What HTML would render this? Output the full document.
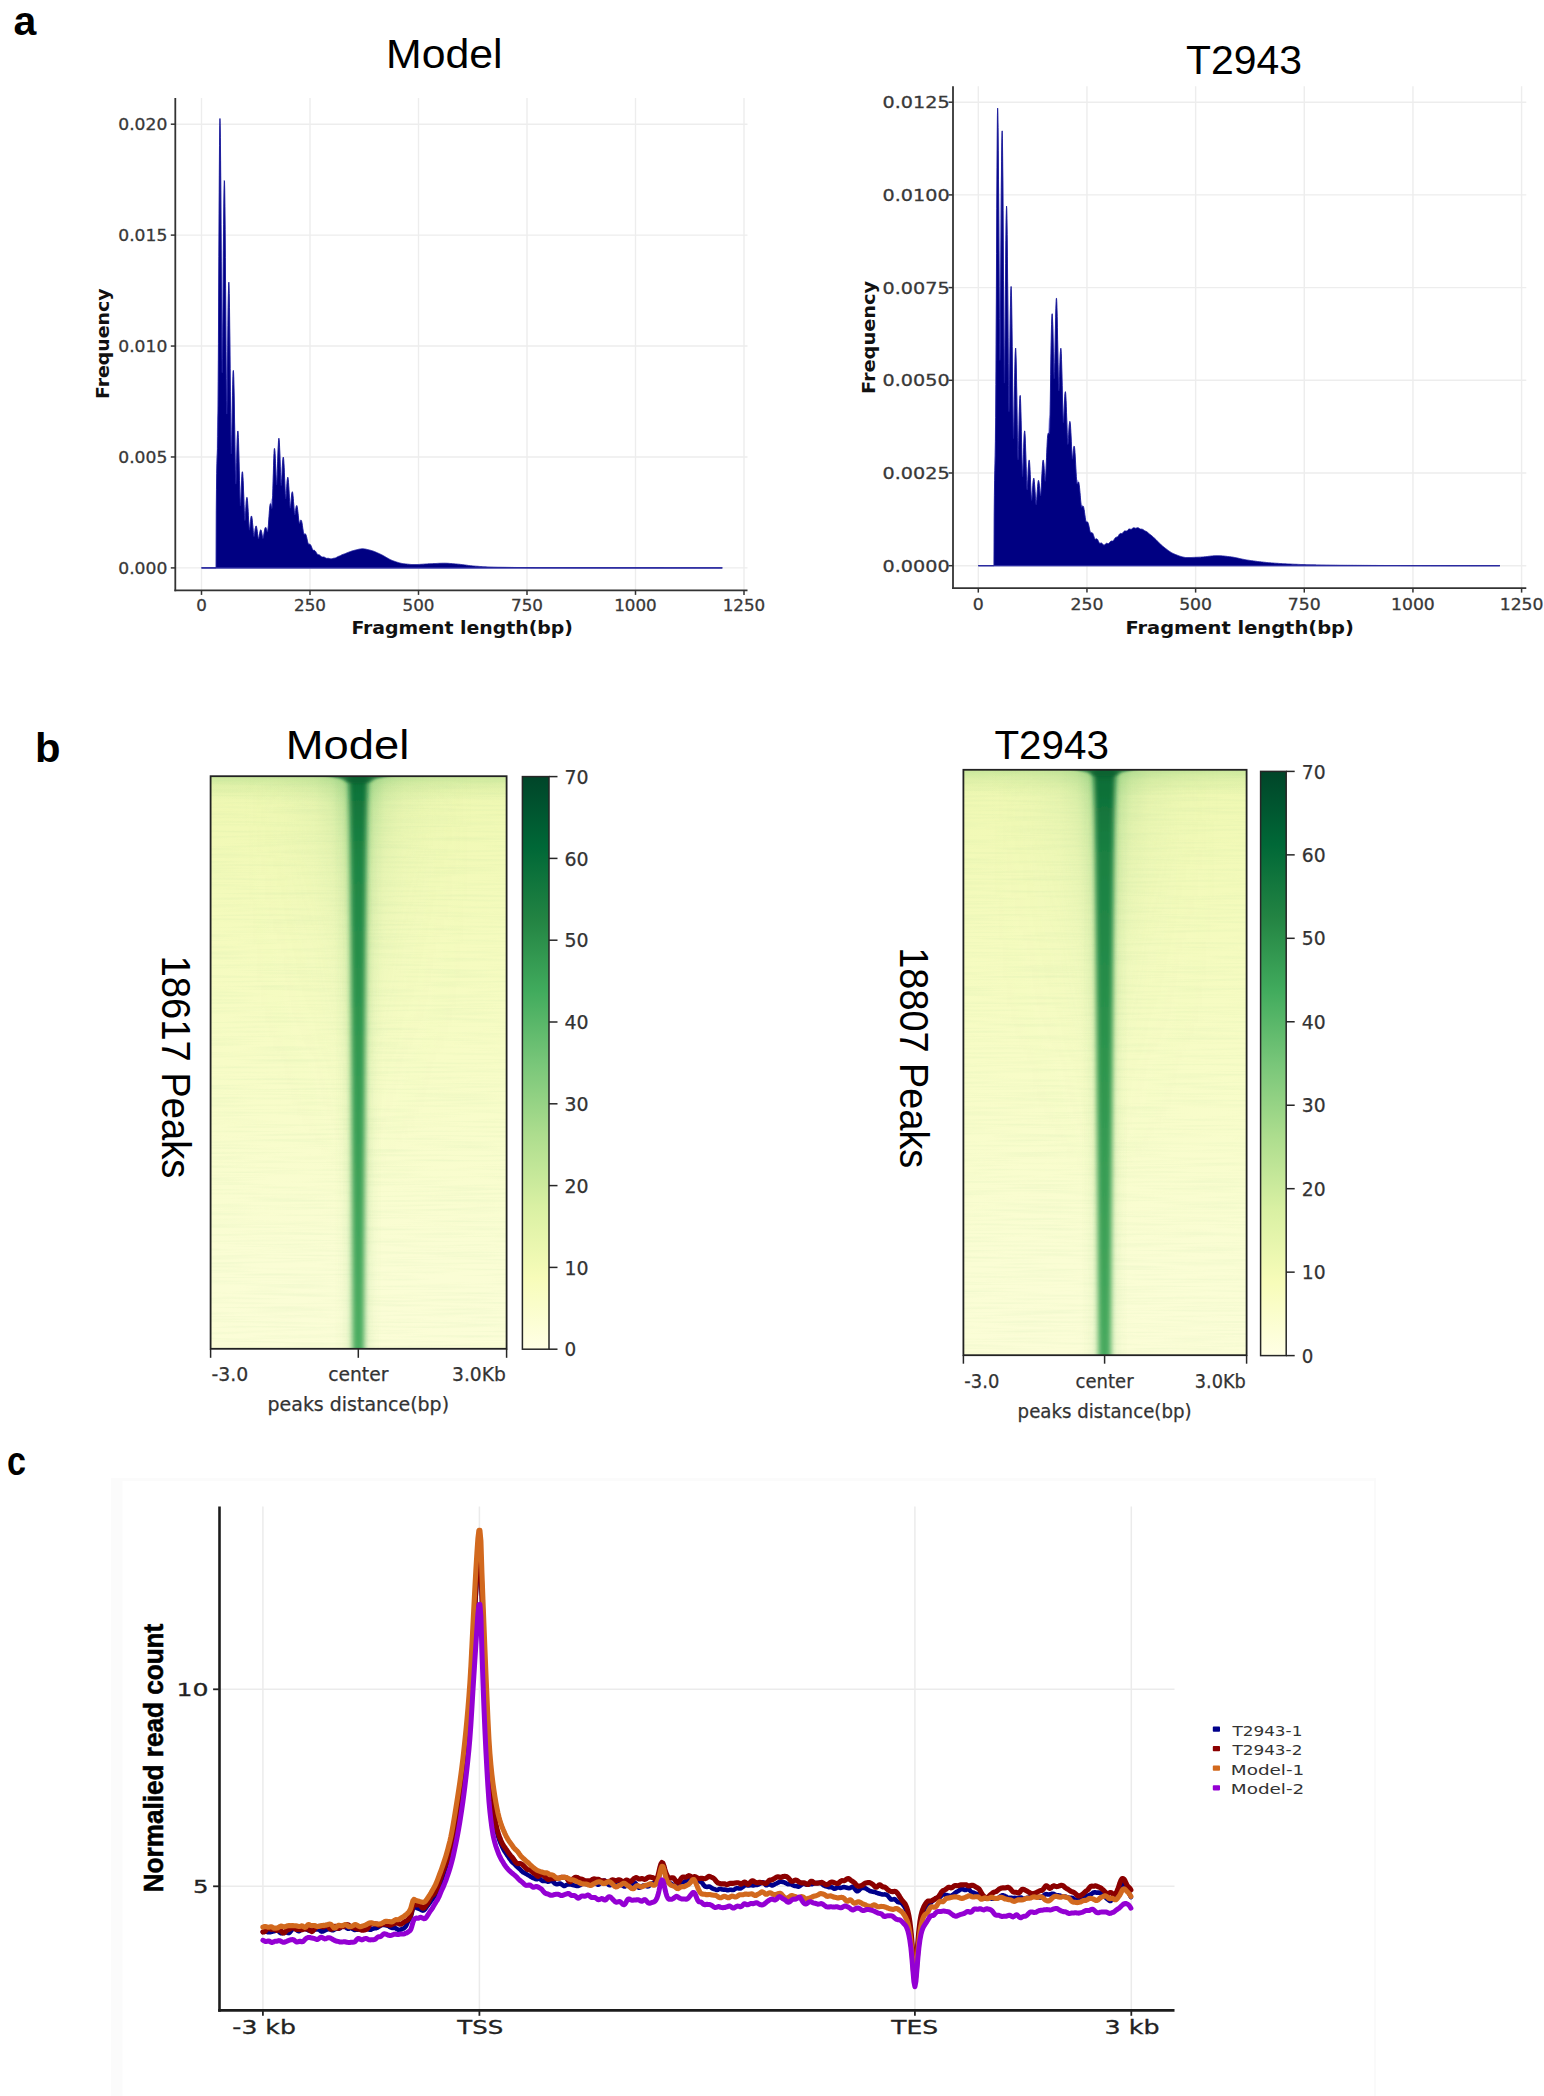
<!DOCTYPE html>
<html lang="en"><head><meta charset="utf-8"><title>ATAC-seq quality figure</title>
<style>html,body{margin:0;padding:0;background:#fff}body{width:1544px;height:2096px;overflow:hidden}svg text{font-kerning:normal}</style></head>
<body>
<svg width="1544" height="2096" viewBox="0 0 1544 2096" style="display:block">
<defs>
<linearGradient id="hlbg" x1="0" y1="0" x2="0" y2="1"><stop offset="0" stop-color="#eaf5ae"/><stop offset="0.04" stop-color="#eff8b3"/><stop offset="0.09" stop-color="#f1f9b6"/><stop offset="0.3" stop-color="#f5fbbf"/><stop offset="0.49" stop-color="#f7fcc6"/><stop offset="0.84" stop-color="#fafdd4"/><stop offset="1" stop-color="#fbfdd7"/></linearGradient>
<linearGradient id="hlh1" x1="0" y1="0" x2="1" y2="0"><stop offset="0.0000" stop-color="#6cbf70" stop-opacity="0"/><stop offset="0.1105" stop-color="#6cbf70" stop-opacity="0.0"/><stop offset="0.2456" stop-color="#6cbf70" stop-opacity="0.04"/><stop offset="0.3470" stop-color="#6cbf70" stop-opacity="0.11"/><stop offset="0.4044" stop-color="#6cbf70" stop-opacity="0.24"/><stop offset="0.4382" stop-color="#6cbf70" stop-opacity="0.42"/><stop offset="0.4652" stop-color="#6cbf70" stop-opacity="0.6"/><stop offset="0.4990" stop-color="#6cbf70" stop-opacity="0.7"/><stop offset="0.4990" stop-color="#6cbf70" stop-opacity="0.7"/><stop offset="0.5328" stop-color="#6cbf70" stop-opacity="0.6"/><stop offset="0.5598" stop-color="#6cbf70" stop-opacity="0.42"/><stop offset="0.5936" stop-color="#6cbf70" stop-opacity="0.24"/><stop offset="0.6510" stop-color="#6cbf70" stop-opacity="0.11"/><stop offset="0.7524" stop-color="#6cbf70" stop-opacity="0.04"/><stop offset="0.8875" stop-color="#6cbf70" stop-opacity="0.0"/><stop offset="1.0000" stop-color="#6cbf70" stop-opacity="0"/></linearGradient>
<linearGradient id="hlh2" x1="0" y1="0" x2="1" y2="0"><stop offset="0.0000" stop-color="#86cb7c" stop-opacity="0"/><stop offset="0.4179" stop-color="#86cb7c" stop-opacity="0.0"/><stop offset="0.4416" stop-color="#86cb7c" stop-opacity="0.06"/><stop offset="0.4584" stop-color="#86cb7c" stop-opacity="0.16"/><stop offset="0.4720" stop-color="#86cb7c" stop-opacity="0.32"/><stop offset="0.4990" stop-color="#86cb7c" stop-opacity="0.4"/><stop offset="0.4990" stop-color="#86cb7c" stop-opacity="0.4"/><stop offset="0.5260" stop-color="#86cb7c" stop-opacity="0.32"/><stop offset="0.5395" stop-color="#86cb7c" stop-opacity="0.16"/><stop offset="0.5564" stop-color="#86cb7c" stop-opacity="0.06"/><stop offset="0.5801" stop-color="#86cb7c" stop-opacity="0.0"/><stop offset="1.0000" stop-color="#86cb7c" stop-opacity="0"/></linearGradient>
<linearGradient id="hlvf" x1="0" y1="0" x2="0" y2="1"><stop offset="0" stop-color="#fff"/><stop offset="0.02" stop-color="#c8c8c8"/><stop offset="0.07" stop-color="#8a8a8a"/><stop offset="0.16" stop-color="#505050"/><stop offset="0.3" stop-color="#282828"/><stop offset="0.5" stop-color="#0c0c0c"/><stop offset="0.7" stop-color="#000"/><stop offset="1" stop-color="#000"/></linearGradient>
<linearGradient id="hlts" x1="0" y1="0" x2="0" y2="1"><stop offset="0" stop-color="#9fd684" stop-opacity="0.42"/><stop offset="0.35" stop-color="#9fd684" stop-opacity="0.17"/><stop offset="1" stop-color="#9fd684" stop-opacity="0"/></linearGradient>
<mask id="hlm1" maskUnits="userSpaceOnUse" x="210.6" y="776.2" width="296.0" height="572.5999999999999"><rect x="210.6" y="776.2" width="296.0" height="572.5999999999999" fill="url(#hlvf)"/></mask>
<linearGradient id="hlvf2" x1="0" y1="0" x2="0" y2="1"><stop offset="0" stop-color="#fff"/><stop offset="0.5" stop-color="#c8c8c8"/><stop offset="1" stop-color="#909090"/></linearGradient>
<mask id="hlm2" maskUnits="userSpaceOnUse" x="210.6" y="776.2" width="296.0" height="572.5999999999999"><rect x="210.6" y="776.2" width="296.0" height="572.5999999999999" fill="url(#hlvf2)"/></mask>
<linearGradient id="hlcore" x1="0" y1="0" x2="0" y2="1"><stop offset="0" stop-color="#065a2d"/><stop offset="0.03" stop-color="#0f7239"/><stop offset="0.15" stop-color="#1d8443"/><stop offset="0.49" stop-color="#329951"/><stop offset="0.92" stop-color="#48aa5f"/><stop offset="1" stop-color="#4cad62"/></linearGradient>
<filter id="hlbl" x="-100%" y="-5%" width="300%" height="110%"><feGaussianBlur stdDeviation="2.5 1.5"/></filter>
<clipPath id="hlcl"><rect x="210.6" y="776.2" width="296.0" height="572.5999999999999"/></clipPath>
<filter id="hltx" x="0" y="0" width="100%" height="100%"><feTurbulence type="fractalNoise" baseFrequency="0.012 0.42" numOctaves="2" seed="7"/><feColorMatrix type="matrix" values="0 0 0 0 0.45  0 0 0 0 0.72  0 0 0 0 0.35  0 0 0 1.4 -0.6"/></filter>
<filter id="hlbc" x="-20%" y="-200%" width="140%" height="500%"><feGaussianBlur stdDeviation="2.2 1.1"/></filter>
<linearGradient id="hlcb" x1="0" y1="1" x2="0" y2="0"><stop offset="0.000" stop-color="#ffffe5"/><stop offset="0.125" stop-color="#f7fcb9"/><stop offset="0.250" stop-color="#d9f0a3"/><stop offset="0.375" stop-color="#addd8e"/><stop offset="0.500" stop-color="#78c679"/><stop offset="0.625" stop-color="#41ab5d"/><stop offset="0.750" stop-color="#238443"/><stop offset="0.875" stop-color="#006837"/><stop offset="1.000" stop-color="#004529"/></linearGradient>
<linearGradient id="hrbg" x1="0" y1="0" x2="0" y2="1"><stop offset="0" stop-color="#eaf5ae"/><stop offset="0.04" stop-color="#eff8b3"/><stop offset="0.09" stop-color="#f1f9b6"/><stop offset="0.3" stop-color="#f5fbbf"/><stop offset="0.49" stop-color="#f7fcc6"/><stop offset="0.84" stop-color="#fafdd4"/><stop offset="1" stop-color="#fbfdd7"/></linearGradient>
<linearGradient id="hrh1" x1="0" y1="0" x2="1" y2="0"><stop offset="0.0000" stop-color="#6cbf70" stop-opacity="0"/><stop offset="0.0925" stop-color="#6cbf70" stop-opacity="0.0"/><stop offset="0.2338" stop-color="#6cbf70" stop-opacity="0.04"/><stop offset="0.3397" stop-color="#6cbf70" stop-opacity="0.11"/><stop offset="0.3997" stop-color="#6cbf70" stop-opacity="0.24"/><stop offset="0.4350" stop-color="#6cbf70" stop-opacity="0.42"/><stop offset="0.4633" stop-color="#6cbf70" stop-opacity="0.6"/><stop offset="0.4986" stop-color="#6cbf70" stop-opacity="0.7"/><stop offset="0.4986" stop-color="#6cbf70" stop-opacity="0.7"/><stop offset="0.5339" stop-color="#6cbf70" stop-opacity="0.6"/><stop offset="0.5621" stop-color="#6cbf70" stop-opacity="0.42"/><stop offset="0.5975" stop-color="#6cbf70" stop-opacity="0.24"/><stop offset="0.6575" stop-color="#6cbf70" stop-opacity="0.11"/><stop offset="0.7634" stop-color="#6cbf70" stop-opacity="0.04"/><stop offset="0.9047" stop-color="#6cbf70" stop-opacity="0.0"/><stop offset="1.0000" stop-color="#6cbf70" stop-opacity="0"/></linearGradient>
<linearGradient id="hrh2" x1="0" y1="0" x2="1" y2="0"><stop offset="0.0000" stop-color="#86cb7c" stop-opacity="0"/><stop offset="0.4138" stop-color="#86cb7c" stop-opacity="0.0"/><stop offset="0.4386" stop-color="#86cb7c" stop-opacity="0.06"/><stop offset="0.4562" stop-color="#86cb7c" stop-opacity="0.16"/><stop offset="0.4703" stop-color="#86cb7c" stop-opacity="0.32"/><stop offset="0.4986" stop-color="#86cb7c" stop-opacity="0.4"/><stop offset="0.4986" stop-color="#86cb7c" stop-opacity="0.4"/><stop offset="0.5268" stop-color="#86cb7c" stop-opacity="0.32"/><stop offset="0.5410" stop-color="#86cb7c" stop-opacity="0.16"/><stop offset="0.5586" stop-color="#86cb7c" stop-opacity="0.06"/><stop offset="0.5833" stop-color="#86cb7c" stop-opacity="0.0"/><stop offset="1.0000" stop-color="#86cb7c" stop-opacity="0"/></linearGradient>
<linearGradient id="hrvf" x1="0" y1="0" x2="0" y2="1"><stop offset="0" stop-color="#fff"/><stop offset="0.02" stop-color="#c8c8c8"/><stop offset="0.07" stop-color="#8a8a8a"/><stop offset="0.16" stop-color="#505050"/><stop offset="0.3" stop-color="#282828"/><stop offset="0.5" stop-color="#0c0c0c"/><stop offset="0.7" stop-color="#000"/><stop offset="1" stop-color="#000"/></linearGradient>
<linearGradient id="hrts" x1="0" y1="0" x2="0" y2="1"><stop offset="0" stop-color="#9fd684" stop-opacity="0.42"/><stop offset="0.35" stop-color="#9fd684" stop-opacity="0.17"/><stop offset="1" stop-color="#9fd684" stop-opacity="0"/></linearGradient>
<mask id="hrm1" maskUnits="userSpaceOnUse" x="963.4" y="769.8" width="283.19999999999993" height="585.4000000000001"><rect x="963.4" y="769.8" width="283.19999999999993" height="585.4000000000001" fill="url(#hrvf)"/></mask>
<linearGradient id="hrvf2" x1="0" y1="0" x2="0" y2="1"><stop offset="0" stop-color="#fff"/><stop offset="0.5" stop-color="#c8c8c8"/><stop offset="1" stop-color="#909090"/></linearGradient>
<mask id="hrm2" maskUnits="userSpaceOnUse" x="963.4" y="769.8" width="283.19999999999993" height="585.4000000000001"><rect x="963.4" y="769.8" width="283.19999999999993" height="585.4000000000001" fill="url(#hrvf2)"/></mask>
<linearGradient id="hrcore" x1="0" y1="0" x2="0" y2="1"><stop offset="0" stop-color="#065a2d"/><stop offset="0.03" stop-color="#0d6e37"/><stop offset="0.15" stop-color="#1a8042"/><stop offset="0.5" stop-color="#2e954e"/><stop offset="0.92" stop-color="#44a75c"/><stop offset="1" stop-color="#48aa5f"/></linearGradient>
<filter id="hrbl" x="-100%" y="-5%" width="300%" height="110%"><feGaussianBlur stdDeviation="2.5 1.5"/></filter>
<clipPath id="hrcl"><rect x="963.4" y="769.8" width="283.19999999999993" height="585.4000000000001"/></clipPath>
<filter id="hrtx" x="0" y="0" width="100%" height="100%"><feTurbulence type="fractalNoise" baseFrequency="0.012 0.42" numOctaves="2" seed="11"/><feColorMatrix type="matrix" values="0 0 0 0 0.45  0 0 0 0 0.72  0 0 0 0 0.35  0 0 0 1.4 -0.6"/></filter>
<filter id="hrbc" x="-20%" y="-200%" width="140%" height="500%"><feGaussianBlur stdDeviation="2.2 1.1"/></filter>
<linearGradient id="hrcb" x1="0" y1="1" x2="0" y2="0"><stop offset="0.000" stop-color="#ffffe5"/><stop offset="0.125" stop-color="#f7fcb9"/><stop offset="0.250" stop-color="#d9f0a3"/><stop offset="0.375" stop-color="#addd8e"/><stop offset="0.500" stop-color="#78c679"/><stop offset="0.625" stop-color="#41ab5d"/><stop offset="0.750" stop-color="#238443"/><stop offset="0.875" stop-color="#006837"/><stop offset="1.000" stop-color="#004529"/></linearGradient>
</defs>
<rect width="1544" height="2096" fill="#fff"/>
<line x1="201.50" y1="98.00" x2="201.50" y2="590.40" stroke="#ededed" stroke-width="1.4"/>
<line x1="310.00" y1="98.00" x2="310.00" y2="590.40" stroke="#ededed" stroke-width="1.4"/>
<line x1="418.50" y1="98.00" x2="418.50" y2="590.40" stroke="#ededed" stroke-width="1.4"/>
<line x1="527.00" y1="98.00" x2="527.00" y2="590.40" stroke="#ededed" stroke-width="1.4"/>
<line x1="635.50" y1="98.00" x2="635.50" y2="590.40" stroke="#ededed" stroke-width="1.4"/>
<line x1="744.00" y1="98.00" x2="744.00" y2="590.40" stroke="#ededed" stroke-width="1.4"/>
<line x1="175.30" y1="567.90" x2="747.50" y2="567.90" stroke="#ededed" stroke-width="1.4"/>
<line x1="175.30" y1="456.97" x2="747.50" y2="456.97" stroke="#ededed" stroke-width="1.4"/>
<line x1="175.30" y1="346.05" x2="747.50" y2="346.05" stroke="#ededed" stroke-width="1.4"/>
<line x1="175.30" y1="235.12" x2="747.50" y2="235.12" stroke="#ededed" stroke-width="1.4"/>
<line x1="175.30" y1="124.20" x2="747.50" y2="124.20" stroke="#ededed" stroke-width="1.4"/>
<polygon points="214.52,567.90 214.52,567.90 214.74,567.90 214.95,567.90 215.17,567.90 215.39,567.90 215.60,567.90 215.82,567.90 216.04,567.90 216.26,505.22 216.47,476.99 216.69,452.19 216.91,431.90 217.12,417.47 217.34,410.99 217.56,417.73 217.78,405.37 217.99,355.50 218.21,312.75 218.43,273.69 218.64,238.09 218.86,206.34 219.08,179.01 219.29,156.70 219.51,139.98 219.73,129.36 219.94,125.25 220.16,126.87 220.38,132.13 220.60,140.92 220.81,153.26 221.03,169.19 221.25,188.84 221.46,212.54 221.68,241.03 221.90,276.28 222.12,325.84 222.33,321.78 222.55,279.84 222.77,251.53 222.98,230.18 223.20,213.79 223.42,201.44 223.63,192.59 223.85,186.93 224.07,184.20 224.28,184.24 224.50,186.90 224.72,192.33 224.94,200.58 225.15,211.56 225.37,225.22 225.59,241.54 225.80,260.59 226.02,282.60 226.24,308.17 226.45,338.96 226.67,382.13 226.89,370.68 227.11,341.12 227.32,321.53 227.54,307.32 227.76,296.87 227.97,289.62 228.19,285.12 228.41,283.03 228.62,283.13 228.84,285.22 229.06,289.15 229.28,294.94 229.49,302.53 229.71,311.82 229.93,322.75 230.14,335.29 230.36,349.47 230.58,365.45 230.79,383.67 231.01,405.34 231.23,436.40 231.45,422.28 231.66,404.00 231.88,391.90 232.10,383.28 232.31,377.20 232.53,373.17 232.75,370.88 232.97,370.15 233.18,370.82 233.40,372.77 233.62,375.91 233.83,380.19 234.05,385.57 234.27,391.98 234.48,399.41 234.70,407.82 234.92,417.27 235.13,427.85 235.35,439.89 235.57,454.29 235.79,476.05 236.00,462.34 236.22,451.24 236.44,443.79 236.65,438.49 236.87,434.76 237.09,432.33 237.31,431.02 237.52,430.70 237.74,431.29 237.96,432.72 238.17,434.92 238.39,437.87 238.61,441.52 238.82,445.85 239.04,450.82 239.26,456.44 239.47,462.73 239.69,469.77 239.91,477.79 240.13,487.44 240.34,503.45 240.56,490.88 240.78,484.09 240.99,479.51 241.21,476.25 241.43,473.99 241.65,472.53 241.86,471.79 242.08,471.67 242.30,472.13 242.51,473.11 242.73,474.59 242.95,476.53 243.16,478.92 243.38,481.75 243.60,484.99 243.81,488.66 244.03,492.78 244.25,497.42 244.47,502.73 244.68,509.23 244.90,519.14 245.12,510.07 245.33,505.67 245.55,502.65 245.77,500.48 245.99,498.96 246.20,498.00 246.42,497.50 246.64,497.44 246.85,497.77 247.07,498.47 247.29,499.51 247.50,500.89 247.72,502.57 247.94,504.55 248.16,506.81 248.37,509.35 248.59,512.18 248.81,515.34 249.02,518.94 249.24,523.36 249.46,528.16 249.67,523.29 249.89,520.71 250.11,518.95 250.32,517.73 250.54,516.89 250.76,516.39 250.98,516.16 251.19,516.18 251.41,516.43 251.63,516.87 251.84,517.52 252.06,518.36 252.28,519.40 252.50,520.62 252.71,522.02 252.93,523.60 253.15,525.37 253.36,527.36 253.58,529.67 253.80,532.57 254.01,534.77 254.23,531.79 254.45,530.05 254.66,528.80 254.88,527.89 255.10,527.22 255.32,526.76 255.53,526.48 255.75,526.36 255.97,526.38 256.18,526.55 256.40,526.85 256.62,527.30 256.83,527.89 257.05,528.62 257.27,529.48 257.49,530.48 257.70,531.62 257.92,532.93 258.14,534.51 258.35,536.58 258.57,537.53 258.79,535.44 259.00,534.10 259.22,533.09 259.44,532.30 259.66,531.66 259.87,531.17 260.09,530.79 260.31,530.53 260.52,530.37 260.74,530.31 260.96,530.36 261.18,530.51 261.39,530.77 261.61,531.14 261.83,531.62 262.04,532.23 262.26,532.97 262.48,533.89 262.69,535.04 262.91,536.70 263.13,536.82 263.35,534.83 263.56,533.41 263.78,532.26 264.00,531.29 264.21,530.47 264.43,529.77 264.65,529.20 264.86,528.73 265.08,528.38 265.30,528.13 265.51,527.93 265.73,527.74 265.95,527.57 266.17,527.43 266.38,527.34 266.60,527.33 266.82,527.52 267.03,527.94 267.25,528.73 267.47,530.30 267.69,529.41 267.90,526.50 268.12,524.06 268.34,521.74 268.55,519.46 268.77,517.22 268.99,515.00 269.20,512.84 269.42,510.74 269.64,508.74 269.86,506.87 270.07,505.16 270.29,503.66 270.51,502.35 270.72,501.05 270.94,499.84 271.16,498.89 271.37,498.35 271.59,498.50 271.81,499.76 272.02,503.57 272.24,498.82 272.46,490.41 272.68,483.24 272.89,476.72 273.11,470.77 273.33,465.31 273.54,460.57 273.76,456.62 273.98,453.52 274.19,451.35 274.41,450.18 274.63,449.71 274.85,449.81 275.06,450.49 275.28,451.77 275.50,453.69 275.71,456.29 275.93,459.69 276.15,464.07 276.37,469.92 276.58,479.43 276.80,473.13 277.02,465.06 277.23,459.03 277.45,454.14 277.67,450.12 277.88,446.84 278.10,444.23 278.32,442.27 278.53,440.93 278.75,440.21 278.97,440.10 279.19,440.69 279.40,441.96 279.62,443.92 279.84,446.54 280.05,449.83 280.27,453.80 280.49,458.52 280.70,464.13 280.92,471.10 281.14,481.96 281.36,475.01 281.57,469.29 281.79,465.40 282.01,462.57 282.22,460.53 282.44,459.14 282.66,458.31 282.88,457.97 283.09,458.07 283.31,458.59 283.53,459.48 283.74,460.81 283.96,462.58 284.18,464.77 284.39,467.39 284.61,470.43 284.83,473.92 285.05,477.92 285.26,482.56 285.48,488.26 285.70,497.88 285.91,490.31 286.13,486.16 286.35,483.29 286.56,481.20 286.78,479.69 287.00,478.66 287.22,478.06 287.43,477.85 287.65,477.99 287.87,478.46 288.08,479.26 288.30,480.37 288.52,481.78 288.73,483.49 288.95,485.49 289.17,487.78 289.38,490.38 289.60,493.35 289.82,496.79 290.04,501.05 290.25,507.63 290.47,501.45 290.69,498.40 290.90,496.26 291.12,494.69 291.34,493.57 291.56,492.83 291.77,492.41 291.99,492.30 292.21,492.48 292.42,492.92 292.64,493.61 292.86,494.53 293.07,495.66 293.29,497.01 293.51,498.57 293.73,500.33 293.94,502.31 294.16,504.55 294.38,507.12 294.59,510.30 294.81,513.79 295.03,510.29 295.24,508.45 295.46,507.23 295.68,506.40 295.89,505.88 296.11,505.62 296.33,505.60 296.55,505.79 296.76,506.17 296.98,506.74 297.20,507.46 297.41,508.35 297.63,509.38 297.85,510.55 298.06,511.85 298.28,513.28 298.50,514.85 298.72,516.57 298.93,518.50 299.15,520.82 299.37,522.66 299.58,520.98 299.80,520.18 300.02,519.75 300.24,519.56 300.45,519.55 300.67,519.70 300.89,520.00 301.10,520.43 301.32,520.97 301.54,521.62 301.75,522.35 301.97,523.18 302.19,524.09 302.40,525.07 302.62,526.12 302.84,527.24 303.06,528.43 303.27,529.71 303.49,531.11 303.71,532.75 303.92,533.74 304.14,533.11 304.36,532.90 304.57,532.89 304.79,533.02 305.01,533.26 305.23,533.60 305.44,534.01 305.66,534.49 305.88,535.02 306.09,535.61 306.31,536.25 306.53,536.92 306.75,537.62 306.96,538.35 307.18,539.11 307.40,539.89 307.61,540.69 307.83,541.51 308.05,542.39 308.26,543.40 308.48,543.84 308.70,543.59 308.92,543.55 309.13,543.61 309.35,543.74 309.57,543.91 309.78,544.13 310.00,544.39 310.22,544.67 310.43,544.99 310.65,545.33 310.87,545.69 311.08,546.07 311.30,546.46 311.52,546.88 311.74,547.31 311.95,547.75 312.17,548.21 312.39,548.69 312.60,549.21 312.82,549.81 313.04,550.00 313.25,549.92 313.47,549.94 313.69,550.00 313.91,550.10 314.12,550.23 314.34,550.38 314.56,550.56 314.77,550.76 314.99,550.97 315.21,551.20 315.43,567.90 315.64,567.90 315.64,567.90" fill="#8f8fe6" opacity="0.8"/>
<polygon points="201.50,567.90 201.50,567.90 201.72,567.90 201.93,567.90 202.15,567.90 202.37,567.90 202.59,567.90 202.80,567.90 203.02,567.90 203.24,567.90 203.45,567.90 203.67,567.90 203.89,567.90 204.10,567.90 204.32,567.90 204.54,567.90 204.75,567.90 204.97,567.90 205.19,567.90 205.41,567.90 205.62,567.90 205.84,567.90 206.06,567.90 206.27,567.90 206.49,567.90 206.71,567.90 206.93,567.90 207.14,567.90 207.36,567.90 207.58,567.90 207.79,567.90 208.01,567.90 208.23,567.90 208.44,567.90 208.66,567.90 208.88,567.90 209.09,567.90 209.31,567.90 209.53,567.90 209.75,567.90 209.96,567.90 210.18,567.90 210.40,567.90 210.61,567.90 210.83,567.90 211.05,567.90 211.26,567.90 211.48,567.90 211.70,567.90 211.92,567.90 212.13,567.90 212.35,567.90 212.57,567.90 212.78,567.90 213.00,567.90 213.22,567.90 213.44,567.90 213.65,567.90 213.87,567.90 214.09,567.90 214.30,567.90 214.52,567.90 214.74,567.90 214.95,567.90 215.17,567.90 215.39,567.90 215.60,567.90 215.82,567.90 216.04,567.90 216.26,510.54 216.47,489.19 216.69,473.68 216.91,463.63 217.12,457.74 217.34,453.83 217.56,448.78 217.78,436.38 217.99,413.04 218.21,381.61 218.43,343.57 218.64,301.03 218.86,256.73 219.08,213.85 219.29,175.72 219.51,145.50 219.73,125.82 219.94,118.51 220.16,123.31 220.38,137.75 220.60,160.68 220.81,190.41 221.03,224.76 221.25,261.18 221.46,296.94 221.68,329.25 221.90,355.29 222.12,372.02 222.33,372.67 222.55,358.50 222.77,336.21 222.98,308.97 223.20,279.58 223.42,250.62 223.63,224.45 223.85,203.09 224.07,188.12 224.28,180.62 224.50,181.12 224.72,189.86 224.94,206.35 225.15,229.45 225.37,257.55 225.59,288.70 225.80,320.77 226.02,351.53 226.24,378.76 226.45,400.33 226.67,413.92 226.89,414.06 227.11,403.39 227.32,386.86 227.54,366.99 227.76,345.67 227.97,325.29 228.19,307.56 228.41,293.87 228.62,285.21 228.84,282.18 229.06,284.98 229.28,293.52 229.49,307.23 229.71,325.16 229.93,346.08 230.14,368.61 230.36,391.24 230.58,412.49 230.79,430.92 231.01,445.18 231.23,453.73 231.45,452.91 231.66,445.47 231.88,434.45 232.10,421.49 232.31,408.03 232.53,395.33 232.75,384.47 232.97,376.34 233.18,371.54 233.40,370.43 233.62,373.10 233.83,379.39 234.05,388.92 234.27,401.02 234.48,414.92 234.70,429.70 234.92,444.41 235.13,458.12 235.35,469.90 235.57,478.89 235.79,484.08 236.00,483.05 236.22,478.08 236.44,470.91 236.65,462.57 236.87,453.97 237.09,445.93 237.31,439.14 237.52,434.14 237.74,431.34 237.96,430.96 238.17,433.02 238.39,437.43 238.61,443.89 238.82,451.97 239.04,461.16 239.26,470.87 239.47,480.47 239.69,489.35 239.91,496.94 240.13,502.65 240.34,505.80 240.56,504.85 240.78,501.54 240.99,496.87 241.21,491.49 241.43,485.99 241.65,480.89 241.86,476.62 242.08,473.54 242.30,471.89 242.51,471.80 242.73,473.30 242.95,476.29 243.16,480.59 243.38,485.93 243.60,491.96 243.81,498.30 244.03,504.54 244.25,510.29 244.47,515.16 244.68,518.78 244.90,520.60 245.12,519.65 245.33,517.25 245.55,514.00 245.77,510.32 245.99,506.61 246.20,503.20 246.42,500.39 246.64,498.41 246.85,497.41 247.07,497.47 247.29,498.60 247.50,500.73 247.72,503.71 247.94,507.36 248.16,511.44 248.37,515.68 248.59,519.82 248.81,523.60 249.02,526.76 249.24,529.07 249.46,530.15 249.67,529.53 249.89,528.04 250.11,526.03 250.32,523.77 250.54,521.50 250.76,519.44 250.98,517.76 251.19,516.59 251.41,516.03 251.63,516.12 251.84,516.86 252.06,518.22 252.28,520.13 252.50,522.45 252.71,525.03 252.93,527.70 253.15,530.30 253.36,532.66 253.58,534.61 253.80,535.99 254.01,536.51 254.23,535.95 254.45,534.83 254.66,533.37 254.88,531.75 255.10,530.12 255.32,528.62 255.53,527.37 255.75,526.47 255.97,525.98 256.18,525.93 256.40,526.33 256.62,527.16 256.83,528.38 257.05,529.88 257.27,531.57 257.49,533.34 257.70,535.05 257.92,536.59 258.14,537.88 258.35,538.77 258.57,539.01 258.79,538.49 259.00,537.56 259.22,536.38 259.44,535.06 259.66,533.71 259.87,532.44 260.09,531.34 260.31,530.50 260.52,529.95 260.74,529.74 260.96,529.89 261.18,530.37 261.39,531.16 261.61,532.19 261.83,533.39 262.04,534.66 262.26,535.90 262.48,537.02 262.69,537.89 262.91,538.40 263.13,538.31 263.35,537.58 263.56,536.49 263.78,535.16 264.00,533.71 264.21,532.23 264.43,530.83 264.65,529.59 264.86,528.59 265.08,527.89 265.30,527.52 265.51,527.44 265.73,527.59 265.95,527.94 266.17,528.47 266.38,529.10 266.60,529.78 266.82,530.60 267.03,531.35 267.25,531.90 267.47,532.09 267.69,531.53 267.90,530.20 268.12,528.28 268.34,525.86 268.55,523.04 268.77,519.95 268.99,516.74 269.20,513.57 269.42,510.61 269.64,508.02 269.86,505.94 270.07,504.49 270.29,503.76 270.51,503.68 270.72,504.03 270.94,504.74 271.16,505.74 271.37,506.88 271.59,507.91 271.81,508.51 272.02,508.19 272.24,505.81 272.46,501.43 272.68,495.63 272.89,488.76 273.11,481.19 273.33,473.13 273.54,465.49 273.76,458.78 273.98,453.46 274.19,449.92 274.41,448.40 274.63,448.69 274.85,450.56 275.06,453.85 275.28,458.29 275.50,463.51 275.71,469.08 275.93,474.53 276.15,479.35 276.37,483.02 276.58,484.90 276.80,483.54 277.02,479.73 277.23,474.45 277.45,468.25 277.67,461.64 277.88,455.12 278.10,449.18 278.32,444.22 278.53,440.59 278.75,438.54 278.97,438.21 279.19,439.68 279.40,442.86 279.62,447.49 279.84,453.23 280.05,459.66 280.27,466.32 280.49,472.72 280.70,478.37 280.92,482.79 281.14,485.41 281.36,484.95 281.57,482.48 281.79,478.85 282.01,474.56 282.22,470.06 282.44,465.78 282.66,462.08 282.88,459.27 283.09,457.56 283.31,457.09 283.53,457.90 283.74,460.04 283.96,463.39 284.18,467.73 284.39,472.80 284.61,478.26 284.83,483.75 285.05,488.92 285.26,493.41 285.48,496.86 285.70,498.81 285.91,498.31 286.13,496.35 286.35,493.52 286.56,490.20 286.78,486.75 287.00,483.49 287.22,480.70 287.43,478.61 287.65,477.41 287.87,477.19 288.08,478.00 288.30,479.80 288.52,482.47 288.73,485.85 288.95,489.70 289.17,493.79 289.38,497.83 289.60,501.57 289.82,504.73 290.04,507.06 290.25,508.20 290.47,507.52 290.69,505.85 290.90,503.59 291.12,501.02 291.34,498.42 291.56,496.01 291.77,494.01 291.99,492.57 292.21,491.82 292.42,491.82 292.64,492.57 292.86,494.02 293.07,496.07 293.29,498.61 293.51,501.46 293.73,504.45 293.94,507.38 294.16,510.08 294.38,512.35 294.59,514.03 294.81,514.84 295.03,514.43 295.24,513.39 295.46,511.99 295.68,510.42 295.89,508.86 296.11,507.47 296.33,506.39 296.55,505.72 296.76,505.51 296.98,505.82 297.20,506.62 297.41,507.89 297.63,509.54 297.85,511.49 298.06,513.62 298.28,515.81 298.50,517.95 298.72,519.90 298.93,521.56 299.15,522.82 299.37,523.50 299.58,523.45 299.80,523.05 300.02,522.44 300.24,521.76 300.45,521.10 300.67,520.57 300.89,520.24 301.10,520.18 301.32,520.40 301.54,520.91 301.75,521.72 301.97,522.79 302.19,524.07 302.40,525.51 302.62,527.05 302.84,528.61 303.06,530.11 303.27,531.50 303.49,532.71 303.71,533.67 303.92,534.27 304.14,534.46 304.36,534.44 304.57,534.32 304.79,534.16 305.01,534.02 305.23,533.96 305.44,534.02 305.66,534.23 305.88,534.59 306.09,535.12 306.31,535.81 306.53,536.63 306.75,537.55 306.96,538.55 307.18,539.58 307.40,540.59 307.61,541.56 307.83,542.43 308.05,543.18 308.26,543.77 308.48,544.13 308.70,544.28 308.92,544.33 309.13,544.31 309.35,544.26 309.57,544.23 309.78,544.24 310.00,544.30 310.22,544.44 310.43,544.67 310.65,544.98 310.87,545.38 311.08,545.84 311.30,546.37 311.52,546.93 311.74,547.51 311.95,548.08 312.17,548.63 312.39,549.13 312.60,549.56 312.82,549.91 313.04,550.13 313.25,550.24 313.47,550.29 313.69,550.31 313.91,550.31 314.12,550.32 314.34,550.36 314.56,550.44 314.77,550.56 314.99,550.73 315.21,550.95 315.43,551.21 315.64,551.52 315.86,551.87 316.08,552.23 316.29,552.61 316.51,552.99 316.73,553.35 316.94,553.69 317.16,553.99 317.38,554.23 317.60,554.40 317.81,554.51 318.03,554.58 318.25,554.63 318.46,554.67 318.68,554.71 318.90,554.76 319.11,554.82 319.33,554.91 319.55,555.03 319.76,555.17 319.98,555.34 320.20,555.52 320.42,555.73 320.63,555.94 320.85,556.15 321.07,556.36 321.28,556.55 321.50,556.72 321.72,556.86 321.94,556.97 322.15,557.03 322.37,557.05 322.59,557.05 322.80,557.04 323.02,557.03 323.24,557.02 323.45,557.02 323.67,557.04 323.89,557.07 324.11,557.12 324.32,557.19 324.54,557.28 324.76,557.39 324.97,557.51 325.19,557.64 325.41,557.78 325.62,557.91 325.84,558.04 326.06,558.15 326.27,558.25 326.49,558.32 326.71,558.36 326.93,558.37 327.14,558.37 327.36,558.36 327.58,558.34 327.79,558.33 328.01,558.32 328.23,558.32 328.44,558.33 328.66,558.36 328.88,558.39 329.10,558.44 329.31,558.49 329.53,558.55 329.75,558.61 329.96,558.68 330.18,558.74 330.40,558.79 330.62,558.84 330.83,558.87 331.05,558.88 331.27,558.86 331.48,558.83 331.70,558.78 331.92,558.73 332.13,558.67 332.35,558.61 332.57,558.54 332.78,558.48 333.00,558.42 333.22,558.37 333.44,558.32 333.65,558.28 333.87,558.24 334.09,558.21 334.30,558.17 334.52,558.14 334.74,558.10 334.96,558.06 335.17,558.01 335.39,557.95 335.61,557.88 335.82,557.78 336.04,557.67 336.26,557.55 336.47,557.42 336.69,557.30 336.91,557.17 337.12,557.04 337.34,556.92 337.56,556.81 337.78,556.70 337.99,556.60 338.21,556.50 338.43,556.42 338.64,556.34 338.86,556.26 339.08,556.18 339.29,556.10 339.51,556.03 339.73,555.94 339.95,555.85 340.16,555.75 340.38,555.64 340.60,555.52 340.81,555.39 341.03,555.27 341.25,555.15 341.47,555.03 341.68,554.91 341.90,554.80 342.12,554.70 342.33,554.61 342.55,554.53 342.77,554.45 342.98,554.39 343.20,554.32 343.42,554.26 343.63,554.20 343.85,554.13 344.07,554.06 344.29,553.99 344.50,553.91 344.72,553.83 344.94,553.74 345.15,553.64 345.37,553.54 345.59,553.44 345.81,553.34 346.02,553.24 346.24,553.15 346.46,553.06 346.67,552.97 346.89,552.88 347.11,552.80 347.32,552.71 347.54,552.63 347.76,552.55 347.98,552.47 348.19,552.39 348.41,552.30 348.63,552.22 348.84,552.13 349.06,552.04 349.28,551.96 349.49,551.88 349.71,551.80 349.93,551.72 350.14,551.64 350.36,551.57 350.58,551.49 350.80,551.41 351.01,551.34 351.23,551.27 351.45,551.19 351.66,551.12 351.88,551.05 352.10,550.98 352.31,550.91 352.53,550.85 352.75,550.78 352.97,550.72 353.18,550.66 353.40,550.60 353.62,550.54 353.83,550.48 354.05,550.43 354.27,550.37 354.49,550.32 354.70,550.27 354.92,550.21 355.14,550.16 355.35,550.10 355.57,550.05 355.79,549.99 356.00,549.93 356.22,549.88 356.44,549.82 356.65,549.77 356.87,549.71 357.09,549.66 357.31,549.60 357.52,549.55 357.74,549.50 357.96,549.45 358.17,549.40 358.39,549.35 358.61,549.30 358.82,549.25 359.04,549.21 359.26,549.17 359.48,549.13 359.69,549.09 359.91,549.05 360.13,549.02 360.34,548.99 360.56,548.96 360.78,548.93 361.00,548.90 361.21,548.88 361.43,548.86 361.65,548.85 361.86,548.84 362.08,548.83 362.30,548.82 362.51,548.82 362.73,548.82 362.95,548.83 363.16,548.84 363.38,548.85 363.60,548.86 363.82,548.88 364.03,548.90 364.25,548.93 364.47,548.95 364.68,548.98 364.90,549.01 365.12,549.05 365.34,549.08 365.55,549.12 365.77,549.16 365.99,549.20 366.20,549.24 366.42,549.29 366.64,549.34 366.85,549.38 367.07,549.43 367.29,549.49 367.50,549.54 367.72,549.59 367.94,549.64 368.16,549.70 368.37,549.75 368.59,549.81 368.81,549.87 369.02,549.92 369.24,549.98 369.46,550.04 369.68,550.09 369.89,550.15 370.11,550.21 370.33,550.26 370.54,550.32 370.76,550.37 370.98,550.43 371.19,550.49 371.41,550.55 371.63,550.61 371.85,550.68 372.06,550.74 372.28,550.81 372.50,550.88 372.71,550.95 372.93,551.03 373.15,551.10 373.36,551.18 373.58,551.26 373.80,551.34 374.01,551.42 374.23,551.50 374.45,551.59 374.67,551.67 374.88,551.76 375.10,551.85 375.32,551.94 375.53,552.03 375.75,552.12 375.97,552.21 376.19,552.31 376.40,552.40 376.62,552.49 376.84,552.59 377.05,552.69 377.27,552.78 377.49,552.88 377.70,552.98 377.92,553.08 378.14,553.17 378.36,553.27 378.57,553.37 378.79,553.47 379.01,553.57 379.22,553.67 379.44,553.77 379.66,553.87 379.87,553.97 380.09,554.07 380.31,554.17 380.52,554.27 380.74,554.37 380.96,554.47 381.18,554.57 381.39,554.67 381.61,554.78 381.83,554.89 382.04,555.00 382.26,555.11 382.48,555.23 382.69,555.34 382.91,555.46 383.13,555.58 383.35,555.70 383.56,555.82 383.78,555.94 384.00,556.07 384.21,556.19 384.43,556.32 384.65,556.44 384.87,556.57 385.08,556.70 385.30,556.83 385.52,556.95 385.73,557.08 385.95,557.21 386.17,557.34 386.38,557.47 386.60,557.60 386.82,557.72 387.03,557.85 387.25,557.98 387.47,558.10 387.69,558.23 387.90,558.35 388.12,558.48 388.34,558.60 388.55,558.72 388.77,558.84 388.99,558.96 389.21,559.08 389.42,559.19 389.64,559.30 389.86,559.42 390.07,559.53 390.29,559.63 390.51,559.74 390.72,559.84 390.94,559.94 391.16,560.04 391.38,560.14 391.59,560.23 391.81,560.32 392.03,560.41 392.24,560.50 392.46,560.58 392.68,560.66 392.89,560.74 393.11,560.82 393.33,560.90 393.54,560.98 393.76,561.06 393.98,561.14 394.20,561.22 394.41,561.29 394.63,561.37 394.85,561.45 395.06,561.53 395.28,561.60 395.50,561.68 395.72,561.75 395.93,561.83 396.15,561.90 396.37,561.97 396.58,562.05 396.80,562.12 397.02,562.19 397.23,562.26 397.45,562.33 397.67,562.39 397.88,562.46 398.10,562.53 398.32,562.59 398.54,562.66 398.75,562.72 398.97,562.78 399.19,562.84 399.40,562.90 399.62,562.95 399.84,563.01 400.06,563.06 400.27,563.12 400.49,563.17 400.71,563.22 400.92,563.27 401.14,563.31 401.36,563.36 401.57,563.40 401.79,563.44 402.01,563.48 402.23,563.52 402.44,563.56 402.66,563.59 402.88,563.63 403.09,563.66 403.31,563.68 403.53,563.71 403.74,563.74 403.96,563.77 404.18,563.79 404.39,563.82 404.61,563.85 404.83,563.88 405.05,563.90 405.26,563.93 405.48,563.95 405.70,563.98 405.91,564.01 406.13,564.03 406.35,564.05 406.56,564.08 406.78,564.10 407.00,564.13 407.22,564.15 407.43,564.17 407.65,564.20 407.87,564.22 408.08,564.24 408.30,564.26 408.52,564.28 408.74,564.30 408.95,564.32 409.17,564.34 409.39,564.36 409.60,564.38 409.82,564.39 410.04,564.41 410.25,564.42 410.47,564.44 410.69,564.45 410.90,564.47 411.12,564.48 411.34,564.49 411.56,564.50 411.77,564.51 411.99,564.52 412.21,564.53 412.42,564.54 412.64,564.55 412.86,564.55 413.07,564.56 413.29,564.56 413.51,564.57 413.73,564.57 413.94,564.57 414.16,564.57 414.38,564.57 414.59,564.57 414.81,564.57 415.03,564.57 415.25,564.56 415.46,564.56 415.68,564.56 415.90,564.55 416.11,564.55 416.33,564.54 416.55,564.54 416.76,564.53 416.98,564.53 417.20,564.52 417.41,564.51 417.63,564.50 417.85,564.49 418.07,564.49 418.28,564.48 418.50,564.47 418.72,564.46 418.93,564.45 419.15,564.44 419.37,564.42 419.59,564.41 419.80,564.40 420.02,564.39 420.24,564.38 420.45,564.37 420.67,564.35 420.89,564.34 421.10,564.33 421.32,564.31 421.54,564.30 421.75,564.29 421.97,564.27 422.19,564.26 422.41,564.25 422.62,564.23 422.84,564.22 423.06,564.20 423.27,564.19 423.49,564.17 423.71,564.16 423.93,564.14 424.14,564.13 424.36,564.11 424.58,564.10 424.79,564.08 425.01,564.07 425.23,564.05 425.44,564.04 425.66,564.02 425.88,564.01 426.10,563.99 426.31,563.98 426.53,563.97 426.75,563.95 426.96,563.94 427.18,563.92 427.40,563.91 427.61,563.89 427.83,563.88 428.05,563.87 428.26,563.85 428.48,563.84 428.70,563.83 428.92,563.81 429.13,563.80 429.35,563.79 429.57,563.78 429.78,563.77 430.00,563.76 430.22,563.74 430.44,563.73 430.65,563.72 430.87,563.71 431.09,563.70 431.30,563.69 431.52,563.68 431.74,563.68 431.95,563.67 432.17,563.66 432.39,563.65 432.61,563.64 432.82,563.63 433.04,563.62 433.26,563.61 433.47,563.60 433.69,563.59 433.91,563.58 434.12,563.57 434.34,563.56 434.56,563.55 434.77,563.54 434.99,563.53 435.21,563.52 435.43,563.51 435.64,563.50 435.86,563.49 436.08,563.48 436.29,563.47 436.51,563.46 436.73,563.45 436.94,563.44 437.16,563.43 437.38,563.42 437.60,563.42 437.81,563.41 438.03,563.40 438.25,563.39 438.46,563.38 438.68,563.37 438.90,563.36 439.12,563.35 439.33,563.35 439.55,563.34 439.77,563.33 439.98,563.32 440.20,563.32 440.42,563.31 440.63,563.30 440.85,563.30 441.07,563.29 441.28,563.29 441.50,563.28 441.72,563.28 441.94,563.27 442.15,563.27 442.37,563.26 442.59,563.26 442.80,563.25 443.02,563.25 443.24,563.25 443.45,563.25 443.67,563.24 443.89,563.24 444.11,563.24 444.32,563.24 444.54,563.24 444.76,563.24 444.97,563.24 445.19,563.24 445.41,563.25 445.62,563.25 445.84,563.26 446.06,563.26 446.28,563.27 446.49,563.27 446.71,563.28 446.93,563.29 447.14,563.30 447.36,563.31 447.58,563.32 447.79,563.33 448.01,563.34 448.23,563.35 448.45,563.36 448.66,563.38 448.88,563.39 449.10,563.40 449.31,563.42 449.53,563.43 449.75,563.45 449.97,563.46 450.18,563.48 450.40,563.50 450.62,563.51 450.83,563.53 451.05,563.55 451.27,563.56 451.48,563.58 451.70,563.60 451.92,563.62 452.13,563.64 452.35,563.66 452.57,563.68 452.79,563.70 453.00,563.72 453.22,563.74 453.44,563.76 453.65,563.78 453.87,563.79 454.09,563.82 454.31,563.84 454.52,563.86 454.74,563.88 454.96,563.90 455.17,563.92 455.39,563.94 455.61,563.96 455.82,563.98 456.04,563.99 456.26,564.01 456.48,564.03 456.69,564.05 456.91,564.07 457.13,564.09 457.34,564.11 457.56,564.13 457.78,564.15 457.99,564.17 458.21,564.19 458.43,564.21 458.64,564.23 458.86,564.25 459.08,564.27 459.30,564.29 459.51,564.31 459.73,564.34 459.95,564.36 460.16,564.39 460.38,564.41 460.60,564.43 460.81,564.46 461.03,564.48 461.25,564.51 461.47,564.54 461.68,564.56 461.90,564.59 462.12,564.62 462.33,564.64 462.55,564.67 462.77,564.70 462.99,564.72 463.20,564.75 463.42,564.78 463.64,564.81 463.85,564.84 464.07,564.87 464.29,564.89 464.50,564.92 464.72,564.95 464.94,564.98 465.15,565.01 465.37,565.04 465.59,565.07 465.81,565.10 466.02,565.13 466.24,565.15 466.46,565.18 466.67,565.21 466.89,565.24 467.11,565.27 467.32,565.30 467.54,565.33 467.76,565.36 467.98,565.38 468.19,565.41 468.41,565.44 468.63,565.47 468.84,565.50 469.06,565.52 469.28,565.55 469.50,565.58 469.71,565.60 469.93,565.63 470.15,565.66 470.36,565.68 470.58,565.71 470.80,565.73 471.01,565.76 471.23,565.78 471.45,565.80 471.67,565.83 471.88,565.85 472.10,565.87 472.32,565.90 472.53,565.92 472.75,565.94 472.97,565.96 473.18,565.98 473.40,566.00 473.62,566.02 473.83,566.04 474.05,566.06 474.27,566.08 474.49,566.09 474.70,566.11 474.92,566.13 475.14,566.14 475.35,566.16 475.57,566.17 475.79,566.19 476.00,566.20 476.22,566.22 476.44,566.23 476.66,566.25 476.87,566.26 477.09,566.28 477.31,566.29 477.52,566.31 477.74,566.32 477.96,566.34 478.18,566.35 478.39,566.37 478.61,566.38 478.83,566.40 479.04,566.41 479.26,566.43 479.48,566.44 479.69,566.46 479.91,566.47 480.13,566.49 480.34,566.50 480.56,566.52 480.78,566.53 481.00,566.54 481.21,566.56 481.43,566.57 481.65,566.59 481.86,566.60 482.08,566.61 482.30,566.63 482.51,566.64 482.73,566.65 482.95,566.67 483.17,566.68 483.38,566.69 483.60,566.71 483.82,566.72 484.03,566.73 484.25,566.74 484.47,566.76 484.69,566.77 484.90,566.78 485.12,566.79 485.34,566.81 485.55,566.82 485.77,566.83 485.99,566.84 486.20,566.85 486.42,566.87 486.64,566.88 486.86,566.89 487.07,566.90 487.29,566.91 487.51,566.92 487.72,566.93 487.94,566.94 488.16,566.95 488.37,566.96 488.59,566.97 488.81,566.98 489.02,566.99 489.24,567.00 489.46,567.01 489.68,567.02 489.89,567.03 490.11,567.04 490.33,567.05 490.54,567.06 490.76,567.07 490.98,567.08 491.19,567.08 491.41,567.09 491.63,567.10 491.85,567.11 492.06,567.12 492.28,567.12 492.50,567.13 492.71,567.14 492.93,567.15 493.15,567.15 493.37,567.16 493.58,567.17 493.80,567.17 494.02,567.18 494.23,567.18 494.45,567.19 494.67,567.19 494.88,567.20 495.10,567.20 495.32,567.21 495.54,567.21 495.75,567.22 495.97,567.22 496.19,567.23 496.40,567.23 496.62,567.23 496.84,567.24 497.05,567.24 497.27,567.24 497.49,567.25 497.70,567.25 497.92,567.26 498.14,567.26 498.36,567.26 498.57,567.27 498.79,567.27 499.01,567.27 499.22,567.28 499.44,567.28 499.66,567.28 499.88,567.29 500.09,567.29 500.31,567.29 500.53,567.29 500.74,567.30 500.96,567.30 501.18,567.30 501.39,567.31 501.61,567.31 501.83,567.31 502.05,567.32 502.26,567.32 502.48,567.32 502.70,567.33 502.91,567.33 503.13,567.33 503.35,567.34 503.56,567.34 503.78,567.34 504.00,567.34 504.21,567.35 504.43,567.35 504.65,567.35 504.87,567.36 505.08,567.36 505.30,567.36 505.52,567.36 505.73,567.37 505.95,567.37 506.17,567.37 506.38,567.38 506.60,567.38 506.82,567.38 507.04,567.38 507.25,567.39 507.47,567.39 507.69,567.39 507.90,567.40 508.12,567.40 508.34,567.40 508.56,567.40 508.77,567.41 508.99,567.41 509.21,567.41 509.42,567.41 509.64,567.42 509.86,567.42 510.07,567.42 510.29,567.42 510.51,567.43 510.73,567.43 510.94,567.43 511.16,567.43 511.38,567.44 511.59,567.44 511.81,567.44 512.03,567.44 512.24,567.45 512.46,567.45 512.68,567.45 512.89,567.45 513.11,567.46 513.33,567.46 513.55,567.46 513.76,567.46 513.98,567.46 514.20,567.47 514.41,567.47 514.63,567.47 514.85,567.47 515.07,567.48 515.28,567.48 515.50,567.48 515.72,567.48 515.93,567.48 516.15,567.49 516.37,567.49 516.58,567.49 516.80,567.49 517.02,567.50 517.24,567.50 517.45,567.50 517.67,567.50 517.89,567.50 518.10,567.51 518.32,567.51 518.54,567.51 518.75,567.51 518.97,567.51 519.19,567.52 519.40,567.52 519.62,567.52 519.84,567.52 520.06,567.52 520.27,567.52 520.49,567.53 520.71,567.53 520.92,567.53 521.14,567.53 521.36,567.53 521.58,567.54 521.79,567.54 522.01,567.54 522.23,567.54 522.44,567.54 522.66,567.55 522.88,567.55 523.09,567.55 523.31,567.55 523.53,567.55 523.75,567.55 523.96,567.56 524.18,567.56 524.40,567.56 524.61,567.56 524.83,567.56 525.05,567.56 525.26,567.57 525.48,567.57 525.70,567.57 525.91,567.57 526.13,567.57 526.35,567.57 526.57,567.57 526.78,567.58 527.00,567.58 527.22,567.58 527.43,567.58 527.65,567.58 527.87,567.58 528.09,567.59 528.30,567.59 528.52,567.59 528.74,567.59 528.95,567.59 529.17,567.59 529.39,567.59 529.60,567.60 529.82,567.60 530.04,567.60 530.25,567.60 530.47,567.60 530.69,567.60 530.91,567.60 531.12,567.60 531.34,567.61 531.56,567.61 531.77,567.61 531.99,567.61 532.21,567.61 532.42,567.61 532.64,567.61 532.86,567.61 533.08,567.62 533.29,567.62 533.51,567.62 533.73,567.62 533.94,567.62 534.16,567.62 534.38,567.62 534.60,567.62 534.81,567.63 535.03,567.63 535.25,567.63 535.46,567.63 535.68,567.63 535.90,567.63 536.11,567.63 536.33,567.63 536.55,567.63 536.76,567.63 536.98,567.64 537.20,567.64 537.42,567.64 537.63,567.64 537.85,567.64 538.07,567.64 538.28,567.64 538.50,567.64 538.72,567.64 538.93,567.64 539.15,567.65 539.37,567.65 539.59,567.65 539.80,567.65 540.02,567.65 540.24,567.65 540.45,567.65 540.67,567.65 540.89,567.65 541.11,567.65 541.32,567.65 541.54,567.66 541.76,567.66 541.97,567.66 542.19,567.66 542.41,567.66 542.62,567.66 542.84,567.66 543.06,567.66 543.27,567.66 543.49,567.66 543.71,567.66 543.93,567.66 544.14,567.66 544.36,567.67 544.58,567.67 544.79,567.67 545.01,567.67 545.23,567.67 545.44,567.67 545.66,567.67 545.88,567.67 546.10,567.67 546.31,567.67 546.53,567.67 546.75,567.67 546.96,567.67 547.18,567.67 547.40,567.67 547.62,567.68 547.83,567.68 548.05,567.68 548.27,567.68 548.48,567.68 548.70,567.68 548.92,567.68 549.13,567.68 549.35,567.68 549.57,567.68 549.79,567.68 550.00,567.68 550.22,567.68 550.44,567.68 550.65,567.68 550.87,567.68 551.09,567.68 551.30,567.68 551.52,567.69 551.74,567.69 551.95,567.69 552.17,567.69 552.39,567.69 552.61,567.69 552.82,567.69 553.04,567.69 553.26,567.69 553.47,567.69 553.69,567.69 553.91,567.69 554.12,567.69 554.34,567.69 554.56,567.69 554.78,567.69 554.99,567.69 555.21,567.69 555.43,567.70 555.64,567.70 555.86,567.70 556.08,567.70 556.30,567.70 556.51,567.70 556.73,567.70 556.95,567.70 557.16,567.70 557.38,567.70 557.60,567.70 557.81,567.70 558.03,567.70 558.25,567.70 558.46,567.70 558.68,567.70 558.90,567.70 559.12,567.70 559.33,567.70 559.55,567.71 559.77,567.71 559.98,567.71 560.20,567.71 560.42,567.71 560.63,567.71 560.85,567.71 561.07,567.71 561.29,567.71 561.50,567.71 561.72,567.71 561.94,567.71 562.15,567.71 562.37,567.71 562.59,567.71 562.81,567.71 563.02,567.71 563.24,567.71 563.46,567.71 563.67,567.71 563.89,567.72 564.11,567.72 564.32,567.72 564.54,567.72 564.76,567.72 564.98,567.72 565.19,567.72 565.41,567.72 565.63,567.72 565.84,567.72 566.06,567.72 566.28,567.72 566.49,567.72 566.71,567.72 566.93,567.72 567.14,567.72 567.36,567.72 567.58,567.72 567.80,567.72 568.01,567.72 568.23,567.73 568.45,567.73 568.66,567.73 568.88,567.73 569.10,567.73 569.32,567.73 569.53,567.73 569.75,567.73 569.97,567.73 570.18,567.73 570.40,567.73 570.62,567.73 570.83,567.73 571.05,567.73 571.27,567.73 571.49,567.73 571.70,567.73 571.92,567.73 572.14,567.73 572.35,567.73 572.57,567.74 572.79,567.74 573.00,567.74 573.22,567.74 573.44,567.74 573.65,567.74 573.87,567.74 574.09,567.74 574.31,567.74 574.52,567.74 574.74,567.74 574.96,567.74 575.17,567.74 575.39,567.74 575.61,567.74 575.83,567.74 576.04,567.74 576.26,567.74 576.48,567.74 576.69,567.74 576.91,567.74 577.13,567.74 577.34,567.75 577.56,567.75 577.78,567.75 578.00,567.75 578.21,567.75 578.43,567.75 578.65,567.75 578.86,567.75 579.08,567.75 579.30,567.75 579.51,567.75 579.73,567.75 579.95,567.75 580.16,567.75 580.38,567.75 580.60,567.75 580.82,567.75 581.03,567.75 581.25,567.75 581.47,567.75 581.68,567.75 581.90,567.76 582.12,567.76 582.34,567.76 582.55,567.76 582.77,567.76 582.99,567.76 583.20,567.76 583.42,567.76 583.64,567.76 583.85,567.76 584.07,567.76 584.29,567.76 584.50,567.76 584.72,567.76 584.94,567.76 585.16,567.76 585.37,567.76 585.59,567.76 585.81,567.76 586.02,567.76 586.24,567.76 586.46,567.76 586.67,567.76 586.89,567.77 587.11,567.77 587.33,567.77 587.54,567.77 587.76,567.77 587.98,567.77 588.19,567.77 588.41,567.77 588.63,567.77 588.85,567.77 589.06,567.77 589.28,567.77 589.50,567.77 589.71,567.77 589.93,567.77 590.15,567.77 590.36,567.77 590.58,567.77 590.80,567.77 591.01,567.77 591.23,567.77 591.45,567.77 591.67,567.77 591.88,567.77 592.10,567.78 592.32,567.78 592.53,567.78 592.75,567.78 592.97,567.78 593.18,567.78 593.40,567.78 593.62,567.78 593.84,567.78 594.05,567.78 594.27,567.78 594.49,567.78 594.70,567.78 594.92,567.78 595.14,567.78 595.36,567.78 595.57,567.78 595.79,567.78 596.01,567.78 596.22,567.78 596.44,567.78 596.66,567.78 596.87,567.78 597.09,567.78 597.31,567.79 597.52,567.79 597.74,567.79 597.96,567.79 598.18,567.79 598.39,567.79 598.61,567.79 598.83,567.79 599.04,567.79 599.26,567.79 599.48,567.79 599.69,567.79 599.91,567.79 600.13,567.79 600.35,567.79 600.56,567.79 600.78,567.79 601.00,567.79 601.21,567.79 601.43,567.79 601.65,567.79 601.87,567.79 602.08,567.79 602.30,567.79 602.52,567.79 602.73,567.79 602.95,567.80 603.17,567.80 603.38,567.80 603.60,567.80 603.82,567.80 604.04,567.80 604.25,567.80 604.47,567.80 604.69,567.80 604.90,567.80 605.12,567.80 605.34,567.80 605.55,567.80 605.77,567.80 605.99,567.80 606.20,567.80 606.42,567.80 606.64,567.80 606.86,567.80 607.07,567.80 607.29,567.80 607.51,567.80 607.72,567.80 607.94,567.80 608.16,567.80 608.38,567.80 608.59,567.80 608.81,567.81 609.03,567.81 609.24,567.81 609.46,567.81 609.68,567.81 609.89,567.81 610.11,567.81 610.33,567.81 610.55,567.81 610.76,567.81 610.98,567.81 611.20,567.81 611.41,567.81 611.63,567.81 611.85,567.81 612.06,567.81 612.28,567.81 612.50,567.81 612.71,567.81 612.93,567.81 613.15,567.81 613.37,567.81 613.58,567.81 613.80,567.81 614.02,567.81 614.23,567.81 614.45,567.81 614.67,567.81 614.88,567.82 615.10,567.82 615.32,567.82 615.54,567.82 615.75,567.82 615.97,567.82 616.19,567.82 616.40,567.82 616.62,567.82 616.84,567.82 617.06,567.82 617.27,567.82 617.49,567.82 617.71,567.82 617.92,567.82 618.14,567.82 618.36,567.82 618.57,567.82 618.79,567.82 619.01,567.82 619.23,567.82 619.44,567.82 619.66,567.82 619.88,567.82 620.09,567.82 620.31,567.82 620.53,567.82 620.74,567.82 620.96,567.82 621.18,567.82 621.39,567.83 621.61,567.83 621.83,567.83 622.05,567.83 622.26,567.83 622.48,567.83 622.70,567.83 622.91,567.83 623.13,567.83 623.35,567.83 623.57,567.83 623.78,567.83 624.00,567.83 624.22,567.83 624.43,567.83 624.65,567.83 624.87,567.83 625.08,567.83 625.30,567.83 625.52,567.83 625.74,567.83 625.95,567.83 626.17,567.83 626.39,567.83 626.60,567.83 626.82,567.83 627.04,567.83 627.25,567.83 627.47,567.83 627.69,567.83 627.90,567.83 628.12,567.83 628.34,567.84 628.56,567.84 628.77,567.84 628.99,567.84 629.21,567.84 629.42,567.84 629.64,567.84 629.86,567.84 630.08,567.84 630.29,567.84 630.51,567.84 630.73,567.84 630.94,567.84 631.16,567.84 631.38,567.84 631.59,567.84 631.81,567.84 632.03,567.84 632.25,567.84 632.46,567.84 632.68,567.84 632.90,567.84 633.11,567.84 633.33,567.84 633.55,567.84 633.76,567.84 633.98,567.84 634.20,567.84 634.41,567.84 634.63,567.84 634.85,567.84 635.07,567.84 635.28,567.84 635.50,567.84 635.72,567.84 635.93,567.85 636.15,567.85 636.37,567.85 636.59,567.85 636.80,567.85 637.02,567.85 637.24,567.85 637.45,567.85 637.67,567.85 637.89,567.85 638.10,567.85 638.32,567.85 638.54,567.85 638.75,567.85 638.97,567.85 639.19,567.85 639.41,567.85 639.62,567.85 639.84,567.85 640.06,567.85 640.27,567.85 640.49,567.85 640.71,567.85 640.92,567.85 641.14,567.85 641.36,567.85 641.58,567.85 641.79,567.85 642.01,567.85 642.23,567.85 642.44,567.85 642.66,567.85 642.88,567.85 643.10,567.85 643.31,567.85 643.53,567.85 643.75,567.85 643.96,567.85 644.18,567.86 644.40,567.86 644.61,567.86 644.83,567.86 645.05,567.86 645.26,567.86 645.48,567.86 645.70,567.86 645.92,567.86 646.13,567.86 646.35,567.86 646.57,567.86 646.78,567.86 647.00,567.86 647.22,567.86 647.43,567.86 647.65,567.86 647.87,567.86 648.09,567.86 648.30,567.86 648.52,567.86 648.74,567.86 648.95,567.86 649.17,567.86 649.39,567.86 649.61,567.86 649.82,567.86 650.04,567.86 650.26,567.86 650.47,567.86 650.69,567.86 650.91,567.86 651.12,567.86 651.34,567.86 651.56,567.86 651.77,567.86 651.99,567.86 652.21,567.86 652.43,567.86 652.64,567.86 652.86,567.86 653.08,567.86 653.29,567.87 653.51,567.87 653.73,567.87 653.94,567.87 654.16,567.87 654.38,567.87 654.60,567.87 654.81,567.87 655.03,567.87 655.25,567.87 655.46,567.87 655.68,567.87 655.90,567.87 656.12,567.87 656.33,567.87 656.55,567.87 656.77,567.87 656.98,567.87 657.20,567.87 657.42,567.87 657.63,567.87 657.85,567.87 658.07,567.87 658.29,567.87 658.50,567.87 658.72,567.87 658.94,567.87 659.15,567.87 659.37,567.87 659.59,567.87 659.80,567.87 660.02,567.87 660.24,567.87 660.45,567.87 660.67,567.87 660.89,567.87 661.11,567.87 661.32,567.87 661.54,567.87 661.76,567.87 661.97,567.87 662.19,567.87 662.41,567.87 662.62,567.87 662.84,567.87 663.06,567.87 663.28,567.87 663.49,567.87 663.71,567.87 663.93,567.88 664.14,567.88 664.36,567.88 664.58,567.88 664.80,567.88 665.01,567.88 665.23,567.88 665.45,567.88 665.66,567.88 665.88,567.88 666.10,567.88 666.31,567.88 666.53,567.88 666.75,567.88 666.96,567.88 667.18,567.88 667.40,567.88 667.62,567.88 667.83,567.88 668.05,567.88 668.27,567.88 668.48,567.88 668.70,567.88 668.92,567.88 669.13,567.88 669.35,567.88 669.57,567.88 669.79,567.88 670.00,567.88 670.22,567.88 670.44,567.88 670.65,567.88 670.87,567.88 671.09,567.88 671.31,567.88 671.52,567.88 671.74,567.88 671.96,567.88 672.17,567.88 672.39,567.88 672.61,567.88 672.82,567.88 673.04,567.88 673.26,567.88 673.48,567.88 673.69,567.88 673.91,567.88 674.13,567.88 674.34,567.88 674.56,567.88 674.78,567.88 674.99,567.88 675.21,567.88 675.43,567.88 675.64,567.88 675.86,567.88 676.08,567.88 676.30,567.88 676.51,567.88 676.73,567.88 676.95,567.88 677.16,567.89 677.38,567.89 677.60,567.89 677.82,567.89 678.03,567.89 678.25,567.89 678.47,567.89 678.68,567.89 678.90,567.89 679.12,567.89 679.33,567.89 679.55,567.89 679.77,567.89 679.99,567.89 680.20,567.89 680.42,567.89 680.64,567.89 680.85,567.89 681.07,567.89 681.29,567.89 681.50,567.89 681.72,567.89 681.94,567.89 682.15,567.89 682.37,567.89 682.59,567.89 682.81,567.89 683.02,567.89 683.24,567.89 683.46,567.89 683.67,567.89 683.89,567.89 684.11,567.89 684.33,567.89 684.54,567.89 684.76,567.89 684.98,567.89 685.19,567.89 685.41,567.89 685.63,567.89 685.84,567.89 686.06,567.89 686.28,567.89 686.50,567.89 686.71,567.89 686.93,567.89 687.15,567.89 687.36,567.89 687.58,567.89 687.80,567.89 688.01,567.89 688.23,567.89 688.45,567.89 688.66,567.89 688.88,567.89 689.10,567.89 689.32,567.89 689.53,567.89 689.75,567.89 689.97,567.89 690.18,567.89 690.40,567.89 690.62,567.89 690.84,567.89 691.05,567.89 691.27,567.89 691.49,567.89 691.70,567.89 691.92,567.89 692.14,567.89 692.35,567.89 692.57,567.89 692.79,567.89 693.00,567.89 693.22,567.89 693.44,567.89 693.66,567.89 693.87,567.89 694.09,567.89 694.31,567.89 694.52,567.89 694.74,567.89 694.96,567.89 695.17,567.89 695.39,567.89 695.61,567.89 695.83,567.89 696.04,567.89 696.26,567.90 696.48,567.90 696.69,567.90 696.91,567.90 697.13,567.90 697.35,567.90 697.56,567.90 697.78,567.90 698.00,567.90 698.21,567.90 698.43,567.90 698.65,567.90 698.86,567.90 699.08,567.90 699.30,567.90 699.51,567.90 699.73,567.90 699.95,567.90 700.17,567.90 700.38,567.90 700.60,567.90 700.82,567.90 701.03,567.90 701.25,567.90 701.47,567.90 701.68,567.90 701.90,567.90 702.12,567.90 702.34,567.90 702.55,567.90 702.77,567.90 702.99,567.90 703.20,567.90 703.42,567.90 703.64,567.90 703.86,567.90 704.07,567.90 704.29,567.90 704.51,567.90 704.72,567.90 704.94,567.90 705.16,567.90 705.37,567.90 705.59,567.90 705.81,567.90 706.02,567.90 706.24,567.90 706.46,567.90 706.68,567.90 706.89,567.90 707.11,567.90 707.33,567.90 707.54,567.90 707.76,567.90 707.98,567.90 708.19,567.90 708.41,567.90 708.63,567.90 708.85,567.90 709.06,567.90 709.28,567.90 709.50,567.90 709.71,567.90 709.93,567.90 710.15,567.90 710.37,567.90 710.58,567.90 710.80,567.90 711.02,567.90 711.23,567.90 711.45,567.90 711.67,567.90 711.88,567.90 712.10,567.90 712.32,567.90 712.53,567.90 712.75,567.90 712.97,567.90 713.19,567.90 713.40,567.90 713.62,567.90 713.84,567.90 714.05,567.90 714.27,567.90 714.49,567.90 714.71,567.90 714.92,567.90 715.14,567.90 715.36,567.90 715.57,567.90 715.79,567.90 716.01,567.90 716.22,567.90 716.44,567.90 716.66,567.90 716.88,567.90 717.09,567.90 717.31,567.90 717.53,567.90 717.74,567.90 717.96,567.90 718.18,567.90 718.39,567.90 718.61,567.90 718.83,567.90 719.04,567.90 719.26,567.90 719.48,567.90 719.70,567.90 719.91,567.90 720.13,567.90 720.35,567.90 720.56,567.90 720.78,567.90 721.00,567.90 721.22,567.90 721.43,567.90 721.65,567.90 721.87,567.90 722.08,567.90 722.30,567.90 722.30,567.90" fill="#000082" stroke="#1a1a9a" stroke-width="0.9" stroke-linejoin="round"/>
<line x1="201.50" y1="567.90" x2="722.30" y2="567.90" stroke="#2a2aa0" stroke-width="1.3"/>
<line x1="175.30" y1="98.00" x2="175.30" y2="591.30" stroke="#333" stroke-width="1.8"/>
<line x1="174.40" y1="590.40" x2="747.50" y2="590.40" stroke="#333" stroke-width="1.8"/>
<line x1="201.50" y1="590.40" x2="201.50" y2="594.90" stroke="#333" stroke-width="1.5"/>
<text x="201.5" y="611.0" font-family="'DejaVu Sans','Liberation Sans',sans-serif" font-size="15.9" font-weight="normal" text-anchor="middle" fill="#383838" textLength="10.6" lengthAdjust="spacingAndGlyphs" stroke="#383838" stroke-width="0.3">0</text>
<line x1="310.00" y1="590.40" x2="310.00" y2="594.90" stroke="#333" stroke-width="1.5"/>
<text x="310.0" y="611.0" font-family="'DejaVu Sans','Liberation Sans',sans-serif" font-size="15.9" font-weight="normal" text-anchor="middle" fill="#383838" textLength="31.9" lengthAdjust="spacingAndGlyphs" stroke="#383838" stroke-width="0.3">250</text>
<line x1="418.50" y1="590.40" x2="418.50" y2="594.90" stroke="#333" stroke-width="1.5"/>
<text x="418.5" y="611.0" font-family="'DejaVu Sans','Liberation Sans',sans-serif" font-size="15.9" font-weight="normal" text-anchor="middle" fill="#383838" textLength="31.9" lengthAdjust="spacingAndGlyphs" stroke="#383838" stroke-width="0.3">500</text>
<line x1="527.00" y1="590.40" x2="527.00" y2="594.90" stroke="#333" stroke-width="1.5"/>
<text x="527.0" y="611.0" font-family="'DejaVu Sans','Liberation Sans',sans-serif" font-size="15.9" font-weight="normal" text-anchor="middle" fill="#383838" textLength="31.9" lengthAdjust="spacingAndGlyphs" stroke="#383838" stroke-width="0.3">750</text>
<line x1="635.50" y1="590.40" x2="635.50" y2="594.90" stroke="#333" stroke-width="1.5"/>
<text x="635.5" y="611.0" font-family="'DejaVu Sans','Liberation Sans',sans-serif" font-size="15.9" font-weight="normal" text-anchor="middle" fill="#383838" textLength="42.5" lengthAdjust="spacingAndGlyphs" stroke="#383838" stroke-width="0.3">1000</text>
<line x1="744.00" y1="590.40" x2="744.00" y2="594.90" stroke="#333" stroke-width="1.5"/>
<text x="744.0" y="611.0" font-family="'DejaVu Sans','Liberation Sans',sans-serif" font-size="15.9" font-weight="normal" text-anchor="middle" fill="#383838" textLength="42.5" lengthAdjust="spacingAndGlyphs" stroke="#383838" stroke-width="0.3">1250</text>
<line x1="170.80" y1="567.90" x2="175.30" y2="567.90" stroke="#333" stroke-width="1.5"/>
<text x="167.3" y="573.7" font-family="'DejaVu Sans','Liberation Sans',sans-serif" font-size="15.9" font-weight="normal" text-anchor="end" fill="#383838" textLength="49.0" lengthAdjust="spacingAndGlyphs" stroke="#383838" stroke-width="0.3">0.000</text>
<line x1="170.80" y1="456.97" x2="175.30" y2="456.97" stroke="#333" stroke-width="1.5"/>
<text x="167.3" y="462.8" font-family="'DejaVu Sans','Liberation Sans',sans-serif" font-size="15.9" font-weight="normal" text-anchor="end" fill="#383838" textLength="49.0" lengthAdjust="spacingAndGlyphs" stroke="#383838" stroke-width="0.3">0.005</text>
<line x1="170.80" y1="346.05" x2="175.30" y2="346.05" stroke="#333" stroke-width="1.5"/>
<text x="167.3" y="351.9" font-family="'DejaVu Sans','Liberation Sans',sans-serif" font-size="15.9" font-weight="normal" text-anchor="end" fill="#383838" textLength="49.0" lengthAdjust="spacingAndGlyphs" stroke="#383838" stroke-width="0.3">0.010</text>
<line x1="170.80" y1="235.12" x2="175.30" y2="235.12" stroke="#333" stroke-width="1.5"/>
<text x="167.3" y="240.9" font-family="'DejaVu Sans','Liberation Sans',sans-serif" font-size="15.9" font-weight="normal" text-anchor="end" fill="#383838" textLength="49.0" lengthAdjust="spacingAndGlyphs" stroke="#383838" stroke-width="0.3">0.015</text>
<line x1="170.80" y1="124.20" x2="175.30" y2="124.20" stroke="#333" stroke-width="1.5"/>
<text x="167.3" y="130.0" font-family="'DejaVu Sans','Liberation Sans',sans-serif" font-size="15.9" font-weight="normal" text-anchor="end" fill="#383838" textLength="49.0" lengthAdjust="spacingAndGlyphs" stroke="#383838" stroke-width="0.3">0.020</text>
<text x="0" y="0" transform="translate(109.0,343.8) rotate(-90)" font-family="'DejaVu Sans','Liberation Sans',sans-serif" font-size="17.2" font-weight="bold" text-anchor="middle" fill="#111" textLength="110.5" lengthAdjust="spacingAndGlyphs">Frequency</text>
<text x="351.4" y="634.2" font-family="'DejaVu Sans','Liberation Sans',sans-serif" font-size="17.8" font-weight="bold" text-anchor="start" fill="#111" textLength="221.5" lengthAdjust="spacingAndGlyphs">Fragment length(bp)</text>
<line x1="978.30" y1="86.20" x2="978.30" y2="588.10" stroke="#ededed" stroke-width="1.4"/>
<line x1="1086.96" y1="86.20" x2="1086.96" y2="588.10" stroke="#ededed" stroke-width="1.4"/>
<line x1="1195.62" y1="86.20" x2="1195.62" y2="588.10" stroke="#ededed" stroke-width="1.4"/>
<line x1="1304.28" y1="86.20" x2="1304.28" y2="588.10" stroke="#ededed" stroke-width="1.4"/>
<line x1="1412.94" y1="86.20" x2="1412.94" y2="588.10" stroke="#ededed" stroke-width="1.4"/>
<line x1="1521.60" y1="86.20" x2="1521.60" y2="588.10" stroke="#ededed" stroke-width="1.4"/>
<line x1="953.00" y1="565.70" x2="1526.30" y2="565.70" stroke="#ededed" stroke-width="1.4"/>
<line x1="953.00" y1="473.00" x2="1526.30" y2="473.00" stroke="#ededed" stroke-width="1.4"/>
<line x1="953.00" y1="380.30" x2="1526.30" y2="380.30" stroke="#ededed" stroke-width="1.4"/>
<line x1="953.00" y1="287.60" x2="1526.30" y2="287.60" stroke="#ededed" stroke-width="1.4"/>
<line x1="953.00" y1="194.90" x2="1526.30" y2="194.90" stroke="#ededed" stroke-width="1.4"/>
<line x1="953.00" y1="102.20" x2="1526.30" y2="102.20" stroke="#ededed" stroke-width="1.4"/>
<polygon points="991.34,565.70 991.34,565.70 991.56,565.70 991.77,565.70 991.99,565.70 992.21,565.70 992.43,565.70 992.64,565.70 992.86,565.70 993.08,565.70 993.30,565.70 993.51,565.70 993.73,565.70 993.95,565.70 994.16,508.14 994.38,479.64 994.60,455.14 994.82,436.15 995.03,424.86 995.25,426.36 995.47,413.64 995.69,362.37 995.90,317.42 996.12,275.70 996.34,237.24 996.55,202.67 996.77,172.78 996.99,148.35 997.21,130.16 997.42,118.86 997.64,115.00 997.86,116.65 998.08,121.60 998.29,129.89 998.51,141.56 998.73,156.73 998.95,175.64 999.16,198.70 999.38,226.84 999.60,262.28 999.81,313.59 1000.03,303.99 1000.25,258.51 1000.47,226.57 1000.68,201.59 1000.90,181.60 1001.12,165.73 1001.34,153.52 1001.55,144.72 1001.77,139.14 1001.99,136.70 1002.21,137.31 1002.42,141.11 1002.64,148.22 1002.86,158.60 1003.07,172.24 1003.29,189.18 1003.51,209.54 1003.73,233.69 1003.94,262.44 1004.16,298.05 1004.38,351.07 1004.60,324.80 1004.81,289.21 1005.03,264.56 1005.25,246.09 1005.46,232.14 1005.68,221.90 1005.90,214.88 1006.12,210.78 1006.33,209.34 1006.55,210.37 1006.77,213.73 1006.99,219.40 1007.20,227.41 1007.42,237.69 1007.64,250.19 1007.86,264.93 1008.07,281.99 1008.29,301.66 1008.51,324.63 1008.72,352.89 1008.94,398.70 1009.16,363.67 1009.38,339.84 1009.59,323.17 1009.81,310.79 1010.03,301.61 1010.25,295.08 1010.46,290.86 1010.68,288.74 1010.90,288.55 1011.12,290.15 1011.33,293.43 1011.55,298.35 1011.77,304.87 1011.98,312.94 1012.20,322.55 1012.42,333.71 1012.64,346.52 1012.85,361.22 1013.07,378.40 1013.29,399.84 1013.51,432.11 1013.72,400.60 1013.94,384.52 1014.16,373.07 1014.38,364.52 1014.59,358.20 1014.81,353.74 1015.03,350.94 1015.24,349.65 1015.46,349.77 1015.68,351.20 1015.90,353.89 1016.11,357.77 1016.33,362.82 1016.55,368.99 1016.77,376.28 1016.98,384.70 1017.20,394.34 1017.42,405.40 1017.63,418.37 1017.85,434.87 1018.07,449.07 1018.29,430.43 1018.50,419.57 1018.72,411.76 1018.94,405.95 1019.16,401.71 1019.37,398.78 1019.59,397.04 1019.81,396.38 1020.03,396.72 1020.24,398.00 1020.46,400.19 1020.68,403.23 1020.89,407.10 1021.11,411.78 1021.33,417.26 1021.55,423.58 1021.76,430.79 1021.98,439.02 1022.20,448.73 1022.42,461.39 1022.63,466.15 1022.85,454.31 1023.07,446.94 1023.29,441.61 1023.50,437.68 1023.72,434.85 1023.94,432.97 1024.15,431.95 1024.37,431.69 1024.59,432.16 1024.81,433.31 1025.02,435.11 1025.24,437.53 1025.46,440.54 1025.68,444.13 1025.89,448.29 1026.11,453.03 1026.33,458.39 1026.55,464.50 1026.76,471.70 1026.98,481.33 1027.20,481.26 1027.41,474.07 1027.63,469.47 1027.85,466.18 1028.07,463.81 1028.28,462.16 1028.50,461.14 1028.72,460.67 1028.94,460.69 1029.15,461.18 1029.37,462.08 1029.59,463.39 1029.80,465.11 1030.02,467.23 1030.24,469.75 1030.46,472.65 1030.67,475.94 1030.89,479.68 1031.11,483.95 1031.33,489.05 1031.54,496.25 1031.76,493.62 1031.98,488.99 1032.20,485.87 1032.41,483.58 1032.63,481.87 1032.85,480.63 1033.06,479.79 1033.28,479.31 1033.50,479.15 1033.72,479.29 1033.93,479.70 1034.15,480.39 1034.37,481.38 1034.59,482.67 1034.80,484.24 1035.02,486.10 1035.24,488.26 1035.46,490.75 1035.67,493.68 1035.89,497.29 1036.11,503.10 1036.32,498.59 1036.54,494.82 1036.76,491.96 1036.98,489.61 1037.19,487.64 1037.41,485.97 1037.63,484.58 1037.85,483.45 1038.06,482.56 1038.28,481.93 1038.50,481.54 1038.71,481.41 1038.93,481.53 1039.15,481.92 1039.37,482.58 1039.58,483.47 1039.80,484.56 1040.02,485.91 1040.24,487.68 1040.45,490.22 1040.67,495.81 1040.89,487.97 1041.11,483.32 1041.32,479.43 1041.54,476.00 1041.76,472.94 1041.97,470.20 1042.19,467.79 1042.41,465.71 1042.63,463.97 1042.84,462.59 1043.06,461.59 1043.28,460.98 1043.50,460.79 1043.71,461.06 1043.93,461.79 1044.15,463.00 1044.37,464.72 1044.58,467.02 1044.80,470.09 1045.02,474.43 1045.23,479.06 1045.45,472.08 1045.67,467.45 1045.89,463.54 1046.10,460.02 1046.32,456.66 1046.54,453.31 1046.76,449.96 1046.97,446.66 1047.19,443.45 1047.41,440.38 1047.63,437.52 1047.84,434.96 1048.06,432.11 1048.28,428.56 1048.49,424.67 1048.71,420.85 1048.93,417.56 1049.15,415.38 1049.36,415.16 1049.58,418.81 1049.80,417.67 1050.02,397.29 1050.23,380.57 1050.45,366.05 1050.67,353.47 1050.88,342.94 1051.10,334.67 1051.32,328.77 1051.54,324.18 1051.75,320.63 1051.97,318.13 1052.19,316.67 1052.41,316.29 1052.62,317.01 1052.84,318.87 1053.06,321.91 1053.28,326.22 1053.49,331.96 1053.71,339.40 1053.93,349.23 1054.14,363.86 1054.36,362.97 1054.58,346.55 1054.80,334.94 1055.01,325.73 1055.23,318.26 1055.45,312.24 1055.67,307.54 1055.88,304.13 1056.10,302.14 1056.32,301.54 1056.54,302.28 1056.75,304.29 1056.97,307.53 1057.19,311.95 1057.40,317.49 1057.62,324.14 1057.84,331.89 1058.06,340.80 1058.27,351.09 1058.49,363.33 1058.71,380.19 1058.93,376.59 1059.14,366.76 1059.36,360.50 1059.58,356.12 1059.80,353.05 1060.01,351.00 1060.23,349.79 1060.45,349.36 1060.66,349.80 1060.88,351.06 1061.10,353.09 1061.32,355.86 1061.53,359.33 1061.75,363.49 1061.97,368.31 1062.19,373.79 1062.40,379.96 1062.62,386.90 1062.84,394.80 1063.05,404.21 1063.27,418.04 1063.49,410.91 1063.71,404.26 1063.92,399.88 1064.14,396.81 1064.36,394.68 1064.58,393.33 1064.79,392.63 1065.01,392.55 1065.23,393.05 1065.45,394.10 1065.66,395.67 1065.88,397.74 1066.10,400.30 1066.31,403.31 1066.53,406.78 1066.75,410.71 1066.97,415.13 1067.18,420.10 1067.40,425.80 1067.62,432.71 1067.84,444.83 1068.05,435.00 1068.27,430.40 1068.49,427.29 1068.71,425.09 1068.92,423.60 1069.14,422.68 1069.36,422.28 1069.57,422.32 1069.79,422.75 1070.01,423.55 1070.23,424.71 1070.44,426.21 1070.66,428.06 1070.88,430.23 1071.10,432.73 1071.31,435.58 1071.53,438.80 1071.75,442.45 1071.96,446.67 1072.18,451.90 1072.40,457.86 1072.62,452.20 1072.83,449.33 1073.05,447.48 1073.27,446.31 1073.49,445.69 1073.70,445.54 1073.92,445.83 1074.14,446.59 1074.36,447.78 1074.57,449.36 1074.79,451.28 1075.01,453.51 1075.22,456.00 1075.44,458.72 1075.66,461.64 1075.88,464.73 1076.09,467.97 1076.31,471.39 1076.53,475.06 1076.75,479.33 1076.96,482.32 1077.18,480.29 1077.40,479.56 1077.62,479.39 1077.83,479.60 1078.05,480.10 1078.27,480.83 1078.48,481.76 1078.70,482.86 1078.92,484.10 1079.14,485.47 1079.35,486.96 1079.57,488.54 1079.79,490.22 1080.01,491.97 1080.22,493.79 1080.44,495.68 1080.66,497.65 1080.88,499.76 1081.09,502.06 1081.31,504.81 1081.53,505.90 1081.74,504.98 1081.96,504.67 1082.18,504.64 1082.40,504.81 1082.61,505.12 1082.83,505.56 1083.05,506.10 1083.27,506.75 1083.48,507.48 1083.70,508.29 1083.92,509.19 1084.13,510.15 1084.35,511.18 1084.57,512.27 1084.79,513.43 1085.00,514.66 1085.22,515.96 1085.44,517.36 1085.66,518.90 1085.87,520.79 1086.09,521.09 1086.31,520.73 1086.53,520.69 1086.74,520.82 1086.96,521.06 1087.18,521.40 1087.39,521.81 1087.61,522.29 1087.83,522.83 1088.05,523.42 1088.26,524.05 1088.48,524.72 1088.70,525.42 1088.92,526.15 1089.13,526.92 1089.35,527.71 1089.57,528.52 1089.79,529.37 1090.00,530.26 1090.22,531.22 1090.44,532.44 1090.65,532.30 1090.87,532.12 1091.09,532.10 1091.31,532.17 1091.52,532.30 1091.74,532.49 1091.96,532.72 1092.18,532.98 1092.39,565.70 1092.61,565.70 1092.61,565.70" fill="#8f8fe6" opacity="0.8"/>
<polygon points="978.30,565.70 978.30,565.70 978.52,565.70 978.73,565.70 978.95,565.70 979.17,565.70 979.39,565.70 979.60,565.70 979.82,565.70 980.04,565.70 980.26,565.70 980.47,565.70 980.69,565.70 980.91,565.70 981.13,565.70 981.34,565.70 981.56,565.70 981.78,565.70 981.99,565.70 982.21,565.70 982.43,565.70 982.65,565.70 982.86,565.70 983.08,565.70 983.30,565.70 983.52,565.70 983.73,565.70 983.95,565.70 984.17,565.70 984.38,565.70 984.60,565.70 984.82,565.70 985.04,565.70 985.25,565.70 985.47,565.70 985.69,565.70 985.91,565.70 986.12,565.70 986.34,565.70 986.56,565.70 986.78,565.70 986.99,565.70 987.21,565.70 987.43,565.70 987.64,565.70 987.86,565.70 988.08,565.70 988.30,565.70 988.51,565.70 988.73,565.70 988.95,565.70 989.17,565.70 989.38,565.70 989.60,565.70 989.82,565.70 990.04,565.70 990.25,565.70 990.47,565.70 990.69,565.70 990.90,565.70 991.12,565.70 991.34,565.70 991.56,565.70 991.77,565.70 991.99,565.70 992.21,565.70 992.43,565.70 992.64,565.70 992.86,565.70 993.08,565.70 993.30,565.70 993.51,565.70 993.73,565.70 993.95,565.70 994.16,515.73 994.38,495.44 994.60,480.74 994.82,470.71 995.03,463.40 995.25,455.79 995.47,441.86 995.69,417.32 995.90,384.54 996.12,344.82 996.34,300.21 996.55,253.54 996.77,208.19 996.99,167.80 997.21,135.85 997.42,115.27 997.64,108.13 997.86,113.04 998.08,127.40 998.29,150.20 998.51,179.79 998.73,214.03 998.95,250.42 999.16,286.18 999.38,318.45 999.60,344.28 999.81,360.37 1000.03,359.27 1000.25,342.57 1000.47,317.04 1000.68,285.91 1000.90,252.12 1001.12,218.47 1001.34,187.58 1001.55,161.76 1001.77,142.90 1001.99,132.35 1002.21,130.87 1002.42,138.75 1002.64,155.59 1002.86,180.17 1003.07,210.72 1003.29,245.05 1003.51,280.67 1003.73,314.96 1003.94,345.27 1004.16,368.98 1004.38,383.09 1004.60,379.98 1004.81,364.72 1005.03,342.67 1005.25,316.75 1005.46,289.58 1005.68,263.50 1005.90,240.61 1006.12,222.64 1006.33,210.88 1006.55,206.11 1006.77,208.62 1006.99,218.30 1007.20,234.54 1007.42,256.18 1007.64,281.71 1007.86,309.36 1008.07,337.20 1008.29,363.28 1008.51,385.71 1008.72,402.60 1008.94,411.68 1009.16,407.86 1009.38,396.14 1009.59,379.82 1009.81,361.02 1010.03,341.62 1010.25,323.33 1010.46,307.63 1010.68,295.72 1010.90,288.49 1011.12,286.44 1011.33,289.70 1011.55,298.05 1011.77,310.96 1011.98,327.52 1012.20,346.61 1012.42,366.94 1012.64,387.13 1012.85,405.80 1013.07,421.57 1013.29,433.12 1013.51,438.51 1013.72,434.55 1013.94,425.50 1014.16,413.36 1014.38,399.63 1014.59,385.64 1014.81,372.63 1015.03,361.64 1015.24,353.53 1015.46,348.91 1015.68,348.11 1015.90,351.19 1016.11,357.95 1016.33,367.93 1016.55,380.45 1016.77,394.66 1016.98,409.61 1017.20,424.30 1017.42,437.72 1017.63,448.88 1017.85,456.80 1018.07,459.75 1018.29,456.25 1018.50,449.35 1018.72,440.40 1018.94,430.45 1019.16,420.47 1019.37,411.32 1019.59,403.74 1019.81,398.34 1020.03,395.52 1020.24,395.49 1020.46,398.26 1020.68,403.66 1020.89,411.31 1021.11,420.71 1021.33,431.23 1021.55,442.18 1021.76,452.82 1021.98,462.33 1022.20,470.08 1022.42,475.32 1022.63,476.60 1022.85,473.56 1023.07,468.28 1023.29,461.67 1023.50,454.48 1023.72,447.40 1023.94,441.05 1024.15,435.93 1024.37,432.45 1024.59,430.87 1024.81,431.30 1025.02,433.73 1025.24,437.99 1025.46,443.80 1025.68,450.77 1025.89,458.43 1026.11,466.28 1026.33,473.79 1026.55,480.47 1026.76,485.82 1026.98,489.33 1027.20,489.83 1027.41,487.62 1027.63,483.98 1027.85,479.51 1028.07,474.73 1028.28,470.09 1028.50,466.01 1028.72,462.80 1028.94,460.73 1029.15,459.94 1029.37,460.51 1029.59,462.39 1029.80,465.50 1030.02,469.63 1030.24,474.50 1030.46,479.80 1030.67,485.17 1030.89,490.25 1031.11,494.71 1031.33,498.19 1031.54,500.33 1031.76,500.24 1031.98,498.45 1032.20,495.73 1032.41,492.46 1032.63,489.00 1032.85,485.65 1033.06,482.69 1033.28,480.35 1033.50,478.80 1033.72,478.14 1033.93,478.42 1034.15,479.61 1034.37,481.68 1034.59,484.46 1034.80,487.77 1035.02,491.38 1035.24,495.04 1035.46,498.47 1035.67,501.41 1035.89,503.61 1036.11,504.73 1036.32,504.03 1036.54,502.11 1036.76,499.43 1036.98,496.28 1037.19,492.92 1037.41,489.60 1037.63,486.54 1037.85,483.94 1038.06,481.97 1038.28,480.74 1038.50,480.31 1038.71,480.69 1038.93,481.83 1039.15,483.61 1039.37,485.89 1039.58,488.40 1039.80,490.86 1040.02,493.06 1040.24,494.77 1040.45,495.74 1040.67,495.60 1040.89,493.64 1041.11,490.58 1041.32,486.77 1041.54,482.48 1041.76,477.98 1041.97,473.54 1042.19,469.41 1042.41,465.83 1042.63,463.00 1042.84,461.07 1043.06,460.11 1043.28,460.15 1043.50,461.14 1043.71,463.06 1043.93,465.72 1044.15,468.89 1044.37,472.30 1044.58,475.63 1044.80,478.55 1045.02,480.66 1045.23,481.34 1045.45,479.84 1045.67,476.98 1045.89,473.10 1046.10,468.48 1046.32,463.29 1046.54,457.75 1046.76,452.18 1046.97,446.92 1047.19,442.26 1047.41,438.50 1047.63,435.85 1047.84,434.46 1048.06,433.74 1048.28,433.19 1048.49,432.98 1048.71,433.14 1048.93,433.54 1049.15,433.88 1049.36,433.63 1049.58,431.97 1049.80,427.13 1050.02,417.80 1050.23,404.85 1050.45,390.08 1050.67,374.46 1050.88,359.12 1051.10,345.22 1051.32,333.82 1051.54,324.67 1051.75,318.07 1051.97,314.36 1052.19,313.73 1052.41,316.13 1052.62,321.30 1052.84,328.76 1053.06,337.88 1053.28,347.89 1053.49,357.92 1053.71,367.04 1053.93,374.30 1054.14,378.63 1054.36,377.73 1054.58,371.58 1054.80,362.52 1055.01,351.61 1055.23,339.82 1055.45,328.08 1055.67,317.27 1055.88,308.21 1056.10,301.76 1056.32,298.37 1056.54,298.27 1056.75,301.46 1056.97,307.70 1057.19,316.55 1057.40,327.39 1057.62,339.49 1057.84,352.03 1058.06,364.16 1058.27,375.06 1058.49,383.91 1058.71,389.84 1058.93,390.82 1059.14,387.83 1059.36,382.66 1059.58,376.20 1059.80,369.21 1060.01,362.38 1060.23,356.33 1060.45,351.63 1060.66,348.84 1060.88,348.22 1061.10,349.89 1061.32,353.79 1061.53,359.69 1061.75,367.27 1061.97,376.05 1062.19,385.50 1062.40,395.04 1062.62,404.09 1062.84,412.04 1063.05,418.35 1063.27,422.33 1063.49,422.42 1063.71,419.91 1063.92,415.90 1064.14,411.02 1064.36,405.87 1064.58,400.94 1064.79,396.72 1065.01,393.58 1065.23,391.84 1065.45,391.69 1065.66,393.17 1065.88,396.23 1066.10,400.69 1066.31,406.29 1066.53,412.67 1066.75,419.44 1066.97,426.19 1067.18,432.48 1067.40,437.90 1067.62,442.05 1067.84,444.39 1068.05,443.83 1068.27,441.63 1068.49,438.45 1068.71,434.76 1068.92,430.96 1069.14,427.45 1069.36,424.53 1069.57,422.45 1069.79,421.39 1070.01,421.46 1070.23,422.69 1070.44,425.01 1070.66,428.31 1070.88,432.38 1071.10,436.98 1071.31,441.82 1071.53,446.62 1071.75,451.05 1071.96,454.85 1072.18,457.70 1072.40,459.16 1072.62,458.65 1072.83,457.12 1073.05,455.00 1073.27,452.63 1073.49,450.31 1073.70,448.30 1073.92,446.86 1074.14,446.20 1074.36,446.44 1074.57,447.61 1074.79,449.68 1075.01,452.55 1075.22,456.07 1075.44,460.07 1075.66,464.33 1075.88,468.64 1076.09,472.77 1076.31,476.53 1076.53,479.72 1076.75,482.21 1076.96,483.73 1077.18,484.12 1077.40,483.95 1077.62,483.48 1077.83,482.88 1078.05,482.34 1078.27,481.99 1078.48,481.96 1078.70,482.29 1078.92,483.05 1079.14,484.25 1079.35,485.87 1079.57,487.87 1079.79,490.16 1080.01,492.66 1080.22,495.26 1080.44,497.85 1080.66,500.31 1080.88,502.57 1081.09,504.52 1081.31,506.05 1081.53,506.94 1081.74,507.20 1081.96,507.14 1082.18,506.89 1082.40,506.55 1082.61,506.24 1082.83,506.04 1083.05,506.01 1083.27,506.22 1083.48,506.68 1083.70,507.42 1083.92,508.42 1084.13,509.66 1084.35,511.10 1084.57,512.66 1084.79,514.30 1085.00,515.94 1085.22,517.52 1085.44,518.97 1085.66,520.23 1085.87,521.23 1086.09,521.80 1086.31,522.04 1086.53,522.09 1086.74,522.04 1086.96,521.97 1087.18,521.91 1087.39,521.94 1087.61,522.08 1087.83,522.36 1088.05,522.81 1088.26,523.41 1088.48,524.17 1088.70,525.06 1088.92,526.04 1089.13,527.10 1089.35,528.17 1089.57,529.23 1089.79,530.22 1090.00,531.11 1090.22,531.86 1090.44,532.43 1090.65,532.72 1090.87,532.83 1091.09,532.84 1091.31,532.78 1091.52,532.72 1091.74,532.67 1091.96,532.67 1092.18,532.73 1092.39,532.88 1092.61,533.13 1092.83,533.48 1093.04,533.93 1093.26,534.46 1093.48,535.06 1093.70,535.70 1093.91,536.36 1094.13,537.02 1094.35,537.64 1094.57,538.20 1094.78,538.66 1095.00,539.01 1095.22,539.16 1095.44,539.19 1095.65,539.14 1095.87,539.06 1096.09,538.95 1096.30,538.86 1096.52,538.81 1096.74,538.82 1096.96,538.90 1097.17,539.05 1097.39,539.28 1097.61,539.59 1097.83,539.97 1098.04,540.39 1098.26,540.85 1098.48,541.33 1098.70,541.80 1098.91,542.24 1099.13,542.64 1099.35,542.97 1099.56,543.20 1099.78,543.30 1100.00,543.32 1100.22,543.28 1100.43,543.22 1100.65,543.15 1100.87,543.09 1101.09,543.05 1101.30,543.04 1101.52,543.08 1101.74,543.16 1101.96,543.29 1102.17,543.47 1102.39,543.68 1102.61,543.91 1102.82,544.17 1103.04,544.42 1103.26,544.66 1103.48,544.86 1103.69,545.03 1103.91,545.13 1104.13,545.14 1104.35,545.04 1104.56,544.89 1104.78,544.69 1105.00,544.47 1105.21,544.24 1105.43,544.02 1105.65,543.81 1105.87,543.63 1106.08,543.49 1106.30,543.38 1106.52,543.32 1106.74,543.31 1106.95,543.32 1107.17,543.37 1107.39,543.43 1107.61,543.51 1107.82,543.57 1108.04,543.62 1108.26,543.64 1108.47,543.61 1108.69,543.50 1108.91,543.32 1109.13,543.09 1109.34,542.83 1109.56,542.55 1109.78,542.27 1110.00,542.00 1110.21,541.75 1110.43,541.54 1110.65,541.36 1110.87,541.23 1111.08,541.14 1111.30,541.08 1111.52,541.06 1111.73,541.06 1111.95,541.07 1112.17,541.09 1112.39,541.10 1112.60,541.09 1112.82,541.04 1113.04,540.95 1113.26,540.76 1113.47,540.50 1113.69,540.20 1113.91,539.86 1114.12,539.50 1114.34,539.14 1114.56,538.79 1114.78,538.46 1114.99,538.16 1115.21,537.89 1115.43,537.67 1115.65,537.50 1115.86,537.37 1116.08,537.27 1116.30,537.21 1116.52,537.16 1116.73,537.13 1116.95,537.09 1117.17,537.03 1117.38,536.95 1117.60,536.81 1117.82,536.59 1118.04,536.30 1118.25,535.98 1118.47,535.63 1118.69,535.27 1118.91,534.92 1119.12,534.59 1119.34,534.29 1119.56,534.02 1119.78,533.81 1119.99,533.64 1120.21,533.53 1120.43,533.46 1120.64,533.44 1120.86,533.45 1121.08,533.48 1121.30,533.52 1121.51,533.55 1121.73,533.56 1121.95,533.54 1122.17,533.46 1122.38,533.30 1122.60,533.07 1122.82,532.82 1123.04,532.54 1123.25,532.25 1123.47,531.97 1123.69,531.71 1123.90,531.48 1124.12,531.28 1124.34,531.12 1124.56,531.01 1124.77,530.94 1124.99,530.90 1125.21,530.91 1125.43,530.93 1125.64,530.98 1125.86,531.02 1126.08,531.06 1126.29,531.08 1126.51,531.06 1126.73,531.00 1126.95,530.85 1127.16,530.66 1127.38,530.44 1127.60,530.21 1127.82,529.97 1128.03,529.74 1128.25,529.53 1128.47,529.35 1128.69,529.20 1128.90,529.09 1129.12,529.02 1129.34,528.99 1129.55,529.00 1129.77,529.03 1129.99,529.09 1130.21,529.15 1130.42,529.22 1130.64,529.28 1130.86,529.32 1131.08,529.32 1131.29,529.28 1131.51,529.16 1131.73,529.01 1131.95,528.84 1132.16,528.65 1132.38,528.47 1132.60,528.29 1132.81,528.13 1133.03,528.00 1133.25,527.90 1133.47,527.83 1133.68,527.79 1133.90,527.79 1134.12,527.81 1134.34,527.86 1134.55,527.92 1134.77,528.00 1134.99,528.08 1135.21,528.15 1135.42,528.21 1135.64,528.24 1135.86,528.24 1136.07,528.18 1136.29,528.11 1136.51,528.02 1136.73,527.93 1136.94,527.85 1137.16,527.78 1137.38,527.73 1137.60,527.70 1137.81,527.70 1138.03,527.73 1138.25,527.79 1138.46,527.88 1138.68,528.00 1138.90,528.13 1139.12,528.28 1139.33,528.43 1139.55,528.58 1139.77,528.73 1139.99,528.86 1140.20,528.97 1140.42,529.04 1140.64,529.08 1140.86,529.10 1141.07,529.11 1141.29,529.11 1141.51,529.12 1141.72,529.14 1141.94,529.17 1142.16,529.21 1142.38,529.28 1142.59,529.36 1142.81,529.47 1143.03,529.59 1143.25,529.73 1143.46,529.87 1143.68,530.03 1143.90,530.19 1144.12,530.36 1144.33,530.52 1144.55,530.67 1144.77,530.81 1144.98,530.92 1145.20,531.01 1145.42,531.09 1145.64,531.17 1145.85,531.24 1146.07,531.33 1146.29,531.42 1146.51,531.53 1146.72,531.66 1146.94,531.80 1147.16,531.95 1147.37,532.13 1147.59,532.32 1147.81,532.51 1148.03,532.72 1148.24,532.94 1148.46,533.15 1148.68,533.37 1148.90,533.57 1149.11,533.77 1149.33,533.96 1149.55,534.12 1149.77,534.28 1149.98,534.42 1150.20,534.57 1150.42,534.71 1150.63,534.85 1150.85,535.00 1151.07,535.16 1151.29,535.33 1151.50,535.50 1151.72,535.68 1151.94,535.87 1152.16,536.06 1152.37,536.26 1152.59,536.46 1152.81,536.67 1153.03,536.89 1153.24,537.10 1153.46,537.31 1153.68,537.52 1153.89,537.72 1154.11,537.91 1154.33,538.10 1154.55,538.29 1154.76,538.48 1154.98,538.67 1155.20,538.87 1155.42,539.07 1155.63,539.27 1155.85,539.48 1156.07,539.70 1156.29,539.92 1156.50,540.15 1156.72,540.38 1156.94,540.61 1157.15,540.84 1157.37,541.07 1157.59,541.30 1157.81,541.53 1158.02,541.75 1158.24,541.98 1158.46,542.20 1158.68,542.41 1158.89,542.62 1159.11,542.84 1159.33,543.05 1159.54,543.26 1159.76,543.47 1159.98,543.68 1160.20,543.89 1160.41,544.10 1160.63,544.31 1160.85,544.52 1161.07,544.72 1161.28,544.92 1161.50,545.12 1161.72,545.31 1161.94,545.51 1162.15,545.70 1162.37,545.88 1162.59,546.06 1162.80,546.24 1163.02,546.42 1163.24,546.59 1163.46,546.77 1163.67,546.94 1163.89,547.11 1164.11,547.29 1164.33,547.46 1164.54,547.64 1164.76,547.81 1164.98,547.98 1165.20,548.16 1165.41,548.33 1165.63,548.50 1165.85,548.67 1166.06,548.84 1166.28,549.01 1166.50,549.18 1166.72,549.35 1166.93,549.52 1167.15,549.69 1167.37,549.85 1167.59,550.01 1167.80,550.18 1168.02,550.34 1168.24,550.50 1168.45,550.66 1168.67,550.81 1168.89,550.97 1169.11,551.12 1169.32,551.27 1169.54,551.42 1169.76,551.56 1169.98,551.71 1170.19,551.85 1170.41,551.99 1170.63,552.13 1170.85,552.26 1171.06,552.39 1171.28,552.52 1171.50,552.65 1171.71,552.77 1171.93,552.90 1172.15,553.01 1172.37,553.13 1172.58,553.24 1172.80,553.35 1173.02,553.45 1173.24,553.55 1173.45,553.65 1173.67,553.74 1173.89,553.83 1174.11,553.92 1174.32,554.01 1174.54,554.10 1174.76,554.19 1174.97,554.28 1175.19,554.37 1175.41,554.46 1175.63,554.55 1175.84,554.63 1176.06,554.72 1176.28,554.81 1176.50,554.90 1176.71,554.99 1176.93,555.07 1177.15,555.16 1177.37,555.25 1177.58,555.33 1177.80,555.41 1178.02,555.50 1178.23,555.58 1178.45,555.66 1178.67,555.74 1178.89,555.82 1179.10,555.90 1179.32,555.98 1179.54,556.06 1179.76,556.13 1179.97,556.21 1180.19,556.28 1180.41,556.35 1180.62,556.42 1180.84,556.49 1181.06,556.56 1181.28,556.62 1181.49,556.68 1181.71,556.75 1181.93,556.81 1182.15,556.86 1182.36,556.92 1182.58,556.97 1182.80,557.03 1183.02,557.08 1183.23,557.12 1183.45,557.17 1183.67,557.21 1183.88,557.25 1184.10,557.29 1184.32,557.33 1184.54,557.36 1184.75,557.39 1184.97,557.42 1185.19,557.44 1185.41,557.47 1185.62,557.49 1185.84,557.50 1186.06,557.52 1186.28,557.53 1186.49,557.54 1186.71,557.54 1186.93,557.54 1187.14,557.54 1187.36,557.54 1187.58,557.54 1187.80,557.54 1188.01,557.54 1188.23,557.54 1188.45,557.53 1188.67,557.53 1188.88,557.53 1189.10,557.53 1189.32,557.52 1189.54,557.52 1189.75,557.52 1189.97,557.51 1190.19,557.51 1190.40,557.51 1190.62,557.50 1190.84,557.50 1191.06,557.49 1191.27,557.49 1191.49,557.48 1191.71,557.48 1191.93,557.47 1192.14,557.46 1192.36,557.46 1192.58,557.45 1192.79,557.45 1193.01,557.44 1193.23,557.43 1193.45,557.42 1193.66,557.42 1193.88,557.41 1194.10,557.40 1194.32,557.40 1194.53,557.39 1194.75,557.38 1194.97,557.37 1195.19,557.36 1195.40,557.36 1195.62,557.35 1195.84,557.34 1196.05,557.33 1196.27,557.32 1196.49,557.31 1196.71,557.31 1196.92,557.30 1197.14,557.29 1197.36,557.28 1197.58,557.27 1197.79,557.26 1198.01,557.25 1198.23,557.24 1198.45,557.24 1198.66,557.23 1198.88,557.22 1199.10,557.21 1199.31,557.20 1199.53,557.19 1199.75,557.18 1199.97,557.17 1200.18,557.16 1200.40,557.15 1200.62,557.14 1200.84,557.13 1201.05,557.12 1201.27,557.10 1201.49,557.09 1201.70,557.07 1201.92,557.06 1202.14,557.04 1202.36,557.02 1202.57,557.00 1202.79,556.98 1203.01,556.96 1203.23,556.95 1203.44,556.92 1203.66,556.90 1203.88,556.88 1204.10,556.86 1204.31,556.84 1204.53,556.82 1204.75,556.79 1204.96,556.77 1205.18,556.74 1205.40,556.72 1205.62,556.70 1205.83,556.67 1206.05,556.65 1206.27,556.62 1206.49,556.60 1206.70,556.57 1206.92,556.55 1207.14,556.52 1207.36,556.49 1207.57,556.47 1207.79,556.44 1208.01,556.42 1208.22,556.39 1208.44,556.37 1208.66,556.34 1208.88,556.31 1209.09,556.29 1209.31,556.26 1209.53,556.24 1209.75,556.21 1209.96,556.19 1210.18,556.16 1210.40,556.14 1210.62,556.12 1210.83,556.09 1211.05,556.07 1211.27,556.05 1211.48,556.03 1211.70,556.00 1211.92,555.98 1212.14,555.96 1212.35,555.94 1212.57,555.92 1212.79,555.90 1213.01,555.89 1213.22,555.87 1213.44,555.85 1213.66,555.84 1213.87,555.82 1214.09,555.80 1214.31,555.79 1214.53,555.78 1214.74,555.76 1214.96,555.75 1215.18,555.74 1215.40,555.73 1215.61,555.72 1215.83,555.72 1216.05,555.71 1216.27,555.70 1216.48,555.70 1216.70,555.69 1216.92,555.69 1217.13,555.69 1217.35,555.69 1217.57,555.69 1217.79,555.69 1218.00,555.69 1218.22,555.70 1218.44,555.70 1218.66,555.71 1218.87,555.71 1219.09,555.72 1219.31,555.73 1219.53,555.74 1219.74,555.75 1219.96,555.76 1220.18,555.77 1220.39,555.78 1220.61,555.79 1220.83,555.80 1221.05,555.82 1221.26,555.83 1221.48,555.85 1221.70,555.86 1221.92,555.88 1222.13,555.90 1222.35,555.92 1222.57,555.93 1222.78,555.95 1223.00,555.97 1223.22,555.99 1223.44,556.01 1223.65,556.03 1223.87,556.06 1224.09,556.08 1224.31,556.10 1224.52,556.12 1224.74,556.14 1224.96,556.17 1225.18,556.19 1225.39,556.22 1225.61,556.24 1225.83,556.26 1226.04,556.29 1226.26,556.31 1226.48,556.34 1226.70,556.36 1226.91,556.39 1227.13,556.41 1227.35,556.44 1227.57,556.47 1227.78,556.49 1228.00,556.52 1228.22,556.54 1228.44,556.57 1228.65,556.60 1228.87,556.62 1229.09,556.65 1229.30,556.67 1229.52,556.70 1229.74,556.72 1229.96,556.75 1230.17,556.78 1230.39,556.80 1230.61,556.83 1230.83,556.85 1231.04,556.88 1231.26,556.91 1231.48,556.94 1231.70,556.97 1231.91,557.00 1232.13,557.03 1232.35,557.07 1232.56,557.10 1232.78,557.14 1233.00,557.17 1233.22,557.21 1233.43,557.25 1233.65,557.29 1233.87,557.33 1234.09,557.36 1234.30,557.41 1234.52,557.45 1234.74,557.49 1234.95,557.53 1235.17,557.57 1235.39,557.62 1235.61,557.66 1235.82,557.70 1236.04,557.75 1236.26,557.79 1236.48,557.84 1236.69,557.88 1236.91,557.93 1237.13,557.98 1237.35,558.02 1237.56,558.07 1237.78,558.12 1238.00,558.17 1238.21,558.21 1238.43,558.26 1238.65,558.31 1238.87,558.36 1239.08,558.41 1239.30,558.45 1239.52,558.50 1239.74,558.55 1239.95,558.60 1240.17,558.65 1240.39,558.70 1240.61,558.74 1240.82,558.79 1241.04,558.84 1241.26,558.89 1241.47,558.94 1241.69,558.98 1241.91,559.03 1242.13,559.08 1242.34,559.13 1242.56,559.17 1242.78,559.22 1243.00,559.27 1243.21,559.31 1243.43,559.36 1243.65,559.40 1243.87,559.44 1244.08,559.49 1244.30,559.53 1244.52,559.57 1244.73,559.62 1244.95,559.66 1245.17,559.70 1245.39,559.74 1245.60,559.78 1245.82,559.82 1246.04,559.86 1246.26,559.90 1246.47,559.93 1246.69,559.97 1246.91,560.00 1247.12,560.04 1247.34,560.07 1247.56,560.11 1247.78,560.14 1247.99,560.17 1248.21,560.20 1248.43,560.23 1248.65,560.26 1248.86,560.30 1249.08,560.33 1249.30,560.36 1249.52,560.39 1249.73,560.42 1249.95,560.45 1250.17,560.48 1250.38,560.51 1250.60,560.54 1250.82,560.57 1251.04,560.60 1251.25,560.63 1251.47,560.66 1251.69,560.69 1251.91,560.72 1252.12,560.75 1252.34,560.78 1252.56,560.81 1252.78,560.84 1252.99,560.87 1253.21,560.90 1253.43,560.93 1253.64,560.96 1253.86,560.99 1254.08,561.02 1254.30,561.05 1254.51,561.08 1254.73,561.11 1254.95,561.14 1255.17,561.17 1255.38,561.19 1255.60,561.22 1255.82,561.25 1256.03,561.28 1256.25,561.31 1256.47,561.34 1256.69,561.36 1256.90,561.39 1257.12,561.42 1257.34,561.45 1257.56,561.47 1257.77,561.50 1257.99,561.53 1258.21,561.56 1258.43,561.58 1258.64,561.61 1258.86,561.64 1259.08,561.66 1259.29,561.69 1259.51,561.72 1259.73,561.74 1259.95,561.77 1260.16,561.79 1260.38,561.82 1260.60,561.84 1260.82,561.87 1261.03,561.90 1261.25,561.92 1261.47,561.95 1261.69,561.97 1261.90,562.00 1262.12,562.02 1262.34,562.04 1262.55,562.07 1262.77,562.09 1262.99,562.12 1263.21,562.14 1263.42,562.17 1263.64,562.19 1263.86,562.21 1264.08,562.24 1264.29,562.26 1264.51,562.28 1264.73,562.30 1264.95,562.33 1265.16,562.35 1265.38,562.37 1265.60,562.39 1265.81,562.42 1266.03,562.44 1266.25,562.46 1266.47,562.48 1266.68,562.50 1266.90,562.52 1267.12,562.54 1267.34,562.57 1267.55,562.59 1267.77,562.61 1267.99,562.63 1268.20,562.65 1268.42,562.67 1268.64,562.69 1268.86,562.71 1269.07,562.73 1269.29,562.75 1269.51,562.76 1269.73,562.78 1269.94,562.80 1270.16,562.82 1270.38,562.84 1270.60,562.86 1270.81,562.87 1271.03,562.89 1271.25,562.91 1271.46,562.93 1271.68,562.94 1271.90,562.96 1272.12,562.98 1272.33,562.99 1272.55,563.01 1272.77,563.03 1272.99,563.04 1273.20,563.06 1273.42,563.07 1273.64,563.09 1273.86,563.10 1274.07,563.12 1274.29,563.13 1274.51,563.15 1274.72,563.16 1274.94,563.18 1275.16,563.19 1275.38,563.21 1275.59,563.22 1275.81,563.24 1276.03,563.25 1276.25,563.27 1276.46,563.28 1276.68,563.29 1276.90,563.31 1277.12,563.32 1277.33,563.34 1277.55,563.35 1277.77,563.37 1277.98,563.38 1278.20,563.39 1278.42,563.41 1278.64,563.42 1278.85,563.43 1279.07,563.45 1279.29,563.46 1279.51,563.47 1279.72,563.49 1279.94,563.50 1280.16,563.52 1280.37,563.53 1280.59,563.54 1280.81,563.55 1281.03,563.57 1281.24,563.58 1281.46,563.59 1281.68,563.61 1281.90,563.62 1282.11,563.63 1282.33,563.65 1282.55,563.66 1282.77,563.67 1282.98,563.68 1283.20,563.70 1283.42,563.71 1283.63,563.72 1283.85,563.73 1284.07,563.75 1284.29,563.76 1284.50,563.77 1284.72,563.78 1284.94,563.79 1285.16,563.81 1285.37,563.82 1285.59,563.83 1285.81,563.84 1286.03,563.85 1286.24,563.86 1286.46,563.88 1286.68,563.89 1286.89,563.90 1287.11,563.91 1287.33,563.92 1287.55,563.93 1287.76,563.94 1287.98,563.95 1288.20,563.97 1288.42,563.98 1288.63,563.99 1288.85,564.00 1289.07,564.01 1289.28,564.02 1289.50,564.03 1289.72,564.04 1289.94,564.05 1290.15,564.06 1290.37,564.07 1290.59,564.08 1290.81,564.09 1291.02,564.10 1291.24,564.11 1291.46,564.12 1291.68,564.13 1291.89,564.14 1292.11,564.15 1292.33,564.16 1292.54,564.17 1292.76,564.18 1292.98,564.19 1293.20,564.20 1293.41,564.21 1293.63,564.22 1293.85,564.23 1294.07,564.24 1294.28,564.25 1294.50,564.26 1294.72,564.27 1294.94,564.27 1295.15,564.28 1295.37,564.29 1295.59,564.30 1295.80,564.31 1296.02,564.32 1296.24,564.33 1296.46,564.33 1296.67,564.34 1296.89,564.35 1297.11,564.36 1297.33,564.37 1297.54,564.38 1297.76,564.38 1297.98,564.39 1298.20,564.40 1298.41,564.41 1298.63,564.41 1298.85,564.42 1299.06,564.43 1299.28,564.44 1299.50,564.44 1299.72,564.45 1299.93,564.46 1300.15,564.47 1300.37,564.47 1300.59,564.48 1300.80,564.49 1301.02,564.49 1301.24,564.50 1301.45,564.51 1301.67,564.51 1301.89,564.52 1302.11,564.53 1302.32,564.53 1302.54,564.54 1302.76,564.55 1302.98,564.55 1303.19,564.56 1303.41,564.56 1303.63,564.57 1303.85,564.58 1304.06,564.58 1304.28,564.59 1304.50,564.59 1304.71,564.60 1304.93,564.60 1305.15,564.61 1305.37,564.62 1305.58,564.62 1305.80,564.63 1306.02,564.63 1306.24,564.64 1306.45,564.64 1306.67,564.65 1306.89,564.65 1307.11,564.66 1307.32,564.67 1307.54,564.67 1307.76,564.68 1307.97,564.68 1308.19,564.69 1308.41,564.69 1308.63,564.70 1308.84,564.70 1309.06,564.71 1309.28,564.71 1309.50,564.72 1309.71,564.72 1309.93,564.73 1310.15,564.74 1310.36,564.74 1310.58,564.75 1310.80,564.75 1311.02,564.76 1311.23,564.76 1311.45,564.77 1311.67,564.77 1311.89,564.78 1312.10,564.78 1312.32,564.79 1312.54,564.79 1312.76,564.80 1312.97,564.80 1313.19,564.81 1313.41,564.81 1313.62,564.82 1313.84,564.82 1314.06,564.83 1314.28,564.83 1314.49,564.84 1314.71,564.84 1314.93,564.85 1315.15,564.85 1315.36,564.86 1315.58,564.86 1315.80,564.87 1316.02,564.87 1316.23,564.88 1316.45,564.88 1316.67,564.89 1316.88,564.89 1317.10,564.90 1317.32,564.90 1317.54,564.91 1317.75,564.91 1317.97,564.91 1318.19,564.92 1318.41,564.92 1318.62,564.93 1318.84,564.93 1319.06,564.94 1319.28,564.94 1319.49,564.95 1319.71,564.95 1319.93,564.96 1320.14,564.96 1320.36,564.96 1320.58,564.97 1320.80,564.97 1321.01,564.98 1321.23,564.98 1321.45,564.99 1321.67,564.99 1321.88,565.00 1322.10,565.00 1322.32,565.00 1322.53,565.01 1322.75,565.01 1322.97,565.02 1323.19,565.02 1323.40,565.02 1323.62,565.03 1323.84,565.03 1324.06,565.04 1324.27,565.04 1324.49,565.05 1324.71,565.05 1324.93,565.05 1325.14,565.06 1325.36,565.06 1325.58,565.07 1325.79,565.07 1326.01,565.07 1326.23,565.08 1326.45,565.08 1326.66,565.08 1326.88,565.09 1327.10,565.09 1327.32,565.10 1327.53,565.10 1327.75,565.10 1327.97,565.11 1328.19,565.11 1328.40,565.11 1328.62,565.12 1328.84,565.12 1329.05,565.12 1329.27,565.13 1329.49,565.13 1329.71,565.14 1329.92,565.14 1330.14,565.14 1330.36,565.15 1330.58,565.15 1330.79,565.15 1331.01,565.16 1331.23,565.16 1331.44,565.16 1331.66,565.17 1331.88,565.17 1332.10,565.17 1332.31,565.18 1332.53,565.18 1332.75,565.18 1332.97,565.18 1333.18,565.19 1333.40,565.19 1333.62,565.19 1333.84,565.20 1334.05,565.20 1334.27,565.20 1334.49,565.21 1334.70,565.21 1334.92,565.21 1335.14,565.21 1335.36,565.22 1335.57,565.22 1335.79,565.22 1336.01,565.23 1336.23,565.23 1336.44,565.23 1336.66,565.23 1336.88,565.24 1337.10,565.24 1337.31,565.24 1337.53,565.24 1337.75,565.25 1337.96,565.25 1338.18,565.25 1338.40,565.25 1338.62,565.26 1338.83,565.26 1339.05,565.26 1339.27,565.26 1339.49,565.27 1339.70,565.27 1339.92,565.27 1340.14,565.27 1340.36,565.27 1340.57,565.28 1340.79,565.28 1341.01,565.28 1341.22,565.28 1341.44,565.28 1341.66,565.29 1341.88,565.29 1342.09,565.29 1342.31,565.29 1342.53,565.29 1342.75,565.30 1342.96,565.30 1343.18,565.30 1343.40,565.30 1343.61,565.30 1343.83,565.30 1344.05,565.31 1344.27,565.31 1344.48,565.31 1344.70,565.31 1344.92,565.31 1345.14,565.31 1345.35,565.32 1345.57,565.32 1345.79,565.32 1346.01,565.32 1346.22,565.32 1346.44,565.32 1346.66,565.32 1346.87,565.32 1347.09,565.33 1347.31,565.33 1347.53,565.33 1347.74,565.33 1347.96,565.33 1348.18,565.33 1348.40,565.33 1348.61,565.33 1348.83,565.33 1349.05,565.34 1349.27,565.34 1349.48,565.34 1349.70,565.34 1349.92,565.34 1350.13,565.34 1350.35,565.34 1350.57,565.34 1350.79,565.34 1351.00,565.35 1351.22,565.35 1351.44,565.35 1351.66,565.35 1351.87,565.35 1352.09,565.35 1352.31,565.35 1352.53,565.35 1352.74,565.35 1352.96,565.35 1353.18,565.36 1353.39,565.36 1353.61,565.36 1353.83,565.36 1354.05,565.36 1354.26,565.36 1354.48,565.36 1354.70,565.36 1354.92,565.36 1355.13,565.36 1355.35,565.37 1355.57,565.37 1355.78,565.37 1356.00,565.37 1356.22,565.37 1356.44,565.37 1356.65,565.37 1356.87,565.37 1357.09,565.37 1357.31,565.38 1357.52,565.38 1357.74,565.38 1357.96,565.38 1358.18,565.38 1358.39,565.38 1358.61,565.38 1358.83,565.38 1359.04,565.38 1359.26,565.38 1359.48,565.38 1359.70,565.39 1359.91,565.39 1360.13,565.39 1360.35,565.39 1360.57,565.39 1360.78,565.39 1361.00,565.39 1361.22,565.39 1361.44,565.39 1361.65,565.39 1361.87,565.40 1362.09,565.40 1362.30,565.40 1362.52,565.40 1362.74,565.40 1362.96,565.40 1363.17,565.40 1363.39,565.40 1363.61,565.40 1363.83,565.40 1364.04,565.41 1364.26,565.41 1364.48,565.41 1364.69,565.41 1364.91,565.41 1365.13,565.41 1365.35,565.41 1365.56,565.41 1365.78,565.41 1366.00,565.41 1366.22,565.41 1366.43,565.42 1366.65,565.42 1366.87,565.42 1367.09,565.42 1367.30,565.42 1367.52,565.42 1367.74,565.42 1367.95,565.42 1368.17,565.42 1368.39,565.42 1368.61,565.43 1368.82,565.43 1369.04,565.43 1369.26,565.43 1369.48,565.43 1369.69,565.43 1369.91,565.43 1370.13,565.43 1370.35,565.43 1370.56,565.43 1370.78,565.43 1371.00,565.44 1371.21,565.44 1371.43,565.44 1371.65,565.44 1371.87,565.44 1372.08,565.44 1372.30,565.44 1372.52,565.44 1372.74,565.44 1372.95,565.44 1373.17,565.44 1373.39,565.45 1373.61,565.45 1373.82,565.45 1374.04,565.45 1374.26,565.45 1374.47,565.45 1374.69,565.45 1374.91,565.45 1375.13,565.45 1375.34,565.45 1375.56,565.45 1375.78,565.45 1376.00,565.46 1376.21,565.46 1376.43,565.46 1376.65,565.46 1376.86,565.46 1377.08,565.46 1377.30,565.46 1377.52,565.46 1377.73,565.46 1377.95,565.46 1378.17,565.46 1378.39,565.47 1378.60,565.47 1378.82,565.47 1379.04,565.47 1379.26,565.47 1379.47,565.47 1379.69,565.47 1379.91,565.47 1380.12,565.47 1380.34,565.47 1380.56,565.47 1380.78,565.47 1380.99,565.48 1381.21,565.48 1381.43,565.48 1381.65,565.48 1381.86,565.48 1382.08,565.48 1382.30,565.48 1382.52,565.48 1382.73,565.48 1382.95,565.48 1383.17,565.48 1383.38,565.48 1383.60,565.49 1383.82,565.49 1384.04,565.49 1384.25,565.49 1384.47,565.49 1384.69,565.49 1384.91,565.49 1385.12,565.49 1385.34,565.49 1385.56,565.49 1385.78,565.49 1385.99,565.49 1386.21,565.49 1386.43,565.50 1386.64,565.50 1386.86,565.50 1387.08,565.50 1387.30,565.50 1387.51,565.50 1387.73,565.50 1387.95,565.50 1388.17,565.50 1388.38,565.50 1388.60,565.50 1388.82,565.50 1389.03,565.50 1389.25,565.51 1389.47,565.51 1389.69,565.51 1389.90,565.51 1390.12,565.51 1390.34,565.51 1390.56,565.51 1390.77,565.51 1390.99,565.51 1391.21,565.51 1391.43,565.51 1391.64,565.51 1391.86,565.51 1392.08,565.52 1392.29,565.52 1392.51,565.52 1392.73,565.52 1392.95,565.52 1393.16,565.52 1393.38,565.52 1393.60,565.52 1393.82,565.52 1394.03,565.52 1394.25,565.52 1394.47,565.52 1394.69,565.52 1394.90,565.53 1395.12,565.53 1395.34,565.53 1395.55,565.53 1395.77,565.53 1395.99,565.53 1396.21,565.53 1396.42,565.53 1396.64,565.53 1396.86,565.53 1397.08,565.53 1397.29,565.53 1397.51,565.53 1397.73,565.53 1397.94,565.54 1398.16,565.54 1398.38,565.54 1398.60,565.54 1398.81,565.54 1399.03,565.54 1399.25,565.54 1399.47,565.54 1399.68,565.54 1399.90,565.54 1400.12,565.54 1400.34,565.54 1400.55,565.54 1400.77,565.54 1400.99,565.55 1401.20,565.55 1401.42,565.55 1401.64,565.55 1401.86,565.55 1402.07,565.55 1402.29,565.55 1402.51,565.55 1402.73,565.55 1402.94,565.55 1403.16,565.55 1403.38,565.55 1403.60,565.55 1403.81,565.55 1404.03,565.55 1404.25,565.56 1404.46,565.56 1404.68,565.56 1404.90,565.56 1405.12,565.56 1405.33,565.56 1405.55,565.56 1405.77,565.56 1405.99,565.56 1406.20,565.56 1406.42,565.56 1406.64,565.56 1406.86,565.56 1407.07,565.56 1407.29,565.56 1407.51,565.57 1407.72,565.57 1407.94,565.57 1408.16,565.57 1408.38,565.57 1408.59,565.57 1408.81,565.57 1409.03,565.57 1409.25,565.57 1409.46,565.57 1409.68,565.57 1409.90,565.57 1410.11,565.57 1410.33,565.57 1410.55,565.57 1410.77,565.57 1410.98,565.58 1411.20,565.58 1411.42,565.58 1411.64,565.58 1411.85,565.58 1412.07,565.58 1412.29,565.58 1412.51,565.58 1412.72,565.58 1412.94,565.58 1413.16,565.58 1413.37,565.58 1413.59,565.58 1413.81,565.58 1414.03,565.58 1414.24,565.58 1414.46,565.58 1414.68,565.59 1414.90,565.59 1415.11,565.59 1415.33,565.59 1415.55,565.59 1415.77,565.59 1415.98,565.59 1416.20,565.59 1416.42,565.59 1416.63,565.59 1416.85,565.59 1417.07,565.59 1417.29,565.59 1417.50,565.59 1417.72,565.59 1417.94,565.59 1418.16,565.59 1418.37,565.60 1418.59,565.60 1418.81,565.60 1419.02,565.60 1419.24,565.60 1419.46,565.60 1419.68,565.60 1419.89,565.60 1420.11,565.60 1420.33,565.60 1420.55,565.60 1420.76,565.60 1420.98,565.60 1421.20,565.60 1421.42,565.60 1421.63,565.60 1421.85,565.60 1422.07,565.60 1422.28,565.61 1422.50,565.61 1422.72,565.61 1422.94,565.61 1423.15,565.61 1423.37,565.61 1423.59,565.61 1423.81,565.61 1424.02,565.61 1424.24,565.61 1424.46,565.61 1424.68,565.61 1424.89,565.61 1425.11,565.61 1425.33,565.61 1425.54,565.61 1425.76,565.61 1425.98,565.61 1426.20,565.61 1426.41,565.61 1426.63,565.62 1426.85,565.62 1427.07,565.62 1427.28,565.62 1427.50,565.62 1427.72,565.62 1427.94,565.62 1428.15,565.62 1428.37,565.62 1428.59,565.62 1428.80,565.62 1429.02,565.62 1429.24,565.62 1429.46,565.62 1429.67,565.62 1429.89,565.62 1430.11,565.62 1430.33,565.62 1430.54,565.62 1430.76,565.62 1430.98,565.63 1431.19,565.63 1431.41,565.63 1431.63,565.63 1431.85,565.63 1432.06,565.63 1432.28,565.63 1432.50,565.63 1432.72,565.63 1432.93,565.63 1433.15,565.63 1433.37,565.63 1433.59,565.63 1433.80,565.63 1434.02,565.63 1434.24,565.63 1434.45,565.63 1434.67,565.63 1434.89,565.63 1435.11,565.63 1435.32,565.63 1435.54,565.63 1435.76,565.64 1435.98,565.64 1436.19,565.64 1436.41,565.64 1436.63,565.64 1436.85,565.64 1437.06,565.64 1437.28,565.64 1437.50,565.64 1437.71,565.64 1437.93,565.64 1438.15,565.64 1438.37,565.64 1438.58,565.64 1438.80,565.64 1439.02,565.64 1439.24,565.64 1439.45,565.64 1439.67,565.64 1439.89,565.64 1440.11,565.64 1440.32,565.64 1440.54,565.64 1440.76,565.65 1440.97,565.65 1441.19,565.65 1441.41,565.65 1441.63,565.65 1441.84,565.65 1442.06,565.65 1442.28,565.65 1442.50,565.65 1442.71,565.65 1442.93,565.65 1443.15,565.65 1443.36,565.65 1443.58,565.65 1443.80,565.65 1444.02,565.65 1444.23,565.65 1444.45,565.65 1444.67,565.65 1444.89,565.65 1445.10,565.65 1445.32,565.65 1445.54,565.65 1445.76,565.65 1445.97,565.65 1446.19,565.65 1446.41,565.66 1446.62,565.66 1446.84,565.66 1447.06,565.66 1447.28,565.66 1447.49,565.66 1447.71,565.66 1447.93,565.66 1448.15,565.66 1448.36,565.66 1448.58,565.66 1448.80,565.66 1449.02,565.66 1449.23,565.66 1449.45,565.66 1449.67,565.66 1449.88,565.66 1450.10,565.66 1450.32,565.66 1450.54,565.66 1450.75,565.66 1450.97,565.66 1451.19,565.66 1451.41,565.66 1451.62,565.66 1451.84,565.66 1452.06,565.66 1452.27,565.66 1452.49,565.66 1452.71,565.67 1452.93,565.67 1453.14,565.67 1453.36,565.67 1453.58,565.67 1453.80,565.67 1454.01,565.67 1454.23,565.67 1454.45,565.67 1454.67,565.67 1454.88,565.67 1455.10,565.67 1455.32,565.67 1455.53,565.67 1455.75,565.67 1455.97,565.67 1456.19,565.67 1456.40,565.67 1456.62,565.67 1456.84,565.67 1457.06,565.67 1457.27,565.67 1457.49,565.67 1457.71,565.67 1457.93,565.67 1458.14,565.67 1458.36,565.67 1458.58,565.67 1458.79,565.67 1459.01,565.67 1459.23,565.67 1459.45,565.67 1459.66,565.67 1459.88,565.67 1460.10,565.68 1460.32,565.68 1460.53,565.68 1460.75,565.68 1460.97,565.68 1461.19,565.68 1461.40,565.68 1461.62,565.68 1461.84,565.68 1462.05,565.68 1462.27,565.68 1462.49,565.68 1462.71,565.68 1462.92,565.68 1463.14,565.68 1463.36,565.68 1463.58,565.68 1463.79,565.68 1464.01,565.68 1464.23,565.68 1464.44,565.68 1464.66,565.68 1464.88,565.68 1465.10,565.68 1465.31,565.68 1465.53,565.68 1465.75,565.68 1465.97,565.68 1466.18,565.68 1466.40,565.68 1466.62,565.68 1466.84,565.68 1467.05,565.68 1467.27,565.68 1467.49,565.68 1467.70,565.68 1467.92,565.68 1468.14,565.68 1468.36,565.68 1468.57,565.68 1468.79,565.68 1469.01,565.69 1469.23,565.69 1469.44,565.69 1469.66,565.69 1469.88,565.69 1470.10,565.69 1470.31,565.69 1470.53,565.69 1470.75,565.69 1470.96,565.69 1471.18,565.69 1471.40,565.69 1471.62,565.69 1471.83,565.69 1472.05,565.69 1472.27,565.69 1472.49,565.69 1472.70,565.69 1472.92,565.69 1473.14,565.69 1473.35,565.69 1473.57,565.69 1473.79,565.69 1474.01,565.69 1474.22,565.69 1474.44,565.69 1474.66,565.69 1474.88,565.69 1475.09,565.69 1475.31,565.69 1475.53,565.69 1475.75,565.69 1475.96,565.69 1476.18,565.69 1476.40,565.69 1476.61,565.69 1476.83,565.69 1477.05,565.69 1477.27,565.69 1477.48,565.69 1477.70,565.69 1477.92,565.69 1478.14,565.69 1478.35,565.69 1478.57,565.69 1478.79,565.69 1479.01,565.69 1479.22,565.69 1479.44,565.69 1479.66,565.69 1479.87,565.69 1480.09,565.69 1480.31,565.69 1480.53,565.69 1480.74,565.69 1480.96,565.69 1481.18,565.69 1481.40,565.69 1481.61,565.69 1481.83,565.69 1482.05,565.70 1482.27,565.70 1482.48,565.70 1482.70,565.70 1482.92,565.70 1483.13,565.70 1483.35,565.70 1483.57,565.70 1483.79,565.70 1484.00,565.70 1484.22,565.70 1484.44,565.70 1484.66,565.70 1484.87,565.70 1485.09,565.70 1485.31,565.70 1485.52,565.70 1485.74,565.70 1485.96,565.70 1486.18,565.70 1486.39,565.70 1486.61,565.70 1486.83,565.70 1487.05,565.70 1487.26,565.70 1487.48,565.70 1487.70,565.70 1487.92,565.70 1488.13,565.70 1488.35,565.70 1488.57,565.70 1488.78,565.70 1489.00,565.70 1489.22,565.70 1489.44,565.70 1489.65,565.70 1489.87,565.70 1490.09,565.70 1490.31,565.70 1490.52,565.70 1490.74,565.70 1490.96,565.70 1491.18,565.70 1491.39,565.70 1491.61,565.70 1491.83,565.70 1492.04,565.70 1492.26,565.70 1492.48,565.70 1492.70,565.70 1492.91,565.70 1493.13,565.70 1493.35,565.70 1493.57,565.70 1493.78,565.70 1494.00,565.70 1494.22,565.70 1494.43,565.70 1494.65,565.70 1494.87,565.70 1495.09,565.70 1495.30,565.70 1495.52,565.70 1495.74,565.70 1495.96,565.70 1496.17,565.70 1496.39,565.70 1496.61,565.70 1496.83,565.70 1497.04,565.70 1497.26,565.70 1497.48,565.70 1497.69,565.70 1497.91,565.70 1498.13,565.70 1498.35,565.70 1498.56,565.70 1498.78,565.70 1499.00,565.70 1499.22,565.70 1499.43,565.70 1499.65,565.70 1499.87,565.70 1499.87,565.70" fill="#000082" stroke="#1a1a9a" stroke-width="0.9" stroke-linejoin="round"/>
<line x1="978.30" y1="565.70" x2="1499.87" y2="565.70" stroke="#2a2aa0" stroke-width="1.3"/>
<line x1="953.00" y1="86.20" x2="953.00" y2="589.00" stroke="#333" stroke-width="1.8"/>
<line x1="952.10" y1="588.10" x2="1526.30" y2="588.10" stroke="#333" stroke-width="1.8"/>
<line x1="978.30" y1="588.10" x2="978.30" y2="592.60" stroke="#333" stroke-width="1.5"/>
<text x="978.3" y="609.8" font-family="'DejaVu Sans','Liberation Sans',sans-serif" font-size="16.4" font-weight="normal" text-anchor="middle" fill="#383838" textLength="11.0" lengthAdjust="spacingAndGlyphs" stroke="#383838" stroke-width="0.3">0</text>
<line x1="1086.96" y1="588.10" x2="1086.96" y2="592.60" stroke="#333" stroke-width="1.5"/>
<text x="1087.0" y="609.8" font-family="'DejaVu Sans','Liberation Sans',sans-serif" font-size="16.4" font-weight="normal" text-anchor="middle" fill="#383838" textLength="32.9" lengthAdjust="spacingAndGlyphs" stroke="#383838" stroke-width="0.3">250</text>
<line x1="1195.62" y1="588.10" x2="1195.62" y2="592.60" stroke="#333" stroke-width="1.5"/>
<text x="1195.6" y="609.8" font-family="'DejaVu Sans','Liberation Sans',sans-serif" font-size="16.4" font-weight="normal" text-anchor="middle" fill="#383838" textLength="32.9" lengthAdjust="spacingAndGlyphs" stroke="#383838" stroke-width="0.3">500</text>
<line x1="1304.28" y1="588.10" x2="1304.28" y2="592.60" stroke="#333" stroke-width="1.5"/>
<text x="1304.3" y="609.8" font-family="'DejaVu Sans','Liberation Sans',sans-serif" font-size="16.4" font-weight="normal" text-anchor="middle" fill="#383838" textLength="32.9" lengthAdjust="spacingAndGlyphs" stroke="#383838" stroke-width="0.3">750</text>
<line x1="1412.94" y1="588.10" x2="1412.94" y2="592.60" stroke="#333" stroke-width="1.5"/>
<text x="1412.9" y="609.8" font-family="'DejaVu Sans','Liberation Sans',sans-serif" font-size="16.4" font-weight="normal" text-anchor="middle" fill="#383838" textLength="43.8" lengthAdjust="spacingAndGlyphs" stroke="#383838" stroke-width="0.3">1000</text>
<line x1="1521.60" y1="588.10" x2="1521.60" y2="592.60" stroke="#333" stroke-width="1.5"/>
<text x="1521.6" y="609.8" font-family="'DejaVu Sans','Liberation Sans',sans-serif" font-size="16.4" font-weight="normal" text-anchor="middle" fill="#383838" textLength="43.8" lengthAdjust="spacingAndGlyphs" stroke="#383838" stroke-width="0.3">1250</text>
<line x1="948.50" y1="565.70" x2="953.00" y2="565.70" stroke="#333" stroke-width="1.5"/>
<text x="949.6" y="571.7" font-family="'DejaVu Sans','Liberation Sans',sans-serif" font-size="16.4" font-weight="normal" text-anchor="end" fill="#383838" textLength="67.0" lengthAdjust="spacingAndGlyphs" stroke="#383838" stroke-width="0.3">0.0000</text>
<line x1="948.50" y1="473.00" x2="953.00" y2="473.00" stroke="#333" stroke-width="1.5"/>
<text x="949.6" y="479.0" font-family="'DejaVu Sans','Liberation Sans',sans-serif" font-size="16.4" font-weight="normal" text-anchor="end" fill="#383838" textLength="67.0" lengthAdjust="spacingAndGlyphs" stroke="#383838" stroke-width="0.3">0.0025</text>
<line x1="948.50" y1="380.30" x2="953.00" y2="380.30" stroke="#333" stroke-width="1.5"/>
<text x="949.6" y="386.3" font-family="'DejaVu Sans','Liberation Sans',sans-serif" font-size="16.4" font-weight="normal" text-anchor="end" fill="#383838" textLength="67.0" lengthAdjust="spacingAndGlyphs" stroke="#383838" stroke-width="0.3">0.0050</text>
<line x1="948.50" y1="287.60" x2="953.00" y2="287.60" stroke="#333" stroke-width="1.5"/>
<text x="949.6" y="293.6" font-family="'DejaVu Sans','Liberation Sans',sans-serif" font-size="16.4" font-weight="normal" text-anchor="end" fill="#383838" textLength="67.0" lengthAdjust="spacingAndGlyphs" stroke="#383838" stroke-width="0.3">0.0075</text>
<line x1="948.50" y1="194.90" x2="953.00" y2="194.90" stroke="#333" stroke-width="1.5"/>
<text x="949.6" y="200.9" font-family="'DejaVu Sans','Liberation Sans',sans-serif" font-size="16.4" font-weight="normal" text-anchor="end" fill="#383838" textLength="67.0" lengthAdjust="spacingAndGlyphs" stroke="#383838" stroke-width="0.3">0.0100</text>
<line x1="948.50" y1="102.20" x2="953.00" y2="102.20" stroke="#333" stroke-width="1.5"/>
<text x="949.6" y="108.2" font-family="'DejaVu Sans','Liberation Sans',sans-serif" font-size="16.4" font-weight="normal" text-anchor="end" fill="#383838" textLength="67.0" lengthAdjust="spacingAndGlyphs" stroke="#383838" stroke-width="0.3">0.0125</text>
<text x="0" y="0" transform="translate(874.6,337.5) rotate(-90)" font-family="'DejaVu Sans','Liberation Sans',sans-serif" font-size="17.6" font-weight="bold" text-anchor="middle" fill="#111" textLength="113.0" lengthAdjust="spacingAndGlyphs">Frequency</text>
<text x="1125.4" y="634.2" font-family="'DejaVu Sans','Liberation Sans',sans-serif" font-size="18.2" font-weight="bold" text-anchor="start" fill="#111" textLength="228.5" lengthAdjust="spacingAndGlyphs">Fragment length(bp)</text>
<text x="386.0" y="67.8" font-family="'Liberation Sans','DejaVu Sans',sans-serif" font-size="41" font-weight="normal" text-anchor="start" fill="#000" textLength="116.5" lengthAdjust="spacingAndGlyphs">Model</text>
<text x="1186.0" y="73.6" font-family="'Liberation Sans','DejaVu Sans',sans-serif" font-size="41.5" font-weight="normal" text-anchor="start" fill="#000" textLength="116.0" lengthAdjust="spacingAndGlyphs">T2943</text>
<text x="13.6" y="35.2" font-family="'Liberation Sans','DejaVu Sans',sans-serif" font-size="41" font-weight="bold" text-anchor="start" fill="#000">a</text>
<g clip-path="url(#hlcl)">
<rect x="210.60" y="776.20" width="296.00" height="572.60" fill="url(#hlbg)" stroke="none" stroke-width="1.0"/>
<rect x="210.60" y="776.20" width="296.00" height="26.00" fill="url(#hlts)" stroke="none" stroke-width="1.0"/>
<rect x="210.60" y="776.20" width="296.00" height="572.60" fill="url(#hlh1)" stroke="none" stroke-width="1.0" mask="url(#hlm1)"/>
<rect x="210.60" y="776.20" width="296.00" height="572.60" fill="url(#hlh2)" stroke="none" stroke-width="1.0" mask="url(#hlm2)"/>
<rect x="210.60" y="776.20" width="296.00" height="572.60" fill="#fff" stroke="none" stroke-width="1.0" filter="url(#hltx)" opacity="0.2"/>
<polygon points="348.05,770.20 348.74,780.83 349.16,791.46 349.44,802.09 349.67,812.72 349.86,823.35 350.02,833.97 350.15,844.60 350.27,855.23 350.38,865.86 350.48,876.49 350.58,887.12 350.82,916.35 351.14,965.07 351.40,1013.78 351.63,1062.50 351.84,1111.22 352.04,1159.93 352.21,1208.65 352.36,1257.37 352.50,1306.08 352.60,1354.80 364.00,1354.80 364.10,1306.08 364.24,1257.37 364.39,1208.65 364.56,1159.93 364.76,1111.22 364.97,1062.50 365.20,1013.78 365.46,965.07 365.78,916.35 366.02,887.12 366.12,876.49 366.22,865.86 366.33,855.23 366.45,844.60 366.58,833.97 366.74,823.35 366.93,812.72 367.16,802.09 367.44,791.46 367.86,780.83 368.55,770.20" fill="url(#hlcore)" filter="url(#hlbl)"/>
<polygon points="324.3,775.2 392.3,775.2 375.3,778.4 368.3,782.7 348.3,782.7 341.3,778.4" fill="#0a6433" opacity="0.85" filter="url(#hlbc)"/>
</g>
<rect x="210.60" y="776.20" width="296.00" height="572.60" fill="none" stroke="#222" stroke-width="1.8"/>
<line x1="210.60" y1="1348.80" x2="210.60" y2="1357.80" stroke="#262626" stroke-width="1.5"/>
<line x1="358.30" y1="1348.80" x2="358.30" y2="1357.80" stroke="#262626" stroke-width="1.5"/>
<line x1="506.60" y1="1348.80" x2="506.60" y2="1357.80" stroke="#262626" stroke-width="1.5"/>
<text x="211.5" y="1381.0" font-family="'DejaVu Sans','Liberation Sans',sans-serif" font-size="19.6" font-weight="normal" text-anchor="start" fill="#333" textLength="36.8" lengthAdjust="spacingAndGlyphs" stroke="#333" stroke-width="0.25">-3.0</text>
<text x="358.3" y="1381.0" font-family="'DejaVu Sans','Liberation Sans',sans-serif" font-size="19.6" font-weight="normal" text-anchor="middle" fill="#333" textLength="60.3" lengthAdjust="spacingAndGlyphs" stroke="#333" stroke-width="0.25">center</text>
<text x="505.8" y="1381.0" font-family="'DejaVu Sans','Liberation Sans',sans-serif" font-size="19.6" font-weight="normal" text-anchor="end" fill="#333" textLength="53.8" lengthAdjust="spacingAndGlyphs" stroke="#333" stroke-width="0.25">3.0Kb</text>
<text x="358.3" y="1410.8" font-family="'DejaVu Sans','Liberation Sans',sans-serif" font-size="19.6" font-weight="normal" text-anchor="middle" fill="#333" textLength="181.5" lengthAdjust="spacingAndGlyphs" stroke="#333" stroke-width="0.25">peaks distance(bp)</text>
<rect x="522.40" y="776.60" width="26.60" height="572.60" fill="url(#hlcb)" stroke="#262626" stroke-width="1.5"/>
<line x1="549.00" y1="1349.20" x2="557.50" y2="1349.20" stroke="#262626" stroke-width="1.5"/>
<text x="564.5" y="1356.4" font-family="'DejaVu Sans','Liberation Sans',sans-serif" font-size="19.6" font-weight="normal" text-anchor="start" fill="#333" textLength="11.7" lengthAdjust="spacingAndGlyphs" stroke="#333" stroke-width="0.25">0</text>
<line x1="549.00" y1="1267.40" x2="557.50" y2="1267.40" stroke="#262626" stroke-width="1.5"/>
<text x="564.5" y="1274.6" font-family="'DejaVu Sans','Liberation Sans',sans-serif" font-size="19.6" font-weight="normal" text-anchor="start" fill="#333" textLength="24.1" lengthAdjust="spacingAndGlyphs" stroke="#333" stroke-width="0.25">10</text>
<line x1="549.00" y1="1185.60" x2="557.50" y2="1185.60" stroke="#262626" stroke-width="1.5"/>
<text x="564.5" y="1192.8" font-family="'DejaVu Sans','Liberation Sans',sans-serif" font-size="19.6" font-weight="normal" text-anchor="start" fill="#333" textLength="24.1" lengthAdjust="spacingAndGlyphs" stroke="#333" stroke-width="0.25">20</text>
<line x1="549.00" y1="1103.80" x2="557.50" y2="1103.80" stroke="#262626" stroke-width="1.5"/>
<text x="564.5" y="1111.0" font-family="'DejaVu Sans','Liberation Sans',sans-serif" font-size="19.6" font-weight="normal" text-anchor="start" fill="#333" textLength="24.1" lengthAdjust="spacingAndGlyphs" stroke="#333" stroke-width="0.25">30</text>
<line x1="549.00" y1="1022.00" x2="557.50" y2="1022.00" stroke="#262626" stroke-width="1.5"/>
<text x="564.5" y="1029.2" font-family="'DejaVu Sans','Liberation Sans',sans-serif" font-size="19.6" font-weight="normal" text-anchor="start" fill="#333" textLength="24.1" lengthAdjust="spacingAndGlyphs" stroke="#333" stroke-width="0.25">40</text>
<line x1="549.00" y1="940.20" x2="557.50" y2="940.20" stroke="#262626" stroke-width="1.5"/>
<text x="564.5" y="947.4" font-family="'DejaVu Sans','Liberation Sans',sans-serif" font-size="19.6" font-weight="normal" text-anchor="start" fill="#333" textLength="24.1" lengthAdjust="spacingAndGlyphs" stroke="#333" stroke-width="0.25">50</text>
<line x1="549.00" y1="858.40" x2="557.50" y2="858.40" stroke="#262626" stroke-width="1.5"/>
<text x="564.5" y="865.6" font-family="'DejaVu Sans','Liberation Sans',sans-serif" font-size="19.6" font-weight="normal" text-anchor="start" fill="#333" textLength="24.1" lengthAdjust="spacingAndGlyphs" stroke="#333" stroke-width="0.25">60</text>
<line x1="549.00" y1="776.60" x2="557.50" y2="776.60" stroke="#262626" stroke-width="1.5"/>
<text x="564.5" y="783.8" font-family="'DejaVu Sans','Liberation Sans',sans-serif" font-size="19.6" font-weight="normal" text-anchor="start" fill="#333" textLength="24.1" lengthAdjust="spacingAndGlyphs" stroke="#333" stroke-width="0.25">70</text>
<g clip-path="url(#hrcl)">
<rect x="963.40" y="769.80" width="283.20" height="585.40" fill="url(#hrbg)" stroke="none" stroke-width="1.0"/>
<rect x="963.40" y="769.80" width="283.20" height="26.00" fill="url(#hrts)" stroke="none" stroke-width="1.0"/>
<rect x="963.40" y="769.80" width="283.20" height="585.40" fill="url(#hrh1)" stroke="none" stroke-width="1.0" mask="url(#hrm1)"/>
<rect x="963.40" y="769.80" width="283.20" height="585.40" fill="url(#hrh2)" stroke="none" stroke-width="1.0" mask="url(#hrm2)"/>
<rect x="963.40" y="769.80" width="283.20" height="585.40" fill="#fff" stroke="none" stroke-width="1.0" filter="url(#hrtx)" opacity="0.2"/>
<polygon points="1092.60,763.80 1093.40,774.66 1094.02,785.52 1094.36,796.39 1094.63,807.25 1094.85,818.11 1095.03,828.97 1095.18,839.83 1095.32,850.69 1095.44,861.56 1095.56,872.42 1095.67,883.28 1095.93,913.15 1096.29,962.93 1096.60,1012.72 1096.90,1062.50 1097.21,1112.28 1097.51,1162.07 1097.79,1211.85 1098.05,1261.63 1098.29,1311.42 1098.50,1361.20 1110.70,1361.20 1110.91,1311.42 1111.15,1261.63 1111.41,1211.85 1111.69,1162.07 1111.99,1112.28 1112.30,1062.50 1112.60,1012.72 1112.91,962.93 1113.27,913.15 1113.53,883.28 1113.64,872.42 1113.76,861.56 1113.88,850.69 1114.02,839.83 1114.17,828.97 1114.35,818.11 1114.57,807.25 1114.84,796.39 1115.18,785.52 1115.80,774.66 1116.60,763.80" fill="url(#hrcore)" filter="url(#hrbl)"/>
<polygon points="1070.6,768.8 1138.6,768.8 1121.6,772.0 1114.6,776.3 1094.6,776.3 1087.6,772.0" fill="#0a6433" opacity="0.85" filter="url(#hrbc)"/>
</g>
<rect x="963.40" y="769.80" width="283.20" height="585.40" fill="none" stroke="#222" stroke-width="1.8"/>
<line x1="963.40" y1="1355.20" x2="963.40" y2="1363.70" stroke="#262626" stroke-width="1.5"/>
<line x1="1104.60" y1="1355.20" x2="1104.60" y2="1363.70" stroke="#262626" stroke-width="1.5"/>
<line x1="1246.60" y1="1355.20" x2="1246.60" y2="1363.70" stroke="#262626" stroke-width="1.5"/>
<text x="964.3" y="1388.2" font-family="'DejaVu Sans','Liberation Sans',sans-serif" font-size="19.4" font-weight="normal" text-anchor="start" fill="#333" textLength="35.0" lengthAdjust="spacingAndGlyphs" stroke="#333" stroke-width="0.25">-3.0</text>
<text x="1104.6" y="1388.2" font-family="'DejaVu Sans','Liberation Sans',sans-serif" font-size="19.4" font-weight="normal" text-anchor="middle" fill="#333" textLength="58.0" lengthAdjust="spacingAndGlyphs" stroke="#333" stroke-width="0.25">center</text>
<text x="1245.8" y="1388.2" font-family="'DejaVu Sans','Liberation Sans',sans-serif" font-size="19.4" font-weight="normal" text-anchor="end" fill="#333" textLength="51.0" lengthAdjust="spacingAndGlyphs" stroke="#333" stroke-width="0.25">3.0Kb</text>
<text x="1104.6" y="1418.4" font-family="'DejaVu Sans','Liberation Sans',sans-serif" font-size="19.4" font-weight="normal" text-anchor="middle" fill="#333" textLength="174.0" lengthAdjust="spacingAndGlyphs" stroke="#333" stroke-width="0.25">peaks distance(bp)</text>
<rect x="1260.60" y="771.40" width="25.60" height="584.20" fill="url(#hrcb)" stroke="#262626" stroke-width="1.5"/>
<line x1="1286.20" y1="1355.60" x2="1294.70" y2="1355.60" stroke="#262626" stroke-width="1.5"/>
<text x="1301.7" y="1362.7" font-family="'DejaVu Sans','Liberation Sans',sans-serif" font-size="19.4" font-weight="normal" text-anchor="start" fill="#333" textLength="11.6" lengthAdjust="spacingAndGlyphs" stroke="#333" stroke-width="0.25">0</text>
<line x1="1286.20" y1="1272.14" x2="1294.70" y2="1272.14" stroke="#262626" stroke-width="1.5"/>
<text x="1301.7" y="1279.2" font-family="'DejaVu Sans','Liberation Sans',sans-serif" font-size="19.4" font-weight="normal" text-anchor="start" fill="#333" textLength="23.9" lengthAdjust="spacingAndGlyphs" stroke="#333" stroke-width="0.25">10</text>
<line x1="1286.20" y1="1188.69" x2="1294.70" y2="1188.69" stroke="#262626" stroke-width="1.5"/>
<text x="1301.7" y="1195.8" font-family="'DejaVu Sans','Liberation Sans',sans-serif" font-size="19.4" font-weight="normal" text-anchor="start" fill="#333" textLength="23.9" lengthAdjust="spacingAndGlyphs" stroke="#333" stroke-width="0.25">20</text>
<line x1="1286.20" y1="1105.23" x2="1294.70" y2="1105.23" stroke="#262626" stroke-width="1.5"/>
<text x="1301.7" y="1112.3" font-family="'DejaVu Sans','Liberation Sans',sans-serif" font-size="19.4" font-weight="normal" text-anchor="start" fill="#333" textLength="23.9" lengthAdjust="spacingAndGlyphs" stroke="#333" stroke-width="0.25">30</text>
<line x1="1286.20" y1="1021.77" x2="1294.70" y2="1021.77" stroke="#262626" stroke-width="1.5"/>
<text x="1301.7" y="1028.9" font-family="'DejaVu Sans','Liberation Sans',sans-serif" font-size="19.4" font-weight="normal" text-anchor="start" fill="#333" textLength="23.9" lengthAdjust="spacingAndGlyphs" stroke="#333" stroke-width="0.25">40</text>
<line x1="1286.20" y1="938.31" x2="1294.70" y2="938.31" stroke="#262626" stroke-width="1.5"/>
<text x="1301.7" y="945.4" font-family="'DejaVu Sans','Liberation Sans',sans-serif" font-size="19.4" font-weight="normal" text-anchor="start" fill="#333" textLength="23.9" lengthAdjust="spacingAndGlyphs" stroke="#333" stroke-width="0.25">50</text>
<line x1="1286.20" y1="854.86" x2="1294.70" y2="854.86" stroke="#262626" stroke-width="1.5"/>
<text x="1301.7" y="861.9" font-family="'DejaVu Sans','Liberation Sans',sans-serif" font-size="19.4" font-weight="normal" text-anchor="start" fill="#333" textLength="23.9" lengthAdjust="spacingAndGlyphs" stroke="#333" stroke-width="0.25">60</text>
<line x1="1286.20" y1="771.40" x2="1294.70" y2="771.40" stroke="#262626" stroke-width="1.5"/>
<text x="1301.7" y="778.5" font-family="'DejaVu Sans','Liberation Sans',sans-serif" font-size="19.4" font-weight="normal" text-anchor="start" fill="#333" textLength="23.9" lengthAdjust="spacingAndGlyphs" stroke="#333" stroke-width="0.25">70</text>
<text x="285.8" y="759.4" font-family="'Liberation Sans','DejaVu Sans',sans-serif" font-size="41" font-weight="normal" text-anchor="start" fill="#000" textLength="123.5" lengthAdjust="spacingAndGlyphs">Model</text>
<text x="994.4" y="758.9" font-family="'Liberation Sans','DejaVu Sans',sans-serif" font-size="40.5" font-weight="normal" text-anchor="start" fill="#000" textLength="114.5" lengthAdjust="spacingAndGlyphs">T2943</text>
<text x="35.0" y="762.3" font-family="'Liberation Sans','DejaVu Sans',sans-serif" font-size="40" font-weight="bold" text-anchor="start" fill="#000" textLength="25.5" lengthAdjust="spacingAndGlyphs">b</text>
<text x="0" y="0" transform="translate(162.4,955.4) rotate(90)" font-family="'Liberation Sans','DejaVu Sans',sans-serif" font-size="40.5" font-weight="normal" text-anchor="start" fill="#000" textLength="223.0" lengthAdjust="spacingAndGlyphs">18617 Peaks</text>
<text x="0" y="0" transform="translate(900.2,947.3) rotate(90)" font-family="'Liberation Sans','DejaVu Sans',sans-serif" font-size="40.5" font-weight="normal" text-anchor="start" fill="#000" textLength="221.0" lengthAdjust="spacingAndGlyphs">18807 Peaks</text>
<rect x="111.00" y="1478.00" width="1265.00" height="620.00" fill="#fff" stroke="none" stroke-width="1.0"/>
<rect x="111.00" y="1478.00" width="11.50" height="620.00" fill="#fbfbfb" stroke="none" stroke-width="1.0"/>
<rect x="111.00" y="1478.00" width="1265.00" height="3.00" fill="#fbfbfb" stroke="none" stroke-width="1.0"/>
<rect x="1374.00" y="1478.00" width="2.00" height="620.00" fill="#fafafa" stroke="none" stroke-width="1.0"/>
<line x1="262.90" y1="1506.50" x2="262.90" y2="2010.40" stroke="#ebebeb" stroke-width="1.5"/>
<line x1="479.40" y1="1506.50" x2="479.40" y2="2010.40" stroke="#ebebeb" stroke-width="1.5"/>
<line x1="914.90" y1="1506.50" x2="914.90" y2="2010.40" stroke="#ebebeb" stroke-width="1.5"/>
<line x1="1131.30" y1="1506.50" x2="1131.30" y2="2010.40" stroke="#ebebeb" stroke-width="1.5"/>
<line x1="219.50" y1="1886.30" x2="1174.50" y2="1886.30" stroke="#ebebeb" stroke-width="1.5"/>
<line x1="219.50" y1="1689.30" x2="1174.50" y2="1689.30" stroke="#ebebeb" stroke-width="1.5"/>
<polyline points="262.9,1931.9 263.9,1931.6 264.9,1931.5 265.9,1931.6 266.9,1931.9 267.9,1932.2 268.9,1932.3 269.9,1932.3 270.9,1932.0 271.9,1931.8 272.9,1931.4 273.9,1931.3 274.9,1931.0 275.9,1930.5 276.9,1930.3 277.9,1930.7 278.9,1931.6 279.9,1932.6 280.9,1933.2 281.9,1933.2 282.9,1932.6 283.9,1932.2 284.9,1932.0 285.9,1932.2 286.9,1932.5 287.9,1932.9 288.9,1933.1 289.9,1932.4 290.9,1931.1 291.9,1929.8 292.9,1928.8 293.9,1928.6 294.9,1928.8 295.9,1929.4 296.9,1930.1 297.9,1930.9 298.9,1931.3 299.9,1930.7 300.9,1929.6 301.9,1928.7 302.9,1928.3 303.9,1928.4 304.9,1928.8 305.9,1929.1 306.9,1929.5 307.9,1930.1 308.9,1930.5 309.9,1930.7 310.9,1930.4 311.9,1929.7 312.9,1929.2 313.9,1929.2 314.9,1929.5 315.9,1929.5 316.9,1929.3 317.9,1929.2 318.9,1929.5 319.9,1930.4 320.9,1931.3 321.9,1931.6 322.9,1931.4 323.9,1930.9 324.9,1930.4 325.9,1929.9 326.9,1929.5 327.9,1929.2 328.9,1929.2 329.9,1929.3 330.9,1929.8 331.9,1930.2 332.9,1930.3 333.9,1929.9 334.9,1929.3 335.9,1928.6 336.9,1928.4 337.9,1928.6 338.9,1928.8 339.9,1928.3 340.9,1927.4 341.9,1926.5 342.9,1926.0 343.9,1926.1 344.9,1926.6 345.9,1927.5 346.9,1928.3 347.9,1928.8 348.9,1928.8 349.9,1928.3 350.9,1928.0 351.9,1928.3 352.9,1929.0 353.9,1929.7 354.9,1929.9 355.9,1929.8 356.9,1929.7 357.9,1929.6 358.9,1929.3 359.9,1928.7 360.9,1928.1 361.9,1927.9 362.9,1928.2 363.9,1928.7 364.9,1928.9 365.9,1928.9 366.9,1929.0 367.9,1929.1 368.9,1929.5 369.9,1929.7 370.9,1929.6 371.9,1929.1 372.9,1928.7 373.9,1928.4 374.9,1928.3 375.9,1928.2 376.9,1927.9 377.9,1927.4 378.9,1926.7 379.9,1926.1 380.9,1925.4 381.9,1924.9 382.9,1924.8 383.9,1924.9 384.9,1925.1 385.9,1925.2 386.9,1925.5 387.9,1925.8 388.9,1926.3 389.9,1927.0 390.9,1927.6 391.9,1927.9 392.9,1928.0 393.9,1928.0 394.9,1927.9 395.9,1928.3 396.9,1929.0 397.9,1929.6 398.9,1930.0 399.9,1929.8 400.9,1929.5 401.9,1929.1 402.9,1928.7 403.9,1928.3 404.9,1927.5 405.9,1926.1 406.9,1924.1 407.9,1921.9 408.9,1920.1 409.9,1918.8 410.9,1916.4 411.9,1912.4 412.9,1908.5 413.9,1906.4 414.9,1906.6 415.9,1907.3 416.9,1908.0 417.9,1908.4 418.9,1908.8 419.9,1909.2 420.9,1909.7 421.9,1910.3 422.9,1910.6 423.9,1910.3 424.9,1909.4 425.9,1908.0 426.9,1906.7 427.9,1905.4 428.9,1904.0 429.9,1902.6 430.9,1901.2 431.9,1899.8 432.9,1898.5 433.9,1897.1 434.9,1895.4 435.9,1893.3 436.9,1891.2 437.9,1889.3 438.9,1887.4 439.9,1885.2 440.9,1882.5 441.9,1879.4 442.9,1876.1 443.9,1873.0 444.9,1870.0 445.9,1867.0 446.9,1863.9 447.9,1860.6 448.9,1856.9 449.9,1853.0 450.9,1848.6 451.9,1843.8 452.9,1838.8 453.9,1833.5 454.9,1828.1 455.9,1822.5 456.9,1816.5 457.9,1810.1 458.9,1803.3 459.9,1796.0 460.9,1788.6 461.9,1781.0 462.9,1773.2 463.9,1765.1 464.9,1756.4 465.9,1746.9 466.9,1736.5 467.9,1725.2 468.9,1712.7 469.9,1698.9 470.9,1682.9 471.9,1664.3 472.9,1645.3 473.9,1627.4 474.9,1609.8 475.9,1593.2 476.9,1578.2 477.9,1564.7 478.9,1555.9 479.9,1556.1 480.9,1568.8 481.9,1596.4 482.9,1624.1 483.9,1651.7 484.9,1675.7 485.9,1698.0 486.9,1719.7 487.9,1742.0 488.9,1762.3 489.9,1777.4 490.9,1789.8 491.9,1800.5 492.9,1809.3 493.9,1816.2 494.9,1822.2 495.9,1827.3 496.9,1831.8 497.9,1835.6 498.9,1838.7 499.9,1841.5 500.9,1843.9 501.9,1846.2 502.9,1848.2 503.9,1850.1 504.9,1851.8 505.9,1853.3 506.9,1854.8 507.9,1856.2 508.9,1857.6 509.9,1859.1 510.9,1860.5 511.9,1861.8 512.9,1862.7 513.9,1863.6 514.9,1864.5 515.9,1865.6 516.9,1866.6 517.9,1867.5 518.9,1868.4 519.9,1869.2 520.9,1870.3 521.9,1871.3 522.9,1872.1 523.9,1872.6 524.9,1873.2 525.9,1873.8 526.9,1874.4 527.9,1875.0 528.9,1875.5 529.9,1876.1 530.9,1876.8 531.9,1877.4 532.9,1877.9 533.9,1878.3 534.9,1878.8 535.9,1879.2 536.9,1879.3 537.9,1878.9 538.9,1878.5 539.9,1878.8 540.9,1879.7 541.9,1880.6 542.9,1881.0 543.9,1881.0 544.9,1880.7 545.9,1880.9 546.9,1881.4 547.9,1881.7 548.9,1881.5 549.9,1881.1 550.9,1880.7 551.9,1880.8 552.9,1881.5 553.9,1882.5 554.9,1883.5 555.9,1884.1 556.9,1884.3 557.9,1884.1 558.9,1883.8 559.9,1883.5 560.9,1883.8 561.9,1884.5 562.9,1885.4 563.9,1886.0 564.9,1885.9 565.9,1885.3 566.9,1884.8 567.9,1884.6 568.9,1884.4 569.9,1884.4 570.9,1884.5 571.9,1884.7 572.9,1885.0 573.9,1885.3 574.9,1885.5 575.9,1885.7 576.9,1885.9 577.9,1886.0 578.9,1885.8 579.9,1885.3 580.9,1884.6 581.9,1884.0 582.9,1883.6 583.9,1883.4 584.9,1883.7 585.9,1884.1 586.9,1884.3 587.9,1884.3 588.9,1884.3 589.9,1884.1 590.9,1883.9 591.9,1883.6 592.9,1883.0 593.9,1882.6 594.9,1882.8 595.9,1883.4 596.9,1884.3 597.9,1884.8 598.9,1884.5 599.9,1883.6 600.9,1882.6 601.9,1881.8 602.9,1881.0 603.9,1880.5 604.9,1880.6 605.9,1881.5 606.9,1882.8 607.9,1884.1 608.9,1885.0 609.9,1885.2 610.9,1885.0 611.9,1884.7 612.9,1884.2 613.9,1883.5 614.9,1883.0 615.9,1882.9 616.9,1883.1 617.9,1883.7 618.9,1884.2 619.9,1884.4 620.9,1884.6 621.9,1885.1 622.9,1885.7 623.9,1886.4 624.9,1886.5 625.9,1885.9 626.9,1885.1 627.9,1884.8 628.9,1884.9 629.9,1885.0 630.9,1884.9 631.9,1884.1 632.9,1883.1 633.9,1882.6 634.9,1882.8 635.9,1883.7 636.9,1885.2 637.9,1886.8 638.9,1887.7 639.9,1887.6 640.9,1887.0 641.9,1886.2 642.9,1885.6 643.9,1885.5 644.9,1885.6 645.9,1885.9 646.9,1886.3 647.9,1886.4 648.9,1886.0 649.9,1885.2 650.9,1884.2 651.9,1883.4 652.9,1883.1 653.9,1883.2 654.9,1883.5 655.9,1883.6 656.9,1882.8 657.9,1880.7 658.9,1877.2 659.9,1873.0 660.9,1869.2 661.9,1866.9 662.9,1866.7 663.9,1868.7 664.9,1872.3 665.9,1876.4 666.9,1879.9 667.9,1882.2 668.9,1883.2 669.9,1883.3 670.9,1883.5 671.9,1884.1 672.9,1885.0 673.9,1885.6 674.9,1885.6 675.9,1885.4 676.9,1885.0 677.9,1884.7 678.9,1884.7 679.9,1884.6 680.9,1884.2 681.9,1883.7 682.9,1883.0 683.9,1882.3 684.9,1881.6 685.9,1880.9 686.9,1880.4 687.9,1880.3 688.9,1880.3 689.9,1880.4 690.9,1880.5 691.9,1880.6 692.9,1880.8 693.9,1880.8 694.9,1880.6 695.9,1880.3 696.9,1880.2 697.9,1880.6 698.9,1881.1 699.9,1881.5 700.9,1881.8 701.9,1882.6 702.9,1883.9 703.9,1885.3 704.9,1886.4 705.9,1886.8 706.9,1886.9 707.9,1886.7 708.9,1886.5 709.9,1886.8 710.9,1887.4 711.9,1888.1 712.9,1888.6 713.9,1889.0 714.9,1889.2 715.9,1889.7 716.9,1889.9 717.9,1889.7 718.9,1889.1 719.9,1888.9 720.9,1889.0 721.9,1889.4 722.9,1889.6 723.9,1889.6 724.9,1889.5 725.9,1889.7 726.9,1890.1 727.9,1890.2 728.9,1890.0 729.9,1889.8 730.9,1889.8 731.9,1890.0 732.9,1890.0 733.9,1889.7 734.9,1889.1 735.9,1888.4 736.9,1888.2 737.9,1888.3 738.9,1888.5 739.9,1888.5 740.9,1888.2 741.9,1887.6 742.9,1886.9 743.9,1886.1 744.9,1885.4 745.9,1885.1 746.9,1885.2 747.9,1885.4 748.9,1885.4 749.9,1885.3 750.9,1885.3 751.9,1885.3 752.9,1885.4 753.9,1885.4 754.9,1885.1 755.9,1884.9 756.9,1884.9 757.9,1884.7 758.9,1884.3 759.9,1883.8 760.9,1883.0 761.9,1882.3 762.9,1882.2 763.9,1882.8 764.9,1884.0 765.9,1885.1 766.9,1885.2 767.9,1884.7 768.9,1884.3 769.9,1884.4 770.9,1884.9 771.9,1885.4 772.9,1885.4 773.9,1884.8 774.9,1884.1 775.9,1883.7 776.9,1883.3 777.9,1882.8 778.9,1882.1 779.9,1881.6 780.9,1881.5 781.9,1881.8 782.9,1882.1 783.9,1882.3 784.9,1882.6 785.9,1883.1 786.9,1883.7 787.9,1884.2 788.9,1884.2 789.9,1884.0 790.9,1884.1 791.9,1884.6 792.9,1885.3 793.9,1885.8 794.9,1886.0 795.9,1886.0 796.9,1886.3 797.9,1886.6 798.9,1886.6 799.9,1886.0 800.9,1885.2 801.9,1884.3 802.9,1883.9 803.9,1883.9 804.9,1884.0 805.9,1884.4 806.9,1884.8 807.9,1884.8 808.9,1884.5 809.9,1884.3 810.9,1884.3 811.9,1884.2 812.9,1883.9 813.9,1883.4 814.9,1883.0 815.9,1883.1 816.9,1883.2 817.9,1883.1 818.9,1882.8 819.9,1882.7 820.9,1883.1 821.9,1883.9 822.9,1884.8 823.9,1885.5 824.9,1886.0 825.9,1886.3 826.9,1886.6 827.9,1886.9 828.9,1887.2 829.9,1887.3 830.9,1887.3 831.9,1887.4 832.9,1887.9 833.9,1888.6 834.9,1888.7 835.9,1888.3 836.9,1887.6 837.9,1887.3 838.9,1887.6 839.9,1887.9 840.9,1887.9 841.9,1887.6 842.9,1887.3 843.9,1887.1 844.9,1887.3 845.9,1887.5 846.9,1887.8 847.9,1888.1 848.9,1888.3 849.9,1888.1 850.9,1887.5 851.9,1886.9 852.9,1886.8 853.9,1887.7 854.9,1889.1 855.9,1890.4 856.9,1891.2 857.9,1891.1 858.9,1890.4 859.9,1889.3 860.9,1888.4 861.9,1887.9 862.9,1887.7 863.9,1887.9 864.9,1888.1 865.9,1888.5 866.9,1889.1 867.9,1889.8 868.9,1890.4 869.9,1891.0 870.9,1891.3 871.9,1891.6 872.9,1891.8 873.9,1891.9 874.9,1892.0 875.9,1892.5 876.9,1892.9 877.9,1893.2 878.9,1893.5 879.9,1893.8 880.9,1894.1 881.9,1894.4 882.9,1894.5 883.9,1894.5 884.9,1894.4 885.9,1894.6 886.9,1895.0 887.9,1895.9 888.9,1897.1 889.9,1898.4 890.9,1899.4 891.9,1899.6 892.9,1899.4 893.9,1899.1 894.9,1899.3 895.9,1900.2 896.9,1901.3 897.9,1902.1 898.9,1902.4 899.9,1902.4 900.9,1902.6 901.9,1903.4 902.9,1904.6 903.9,1905.9 904.9,1907.5 905.9,1909.5 906.9,1912.0 907.9,1915.2 908.9,1919.6 909.9,1925.7 910.9,1934.0 911.9,1945.2 912.9,1958.7 913.9,1971.5 914.9,1977.0 915.9,1971.4 916.9,1958.6 917.9,1945.1 918.9,1934.0 919.9,1925.9 920.9,1919.9 921.9,1915.7 922.9,1912.6 923.9,1910.4 924.9,1908.5 925.9,1906.6 926.9,1904.9 927.9,1903.9 928.9,1903.4 929.9,1903.1 930.9,1902.6 931.9,1901.6 932.9,1900.7 933.9,1900.0 934.9,1899.2 935.9,1898.4 936.9,1897.9 937.9,1897.7 938.9,1897.7 939.9,1897.3 940.9,1896.2 941.9,1895.0 942.9,1894.3 943.9,1894.3 944.9,1894.7 945.9,1895.0 946.9,1895.1 947.9,1895.4 948.9,1895.6 949.9,1895.9 950.9,1895.7 951.9,1895.4 952.9,1894.9 953.9,1894.1 954.9,1893.1 955.9,1892.4 956.9,1891.7 957.9,1891.2 958.9,1890.6 959.9,1889.9 960.9,1889.2 961.9,1888.9 962.9,1889.1 963.9,1889.6 964.9,1890.0 965.9,1889.9 966.9,1889.4 967.9,1889.0 968.9,1889.3 969.9,1890.4 970.9,1891.6 971.9,1892.2 972.9,1892.4 973.9,1892.7 974.9,1893.2 975.9,1893.8 976.9,1894.1 977.9,1894.0 978.9,1894.0 979.9,1894.0 980.9,1894.3 981.9,1895.1 982.9,1896.2 983.9,1897.5 984.9,1898.6 985.9,1898.8 986.9,1898.4 987.9,1897.8 988.9,1897.6 989.9,1898.0 990.9,1898.5 991.9,1898.7 992.9,1898.8 993.9,1898.6 994.9,1898.3 995.9,1898.2 996.9,1898.3 997.9,1898.2 998.9,1897.7 999.9,1896.8 1000.9,1896.0 1001.9,1895.4 1002.9,1895.3 1003.9,1895.6 1004.9,1896.0 1005.9,1896.5 1006.9,1897.2 1007.9,1897.7 1008.9,1897.9 1009.9,1897.8 1010.9,1897.8 1011.9,1897.9 1012.9,1898.1 1013.9,1898.0 1014.9,1897.9 1015.9,1898.0 1016.9,1898.3 1017.9,1898.3 1018.9,1897.9 1019.9,1897.5 1020.9,1897.5 1021.9,1897.9 1022.9,1898.6 1023.9,1898.9 1024.9,1898.6 1025.9,1898.2 1026.9,1897.9 1027.9,1897.8 1028.9,1897.6 1029.9,1897.2 1030.9,1896.8 1031.9,1896.4 1032.9,1896.2 1033.9,1896.2 1034.9,1896.2 1035.9,1896.3 1036.9,1896.6 1037.9,1896.9 1038.9,1897.3 1039.9,1897.6 1040.9,1897.5 1041.9,1896.9 1042.9,1896.1 1043.9,1895.2 1044.9,1894.4 1045.9,1894.1 1046.9,1894.2 1047.9,1894.5 1048.9,1894.5 1049.9,1894.4 1050.9,1894.1 1051.9,1893.8 1052.9,1893.7 1053.9,1894.0 1054.9,1894.6 1055.9,1895.1 1056.9,1895.4 1057.9,1895.4 1058.9,1895.4 1059.9,1895.6 1060.9,1896.0 1061.9,1896.3 1062.9,1896.4 1063.9,1896.5 1064.9,1896.6 1065.9,1896.8 1066.9,1897.1 1067.9,1897.4 1068.9,1897.6 1069.9,1897.7 1070.9,1897.7 1071.9,1897.8 1072.9,1898.2 1073.9,1898.9 1074.9,1899.6 1075.9,1900.1 1076.9,1900.4 1077.9,1900.2 1078.9,1899.5 1079.9,1898.7 1080.9,1898.0 1081.9,1897.9 1082.9,1898.1 1083.9,1898.0 1084.9,1897.4 1085.9,1896.6 1086.9,1895.9 1087.9,1895.5 1088.9,1895.2 1089.9,1894.8 1090.9,1894.3 1091.9,1893.6 1092.9,1892.9 1093.9,1892.4 1094.9,1892.2 1095.9,1892.4 1096.9,1892.7 1097.9,1892.6 1098.9,1892.5 1099.9,1892.7 1100.9,1893.3 1101.9,1894.2 1102.9,1895.3 1103.9,1896.2 1104.9,1896.9 1105.9,1897.8 1106.9,1898.7 1107.9,1899.5 1108.9,1900.4 1109.9,1901.0 1110.9,1900.9 1111.9,1900.0 1112.9,1898.4 1113.9,1896.7 1114.9,1895.5 1115.9,1894.9 1116.9,1894.4 1117.9,1893.4 1118.9,1891.3 1119.9,1889.0 1120.9,1887.1 1121.9,1885.4 1122.9,1884.4 1123.9,1884.3 1124.9,1885.1 1125.9,1886.7 1126.9,1888.9 1127.9,1891.1 1128.9,1893.0 1129.9,1894.9 1130.9,1897.1" fill="none" stroke="#00008b" stroke-width="4.6" stroke-linejoin="round" stroke-linecap="round"/>
<polyline points="262.9,1932.1 263.9,1931.9 264.9,1931.4 265.9,1930.4 266.9,1929.1 267.9,1928.3 268.9,1928.2 269.9,1928.7 270.9,1929.3 271.9,1929.4 272.9,1929.1 273.9,1929.0 274.9,1929.4 275.9,1930.0 276.9,1930.4 277.9,1930.2 278.9,1929.8 279.9,1929.8 280.9,1930.6 281.9,1931.9 282.9,1932.9 283.9,1933.1 284.9,1932.3 285.9,1931.2 286.9,1930.3 287.9,1929.8 288.9,1929.5 289.9,1929.0 290.9,1928.2 291.9,1927.6 292.9,1927.5 293.9,1927.9 294.9,1928.6 295.9,1929.2 296.9,1929.4 297.9,1929.5 298.9,1929.5 299.9,1929.5 300.9,1929.7 301.9,1929.8 302.9,1929.5 303.9,1929.1 304.9,1929.0 305.9,1928.9 306.9,1928.9 307.9,1929.1 308.9,1929.5 309.9,1930.3 310.9,1931.2 311.9,1931.6 312.9,1931.0 313.9,1929.7 314.9,1928.3 315.9,1927.3 316.9,1926.7 317.9,1926.5 318.9,1926.2 319.9,1926.2 320.9,1926.4 321.9,1926.7 322.9,1926.9 323.9,1926.7 324.9,1926.1 325.9,1925.4 326.9,1925.4 327.9,1926.2 328.9,1927.5 329.9,1928.7 330.9,1929.3 331.9,1929.1 332.9,1928.1 333.9,1926.8 334.9,1926.2 335.9,1926.5 336.9,1927.5 337.9,1928.4 338.9,1928.3 339.9,1927.2 340.9,1926.3 341.9,1926.4 342.9,1926.7 343.9,1926.6 344.9,1926.0 345.9,1925.1 346.9,1924.6 347.9,1924.7 348.9,1925.3 349.9,1926.0 350.9,1926.7 351.9,1927.2 352.9,1927.5 353.9,1927.7 354.9,1928.1 355.9,1928.6 356.9,1928.9 357.9,1929.0 358.9,1929.1 359.9,1929.5 360.9,1929.9 361.9,1930.2 362.9,1930.2 363.9,1930.1 364.9,1929.9 365.9,1929.6 366.9,1929.0 367.9,1927.8 368.9,1926.1 369.9,1924.7 370.9,1923.7 371.9,1923.4 372.9,1923.6 373.9,1924.0 374.9,1924.0 375.9,1923.9 376.9,1924.1 377.9,1924.6 378.9,1925.1 379.9,1925.2 380.9,1924.8 381.9,1924.1 382.9,1923.6 383.9,1923.7 384.9,1924.0 385.9,1924.3 386.9,1924.6 387.9,1924.8 388.9,1925.0 389.9,1925.2 390.9,1925.0 391.9,1924.5 392.9,1924.0 393.9,1923.7 394.9,1923.4 395.9,1923.2 396.9,1923.1 397.9,1923.2 398.9,1923.7 399.9,1924.3 400.9,1924.3 401.9,1923.7 402.9,1923.0 403.9,1922.1 404.9,1921.5 405.9,1921.0 406.9,1920.5 407.9,1919.7 408.9,1918.4 409.9,1916.8 410.9,1914.1 411.9,1909.9 412.9,1906.2 413.9,1904.4 414.9,1904.6 415.9,1904.8 416.9,1905.0 417.9,1904.8 418.9,1904.7 419.9,1905.1 420.9,1906.2 421.9,1907.5 422.9,1908.3 423.9,1908.1 424.9,1907.0 425.9,1905.6 426.9,1904.3 427.9,1902.8 428.9,1900.8 429.9,1898.7 430.9,1896.9 431.9,1895.8 432.9,1895.0 433.9,1894.1 434.9,1892.7 435.9,1890.9 436.9,1888.7 437.9,1886.3 438.9,1883.5 439.9,1880.5 440.9,1877.4 441.9,1874.4 442.9,1871.5 443.9,1868.8 444.9,1866.3 445.9,1863.7 446.9,1860.8 447.9,1857.5 448.9,1853.6 449.9,1849.3 450.9,1844.6 451.9,1839.5 452.9,1834.4 453.9,1829.3 454.9,1823.9 455.9,1818.3 456.9,1812.4 457.9,1806.0 458.9,1799.3 459.9,1792.2 460.9,1784.7 461.9,1776.8 462.9,1768.9 463.9,1760.8 464.9,1752.3 465.9,1743.2 466.9,1733.1 467.9,1721.9 468.9,1709.3 469.9,1695.4 470.9,1679.1 471.9,1660.4 472.9,1641.1 473.9,1623.2 474.9,1605.6 475.9,1589.1 476.9,1574.1 477.9,1560.5 478.9,1551.7 479.9,1551.9 480.9,1564.7 481.9,1592.3 482.9,1620.0 483.9,1647.6 484.9,1671.7 485.9,1694.0 486.9,1715.8 487.9,1738.3 488.9,1758.8 489.9,1774.0 490.9,1786.4 491.9,1796.9 492.9,1805.6 493.9,1812.4 494.9,1818.4 495.9,1823.8 496.9,1828.5 497.9,1832.3 498.9,1835.5 499.9,1838.1 500.9,1840.5 501.9,1842.7 502.9,1844.6 503.9,1846.2 504.9,1847.6 505.9,1849.0 506.9,1850.3 507.9,1851.8 508.9,1853.3 509.9,1854.7 510.9,1855.9 511.9,1857.0 512.9,1858.2 513.9,1859.6 514.9,1861.1 515.9,1862.4 516.9,1863.3 517.9,1863.6 518.9,1863.5 519.9,1863.5 520.9,1863.7 521.9,1864.2 522.9,1865.1 523.9,1866.1 524.9,1867.1 525.9,1868.2 526.9,1869.1 527.9,1869.7 528.9,1869.8 529.9,1870.0 530.9,1870.5 531.9,1871.4 532.9,1872.4 533.9,1873.1 534.9,1873.7 535.9,1874.6 536.9,1875.7 537.9,1876.4 538.9,1875.9 539.9,1874.6 540.9,1873.8 541.9,1873.9 542.9,1874.8 543.9,1875.9 544.9,1876.8 545.9,1877.7 546.9,1878.7 547.9,1879.4 548.9,1879.4 549.9,1878.9 550.9,1878.6 551.9,1878.6 552.9,1878.7 553.9,1878.8 554.9,1878.5 555.9,1878.2 556.9,1878.2 557.9,1878.2 558.9,1878.1 559.9,1877.9 560.9,1877.5 561.9,1877.2 562.9,1877.2 563.9,1877.3 564.9,1877.3 565.9,1877.7 566.9,1878.5 567.9,1879.9 568.9,1881.3 569.9,1881.8 570.9,1881.4 571.9,1880.3 572.9,1879.1 573.9,1878.1 574.9,1877.5 575.9,1877.2 576.9,1877.4 577.9,1877.9 578.9,1878.5 579.9,1878.8 580.9,1879.0 581.9,1879.2 582.9,1879.6 583.9,1880.3 584.9,1880.8 585.9,1881.0 586.9,1880.8 587.9,1880.7 588.9,1880.7 589.9,1880.8 590.9,1880.6 591.9,1879.9 592.9,1879.2 593.9,1878.9 594.9,1879.0 595.9,1879.2 596.9,1879.2 597.9,1879.2 598.9,1879.5 599.9,1880.3 600.9,1880.9 601.9,1880.9 602.9,1880.7 603.9,1880.8 604.9,1881.3 605.9,1881.6 606.9,1881.9 607.9,1882.0 608.9,1881.6 609.9,1881.2 610.9,1880.6 611.9,1880.0 612.9,1879.8 613.9,1880.2 614.9,1880.6 615.9,1880.6 616.9,1880.4 617.9,1880.0 618.9,1879.7 619.9,1879.9 620.9,1880.5 621.9,1881.2 622.9,1881.7 623.9,1881.7 624.9,1881.1 625.9,1880.3 626.9,1880.0 627.9,1880.5 628.9,1881.2 629.9,1881.6 630.9,1881.4 631.9,1880.7 632.9,1879.6 633.9,1878.7 634.9,1878.0 635.9,1877.6 636.9,1877.8 637.9,1878.5 638.9,1879.0 639.9,1879.0 640.9,1878.8 641.9,1878.6 642.9,1878.8 643.9,1879.2 644.9,1879.4 645.9,1879.1 646.9,1878.2 647.9,1877.4 648.9,1877.1 649.9,1877.1 650.9,1877.3 651.9,1877.5 652.9,1877.6 653.9,1878.2 654.9,1879.1 655.9,1879.6 656.9,1878.5 657.9,1875.8 658.9,1871.8 659.9,1867.4 660.9,1863.9 661.9,1862.5 662.9,1863.2 663.9,1865.8 664.9,1869.4 665.9,1872.7 666.9,1875.1 667.9,1876.9 668.9,1877.9 669.9,1878.2 670.9,1878.0 671.9,1877.7 672.9,1877.7 673.9,1878.4 674.9,1879.7 675.9,1881.1 676.9,1882.1 677.9,1882.4 678.9,1881.9 679.9,1880.5 680.9,1878.9 681.9,1877.6 682.9,1877.0 683.9,1877.1 684.9,1877.3 685.9,1877.3 686.9,1876.8 687.9,1876.0 688.9,1875.6 689.9,1875.9 690.9,1876.5 691.9,1877.0 692.9,1877.0 693.9,1876.8 694.9,1876.6 695.9,1876.9 696.9,1877.7 697.9,1878.3 698.9,1878.6 699.9,1878.5 700.9,1878.3 701.9,1878.2 702.9,1878.4 703.9,1878.7 704.9,1878.7 705.9,1878.4 706.9,1877.7 707.9,1876.9 708.9,1876.4 709.9,1876.5 710.9,1877.0 711.9,1877.4 712.9,1877.8 713.9,1878.5 714.9,1879.5 715.9,1880.9 716.9,1882.1 717.9,1882.9 718.9,1883.3 719.9,1883.5 720.9,1883.7 721.9,1883.9 722.9,1883.9 723.9,1883.8 724.9,1883.9 725.9,1884.3 726.9,1884.7 727.9,1884.4 728.9,1883.7 729.9,1883.4 730.9,1883.3 731.9,1883.4 732.9,1883.4 733.9,1883.3 734.9,1883.1 735.9,1882.9 736.9,1882.8 737.9,1882.7 738.9,1882.9 739.9,1883.6 740.9,1884.2 741.9,1883.9 742.9,1883.0 743.9,1882.2 744.9,1882.0 745.9,1882.8 746.9,1884.0 747.9,1884.5 748.9,1883.9 749.9,1882.7 750.9,1881.6 751.9,1880.9 752.9,1880.9 753.9,1881.4 754.9,1882.0 755.9,1882.5 756.9,1882.8 757.9,1882.7 758.9,1882.4 759.9,1882.4 760.9,1882.5 761.9,1882.7 762.9,1882.9 763.9,1883.1 764.9,1883.4 765.9,1883.5 766.9,1882.9 767.9,1881.7 768.9,1880.6 769.9,1880.1 770.9,1880.0 771.9,1879.9 772.9,1879.4 773.9,1878.8 774.9,1878.2 775.9,1877.5 776.9,1876.9 777.9,1876.7 778.9,1876.9 779.9,1877.3 780.9,1877.5 781.9,1877.1 782.9,1876.6 783.9,1876.4 784.9,1876.4 785.9,1876.5 786.9,1876.8 787.9,1877.5 788.9,1878.5 789.9,1879.8 790.9,1880.9 791.9,1881.3 792.9,1881.2 793.9,1880.8 794.9,1880.2 795.9,1880.0 796.9,1880.4 797.9,1881.1 798.9,1881.9 799.9,1882.3 800.9,1882.7 801.9,1882.9 802.9,1882.9 803.9,1882.8 804.9,1883.0 805.9,1883.7 806.9,1884.3 807.9,1884.5 808.9,1883.6 809.9,1882.3 810.9,1881.3 811.9,1881.2 812.9,1881.9 813.9,1882.7 814.9,1883.1 815.9,1883.2 816.9,1883.1 817.9,1883.1 818.9,1883.0 819.9,1882.8 820.9,1882.5 821.9,1882.4 822.9,1882.8 823.9,1883.5 824.9,1884.2 825.9,1884.6 826.9,1884.6 827.9,1884.3 828.9,1883.7 829.9,1882.8 830.9,1882.2 831.9,1882.0 832.9,1882.2 833.9,1882.5 834.9,1882.9 835.9,1883.2 836.9,1883.4 837.9,1883.4 838.9,1882.9 839.9,1881.9 840.9,1881.0 841.9,1880.6 842.9,1880.7 843.9,1880.8 844.9,1880.4 845.9,1879.7 846.9,1878.9 847.9,1878.5 848.9,1878.8 849.9,1879.6 850.9,1880.4 851.9,1881.0 852.9,1881.6 853.9,1882.3 854.9,1883.2 855.9,1884.4 856.9,1885.5 857.9,1886.1 858.9,1886.2 859.9,1886.0 860.9,1885.8 861.9,1885.4 862.9,1884.9 863.9,1884.1 864.9,1883.3 865.9,1882.9 866.9,1882.7 867.9,1882.6 868.9,1882.5 869.9,1882.8 870.9,1883.3 871.9,1883.9 872.9,1884.5 873.9,1885.5 874.9,1886.6 875.9,1887.3 876.9,1887.0 877.9,1886.0 878.9,1885.0 879.9,1884.8 880.9,1885.4 881.9,1886.4 882.9,1886.9 883.9,1887.0 884.9,1887.3 885.9,1887.9 886.9,1888.9 887.9,1889.8 888.9,1890.5 889.9,1891.1 890.9,1891.4 891.9,1891.6 892.9,1891.6 893.9,1891.5 894.9,1891.3 895.9,1891.7 896.9,1892.6 897.9,1893.9 898.9,1895.4 899.9,1897.1 900.9,1898.7 901.9,1900.1 902.9,1901.3 903.9,1902.4 904.9,1903.6 905.9,1905.4 906.9,1907.9 907.9,1911.2 908.9,1915.7 909.9,1921.8 910.9,1930.2 911.9,1941.5 912.9,1955.4 913.9,1968.5 914.9,1974.3 915.9,1968.7 916.9,1955.6 917.9,1941.6 918.9,1930.2 919.9,1921.8 920.9,1915.9 921.9,1911.8 922.9,1908.9 923.9,1906.6 924.9,1904.8 925.9,1903.2 926.9,1901.9 927.9,1901.1 928.9,1901.0 929.9,1901.0 930.9,1901.0 931.9,1900.6 932.9,1900.1 933.9,1899.6 934.9,1898.9 935.9,1898.3 936.9,1897.9 937.9,1897.4 938.9,1896.3 939.9,1894.7 940.9,1893.0 941.9,1891.6 942.9,1890.7 943.9,1890.3 944.9,1889.9 945.9,1889.3 946.9,1888.4 947.9,1887.6 948.9,1887.2 949.9,1887.5 950.9,1887.9 951.9,1887.8 952.9,1887.0 953.9,1886.0 954.9,1885.5 955.9,1885.5 956.9,1885.7 957.9,1885.8 958.9,1885.5 959.9,1885.0 960.9,1884.9 961.9,1884.9 962.9,1884.9 963.9,1884.8 964.9,1884.7 965.9,1884.7 966.9,1885.1 967.9,1885.7 968.9,1885.9 969.9,1885.8 970.9,1885.5 971.9,1885.2 972.9,1885.3 973.9,1885.8 974.9,1886.4 975.9,1887.0 976.9,1887.6 977.9,1888.1 978.9,1888.8 979.9,1890.2 980.9,1892.0 981.9,1893.8 982.9,1895.2 983.9,1896.3 984.9,1897.1 985.9,1897.6 986.9,1897.7 987.9,1897.3 988.9,1896.3 989.9,1895.2 990.9,1894.3 991.9,1893.6 992.9,1892.8 993.9,1892.2 994.9,1891.9 995.9,1891.6 996.9,1891.1 997.9,1890.3 998.9,1889.3 999.9,1888.7 1000.9,1888.3 1001.9,1888.0 1002.9,1887.9 1003.9,1887.9 1004.9,1888.0 1005.9,1887.8 1006.9,1887.5 1007.9,1887.3 1008.9,1887.6 1009.9,1888.4 1010.9,1889.5 1011.9,1890.8 1012.9,1891.8 1013.9,1892.1 1014.9,1892.2 1015.9,1892.3 1016.9,1892.5 1017.9,1892.9 1018.9,1892.9 1019.9,1892.0 1020.9,1890.5 1021.9,1889.5 1022.9,1889.2 1023.9,1889.4 1024.9,1890.0 1025.9,1890.5 1026.9,1891.0 1027.9,1891.6 1028.9,1892.2 1029.9,1892.8 1030.9,1893.2 1031.9,1893.5 1032.9,1893.7 1033.9,1893.5 1034.9,1893.1 1035.9,1892.8 1036.9,1892.3 1037.9,1891.7 1038.9,1891.2 1039.9,1890.8 1040.9,1890.6 1041.9,1890.4 1042.9,1889.7 1043.9,1888.4 1044.9,1886.9 1045.9,1885.9 1046.9,1885.8 1047.9,1886.7 1048.9,1887.9 1049.9,1888.4 1050.9,1888.0 1051.9,1886.9 1052.9,1886.1 1053.9,1885.8 1054.9,1886.1 1055.9,1886.5 1056.9,1886.6 1057.9,1886.4 1058.9,1886.1 1059.9,1885.7 1060.9,1885.4 1061.9,1885.3 1062.9,1885.7 1063.9,1886.4 1064.9,1887.4 1065.9,1888.1 1066.9,1888.7 1067.9,1889.3 1068.9,1889.9 1069.9,1890.7 1070.9,1891.4 1071.9,1891.7 1072.9,1892.0 1073.9,1892.4 1074.9,1893.2 1075.9,1894.1 1076.9,1895.1 1077.9,1895.9 1078.9,1896.1 1079.9,1895.9 1080.9,1895.4 1081.9,1894.8 1082.9,1894.0 1083.9,1893.0 1084.9,1892.0 1085.9,1891.2 1086.9,1890.5 1087.9,1889.7 1088.9,1888.5 1089.9,1887.1 1090.9,1886.2 1091.9,1886.1 1092.9,1886.2 1093.9,1886.2 1094.9,1885.9 1095.9,1885.9 1096.9,1886.2 1097.9,1886.7 1098.9,1887.1 1099.9,1887.5 1100.9,1888.0 1101.9,1888.9 1102.9,1889.7 1103.9,1890.6 1104.9,1891.7 1105.9,1892.8 1106.9,1893.5 1107.9,1893.7 1108.9,1893.2 1109.9,1892.6 1110.9,1892.5 1111.9,1893.1 1112.9,1894.0 1113.9,1894.5 1114.9,1894.1 1115.9,1892.9 1116.9,1891.3 1117.9,1889.0 1118.9,1886.0 1119.9,1882.9 1120.9,1880.4 1121.9,1878.8 1122.9,1878.5 1123.9,1879.1 1124.9,1880.5 1125.9,1882.7 1126.9,1884.9 1127.9,1886.4 1128.9,1887.2 1129.9,1888.2 1130.9,1890.0" fill="none" stroke="#8b0000" stroke-width="5.1" stroke-linejoin="round" stroke-linecap="round"/>
<polyline points="262.9,1927.2 263.9,1926.8 264.9,1926.5 265.9,1926.5 266.9,1926.9 267.9,1927.2 268.9,1927.2 269.9,1926.9 270.9,1926.7 271.9,1927.0 272.9,1927.6 273.9,1928.1 274.9,1928.2 275.9,1928.1 276.9,1928.0 277.9,1927.7 278.9,1927.1 279.9,1926.5 280.9,1926.1 281.9,1926.3 282.9,1926.6 283.9,1926.9 284.9,1926.8 285.9,1926.4 286.9,1926.0 287.9,1925.7 288.9,1925.6 289.9,1925.6 290.9,1925.7 291.9,1925.6 292.9,1925.6 293.9,1925.7 294.9,1925.8 295.9,1925.8 296.9,1926.0 297.9,1926.3 298.9,1926.5 299.9,1926.5 300.9,1926.1 301.9,1925.8 302.9,1926.2 303.9,1927.0 304.9,1927.5 305.9,1927.1 306.9,1925.9 307.9,1924.8 308.9,1924.6 309.9,1925.1 310.9,1925.5 311.9,1925.6 312.9,1925.5 313.9,1925.5 314.9,1925.6 315.9,1926.1 316.9,1926.5 317.9,1926.6 318.9,1926.4 319.9,1926.1 320.9,1925.8 321.9,1925.6 322.9,1925.4 323.9,1925.4 324.9,1925.2 325.9,1925.1 326.9,1925.0 327.9,1924.6 328.9,1924.2 329.9,1924.0 330.9,1924.4 331.9,1925.3 332.9,1926.6 333.9,1927.8 334.9,1928.2 335.9,1927.5 336.9,1926.5 337.9,1925.6 338.9,1925.2 339.9,1925.4 340.9,1925.8 341.9,1925.8 342.9,1925.5 343.9,1925.0 344.9,1924.6 345.9,1924.7 346.9,1925.3 347.9,1926.1 348.9,1926.6 349.9,1926.7 350.9,1926.5 351.9,1926.2 352.9,1925.7 353.9,1925.1 354.9,1924.6 355.9,1924.6 356.9,1925.0 357.9,1925.8 358.9,1926.4 359.9,1926.7 360.9,1926.6 361.9,1926.3 362.9,1925.9 363.9,1925.6 364.9,1925.3 365.9,1924.9 366.9,1924.4 367.9,1923.8 368.9,1923.2 369.9,1922.8 370.9,1922.8 371.9,1922.9 372.9,1923.2 373.9,1923.6 374.9,1923.7 375.9,1923.8 376.9,1924.0 377.9,1924.1 378.9,1924.0 379.9,1923.9 380.9,1923.7 381.9,1923.3 382.9,1922.8 383.9,1922.1 384.9,1921.5 385.9,1921.3 386.9,1921.4 387.9,1921.5 388.9,1921.5 389.9,1921.6 390.9,1921.9 391.9,1922.0 392.9,1921.6 393.9,1920.8 394.9,1920.0 395.9,1919.6 396.9,1919.7 397.9,1919.7 398.9,1919.2 399.9,1918.7 400.9,1918.1 401.9,1917.6 402.9,1917.0 403.9,1916.4 404.9,1915.5 405.9,1914.7 406.9,1913.9 407.9,1913.0 408.9,1911.7 409.9,1910.3 410.9,1907.9 411.9,1904.2 412.9,1900.8 413.9,1899.4 414.9,1899.9 415.9,1900.3 416.9,1900.7 417.9,1901.0 418.9,1901.3 419.9,1901.6 420.9,1901.9 421.9,1902.1 422.9,1902.2 423.9,1902.1 424.9,1901.6 425.9,1900.6 426.9,1899.2 427.9,1897.8 428.9,1896.2 429.9,1894.7 430.9,1893.1 431.9,1891.3 432.9,1889.5 433.9,1887.8 434.9,1886.0 435.9,1883.9 436.9,1881.4 437.9,1878.8 438.9,1876.1 439.9,1873.5 440.9,1870.8 441.9,1868.0 442.9,1865.1 443.9,1862.1 444.9,1859.1 445.9,1855.9 446.9,1852.5 447.9,1848.9 448.9,1845.0 449.9,1841.0 450.9,1836.5 451.9,1831.4 452.9,1825.9 453.9,1820.1 454.9,1814.1 455.9,1807.9 456.9,1801.6 457.9,1795.1 458.9,1788.6 459.9,1781.8 460.9,1774.6 461.9,1766.9 462.9,1758.7 463.9,1749.8 464.9,1740.5 465.9,1730.7 466.9,1720.2 467.9,1708.9 468.9,1696.6 469.9,1682.8 470.9,1666.1 471.9,1646.4 472.9,1626.0 473.9,1606.7 474.9,1587.6 475.9,1569.6 476.9,1553.3 477.9,1538.6 478.9,1530.3 479.9,1530.2 480.9,1540.9 481.9,1572.4 482.9,1598.8 483.9,1624.0 484.9,1648.9 485.9,1673.2 486.9,1695.9 487.9,1718.6 488.9,1738.7 489.9,1753.4 490.9,1765.0 491.9,1774.8 492.9,1783.1 493.9,1790.2 494.9,1796.7 495.9,1802.6 496.9,1807.9 497.9,1812.8 498.9,1816.9 499.9,1820.4 500.9,1823.6 501.9,1826.4 502.9,1829.0 503.9,1831.3 504.9,1833.6 505.9,1835.7 506.9,1837.6 507.9,1839.4 508.9,1840.9 509.9,1842.3 510.9,1843.7 511.9,1845.1 512.9,1846.5 513.9,1847.9 514.9,1849.0 515.9,1849.9 516.9,1850.8 517.9,1851.9 518.9,1853.3 519.9,1854.8 520.9,1856.1 521.9,1857.2 522.9,1858.1 523.9,1859.0 524.9,1859.9 525.9,1860.8 526.9,1861.7 527.9,1862.5 528.9,1863.4 529.9,1864.5 530.9,1865.5 531.9,1866.3 532.9,1867.2 533.9,1868.0 534.9,1868.8 535.9,1869.5 536.9,1870.2 537.9,1870.6 538.9,1871.0 539.9,1871.4 540.9,1871.7 541.9,1871.9 542.9,1872.3 543.9,1872.7 544.9,1872.9 545.9,1872.8 546.9,1872.9 547.9,1873.3 548.9,1874.1 549.9,1874.7 550.9,1874.8 551.9,1874.9 552.9,1875.2 553.9,1875.9 554.9,1876.8 555.9,1877.6 556.9,1878.1 557.9,1878.4 558.9,1878.4 559.9,1878.0 560.9,1877.6 561.9,1877.3 562.9,1877.3 563.9,1877.4 564.9,1877.4 565.9,1877.4 566.9,1877.6 567.9,1878.2 568.9,1878.9 569.9,1879.4 570.9,1879.7 571.9,1879.8 572.9,1879.9 573.9,1880.2 574.9,1880.6 575.9,1881.1 576.9,1881.6 577.9,1882.0 578.9,1882.4 579.9,1882.9 580.9,1883.4 581.9,1883.8 582.9,1883.9 583.9,1884.0 584.9,1884.0 585.9,1884.0 586.9,1884.2 587.9,1884.6 588.9,1885.1 589.9,1885.4 590.9,1885.5 591.9,1885.1 592.9,1884.3 593.9,1883.7 594.9,1883.2 595.9,1882.7 596.9,1882.2 597.9,1881.9 598.9,1881.7 599.9,1881.8 600.9,1882.3 601.9,1882.9 602.9,1883.4 603.9,1883.6 604.9,1883.4 605.9,1882.9 606.9,1882.3 607.9,1881.8 608.9,1881.6 609.9,1881.9 610.9,1882.6 611.9,1883.5 612.9,1884.5 613.9,1885.6 614.9,1886.5 615.9,1886.9 616.9,1886.8 617.9,1886.1 618.9,1885.4 619.9,1885.2 620.9,1884.9 621.9,1884.2 622.9,1883.5 623.9,1883.2 624.9,1883.5 625.9,1884.3 626.9,1885.1 627.9,1885.7 628.9,1886.3 629.9,1887.1 630.9,1887.9 631.9,1888.6 632.9,1888.8 633.9,1888.5 634.9,1887.5 635.9,1886.4 636.9,1885.7 637.9,1885.6 638.9,1886.0 639.9,1886.5 640.9,1886.9 641.9,1886.8 642.9,1886.4 643.9,1885.9 644.9,1885.5 645.9,1885.2 646.9,1885.1 647.9,1884.9 648.9,1884.3 649.9,1883.9 650.9,1883.9 651.9,1884.4 652.9,1885.0 653.9,1885.3 654.9,1885.0 655.9,1884.0 656.9,1882.6 657.9,1880.4 658.9,1877.2 659.9,1873.0 660.9,1868.8 661.9,1866.2 662.9,1866.4 663.9,1869.3 664.9,1873.7 665.9,1877.8 666.9,1880.6 667.9,1882.1 668.9,1883.1 669.9,1884.1 670.9,1885.0 671.9,1885.6 672.9,1885.9 673.9,1886.1 674.9,1886.6 675.9,1887.5 676.9,1888.4 677.9,1888.6 678.9,1888.1 679.9,1887.4 680.9,1886.9 681.9,1886.6 682.9,1886.6 683.9,1886.7 684.9,1886.4 685.9,1885.8 686.9,1885.2 687.9,1884.7 688.9,1884.1 689.9,1883.2 690.9,1881.9 691.9,1880.5 692.9,1879.5 693.9,1879.6 694.9,1881.0 695.9,1883.2 696.9,1885.6 697.9,1888.1 698.9,1890.3 699.9,1892.1 700.9,1893.4 701.9,1894.0 702.9,1894.1 703.9,1894.2 704.9,1894.3 705.9,1894.6 706.9,1894.7 707.9,1894.6 708.9,1894.5 709.9,1894.5 710.9,1894.7 711.9,1894.9 712.9,1895.1 713.9,1895.2 714.9,1895.2 715.9,1895.5 716.9,1896.0 717.9,1896.7 718.9,1897.3 719.9,1897.7 720.9,1897.7 721.9,1897.4 722.9,1896.8 723.9,1896.3 724.9,1896.3 725.9,1896.8 726.9,1897.4 727.9,1897.7 728.9,1897.6 729.9,1897.1 730.9,1896.5 731.9,1896.1 732.9,1896.2 733.9,1896.6 734.9,1897.0 735.9,1897.0 736.9,1896.6 737.9,1895.8 738.9,1895.1 739.9,1894.7 740.9,1894.7 741.9,1894.8 742.9,1894.7 743.9,1894.5 744.9,1894.1 745.9,1894.0 746.9,1894.1 747.9,1894.4 748.9,1894.4 749.9,1894.1 750.9,1893.9 751.9,1893.9 752.9,1894.4 753.9,1895.0 754.9,1895.5 755.9,1895.4 756.9,1894.9 757.9,1894.2 758.9,1893.7 759.9,1893.1 760.9,1892.4 761.9,1891.9 762.9,1892.0 763.9,1892.7 764.9,1893.6 765.9,1894.3 766.9,1894.2 767.9,1893.6 768.9,1893.0 769.9,1892.8 770.9,1893.0 771.9,1893.6 772.9,1894.2 773.9,1894.5 774.9,1894.6 775.9,1894.4 776.9,1894.1 777.9,1893.8 778.9,1893.4 779.9,1893.2 780.9,1893.6 781.9,1894.6 782.9,1895.8 783.9,1896.9 784.9,1897.7 785.9,1898.0 786.9,1898.0 787.9,1897.8 788.9,1897.2 789.9,1896.4 790.9,1895.8 791.9,1895.6 792.9,1895.8 793.9,1896.2 794.9,1896.5 795.9,1896.8 796.9,1897.2 797.9,1897.5 798.9,1897.5 799.9,1897.2 800.9,1896.8 801.9,1896.6 802.9,1896.9 803.9,1897.6 804.9,1898.3 805.9,1898.7 806.9,1898.7 807.9,1898.5 808.9,1898.2 809.9,1897.9 810.9,1897.5 811.9,1897.1 812.9,1896.6 813.9,1896.2 814.9,1895.9 815.9,1895.7 816.9,1895.4 817.9,1895.0 818.9,1894.4 819.9,1893.8 820.9,1893.6 821.9,1893.7 822.9,1893.9 823.9,1894.3 824.9,1894.9 825.9,1895.6 826.9,1896.3 827.9,1896.4 828.9,1896.1 829.9,1895.9 830.9,1895.9 831.9,1896.3 832.9,1896.8 833.9,1897.1 834.9,1897.2 835.9,1897.4 836.9,1897.7 837.9,1897.9 838.9,1897.9 839.9,1897.6 840.9,1897.4 841.9,1897.4 842.9,1897.6 843.9,1898.2 844.9,1899.3 845.9,1900.5 846.9,1901.2 847.9,1901.1 848.9,1900.4 849.9,1899.8 850.9,1900.0 851.9,1901.0 852.9,1902.3 853.9,1903.1 854.9,1903.2 855.9,1902.8 856.9,1902.2 857.9,1901.7 858.9,1901.7 859.9,1902.2 860.9,1902.8 861.9,1903.4 862.9,1904.0 863.9,1904.3 864.9,1904.6 865.9,1905.1 866.9,1905.7 867.9,1906.0 868.9,1906.3 869.9,1906.4 870.9,1906.2 871.9,1905.8 872.9,1905.3 873.9,1904.9 874.9,1905.0 875.9,1905.6 876.9,1906.3 877.9,1906.7 878.9,1906.7 879.9,1906.6 880.9,1906.4 881.9,1906.5 882.9,1906.5 883.9,1906.6 884.9,1906.9 885.9,1907.3 886.9,1907.6 887.9,1908.1 888.9,1908.5 889.9,1908.8 890.9,1909.0 891.9,1909.3 892.9,1909.4 893.9,1909.2 894.9,1908.8 895.9,1908.5 896.9,1908.5 897.9,1909.0 898.9,1909.8 899.9,1910.5 900.9,1911.2 901.9,1911.9 902.9,1913.0 903.9,1914.5 904.9,1916.1 905.9,1918.0 906.9,1920.2 907.9,1923.1 908.9,1927.1 909.9,1932.8 910.9,1940.8 911.9,1951.4 912.9,1964.2 913.9,1976.3 914.9,1981.5 915.9,1976.2 916.9,1963.9 917.9,1950.9 918.9,1940.2 919.9,1932.1 920.9,1926.2 921.9,1921.8 922.9,1918.6 923.9,1916.2 924.9,1914.8 925.9,1914.0 926.9,1913.3 927.9,1912.0 928.9,1910.0 929.9,1908.1 930.9,1907.0 931.9,1906.7 932.9,1907.0 933.9,1907.3 934.9,1907.3 935.9,1906.7 936.9,1905.5 937.9,1903.8 938.9,1902.2 939.9,1901.3 940.9,1901.3 941.9,1901.7 942.9,1901.7 943.9,1900.9 944.9,1899.8 945.9,1898.8 946.9,1898.2 947.9,1898.1 948.9,1898.0 949.9,1897.7 950.9,1897.4 951.9,1897.2 952.9,1897.1 953.9,1896.9 954.9,1896.9 955.9,1896.9 956.9,1897.0 957.9,1897.2 958.9,1897.5 959.9,1898.0 960.9,1898.3 961.9,1898.5 962.9,1898.3 963.9,1897.9 964.9,1897.5 965.9,1897.1 966.9,1896.7 967.9,1896.1 968.9,1895.7 969.9,1895.7 970.9,1896.2 971.9,1896.8 972.9,1897.0 973.9,1897.0 974.9,1896.8 975.9,1896.7 976.9,1896.7 977.9,1896.8 978.9,1897.3 979.9,1898.2 980.9,1899.1 981.9,1899.2 982.9,1898.8 983.9,1898.2 984.9,1897.8 985.9,1898.1 986.9,1898.6 987.9,1898.7 988.9,1898.3 989.9,1897.8 990.9,1897.4 991.9,1897.3 992.9,1897.6 993.9,1898.1 994.9,1898.4 995.9,1898.5 996.9,1898.4 997.9,1898.2 998.9,1897.8 999.9,1897.4 1000.9,1897.2 1001.9,1897.4 1002.9,1897.8 1003.9,1898.4 1004.9,1898.9 1005.9,1899.1 1006.9,1899.3 1007.9,1899.5 1008.9,1899.7 1009.9,1899.8 1010.9,1900.0 1011.9,1900.5 1012.9,1901.1 1013.9,1901.4 1014.9,1901.3 1015.9,1900.8 1016.9,1900.3 1017.9,1899.9 1018.9,1899.8 1019.9,1899.9 1020.9,1899.9 1021.9,1899.9 1022.9,1899.8 1023.9,1899.4 1024.9,1898.9 1025.9,1898.5 1026.9,1898.2 1027.9,1898.1 1028.9,1898.2 1029.9,1898.1 1030.9,1897.9 1031.9,1897.5 1032.9,1897.1 1033.9,1896.9 1034.9,1897.0 1035.9,1897.3 1036.9,1897.5 1037.9,1897.4 1038.9,1897.0 1039.9,1896.7 1040.9,1896.7 1041.9,1897.0 1042.9,1897.7 1043.9,1898.6 1044.9,1899.6 1045.9,1900.3 1046.9,1900.8 1047.9,1901.0 1048.9,1900.9 1049.9,1900.3 1050.9,1899.5 1051.9,1898.5 1052.9,1897.5 1053.9,1896.7 1054.9,1896.4 1055.9,1896.3 1056.9,1896.4 1057.9,1896.7 1058.9,1897.1 1059.9,1897.3 1060.9,1897.2 1061.9,1896.9 1062.9,1896.6 1063.9,1896.6 1064.9,1897.0 1065.9,1897.3 1066.9,1897.6 1067.9,1897.8 1068.9,1898.3 1069.9,1899.2 1070.9,1900.5 1071.9,1901.5 1072.9,1902.0 1073.9,1902.2 1074.9,1902.3 1075.9,1902.4 1076.9,1902.6 1077.9,1902.5 1078.9,1902.2 1079.9,1902.1 1080.9,1901.9 1081.9,1901.3 1082.9,1900.8 1083.9,1900.5 1084.9,1900.4 1085.9,1900.4 1086.9,1900.0 1087.9,1899.3 1088.9,1898.6 1089.9,1898.4 1090.9,1898.4 1091.9,1898.6 1092.9,1898.9 1093.9,1899.4 1094.9,1899.9 1095.9,1900.5 1096.9,1900.5 1097.9,1900.0 1098.9,1899.1 1099.9,1898.1 1100.9,1897.4 1101.9,1897.0 1102.9,1896.6 1103.9,1896.1 1104.9,1895.8 1105.9,1896.0 1106.9,1896.7 1107.9,1897.6 1108.9,1898.4 1109.9,1898.7 1110.9,1898.4 1111.9,1898.2 1112.9,1898.5 1113.9,1899.2 1114.9,1899.8 1115.9,1899.8 1116.9,1898.9 1117.9,1897.6 1118.9,1896.3 1119.9,1894.9 1120.9,1893.0 1121.9,1890.9 1122.9,1889.2 1123.9,1888.7 1124.9,1889.2 1125.9,1890.3 1126.9,1891.4 1127.9,1892.3 1128.9,1893.4 1129.9,1894.8 1130.9,1896.3" fill="none" stroke="#d2691e" stroke-width="5.1" stroke-linejoin="round" stroke-linecap="round"/>
<polyline points="262.9,1940.3 263.9,1940.8 264.9,1941.3 265.9,1941.6 266.9,1941.4 267.9,1941.0 268.9,1940.9 269.9,1941.5 270.9,1942.2 271.9,1942.5 272.9,1942.2 273.9,1941.7 274.9,1941.3 275.9,1941.3 276.9,1941.3 277.9,1940.9 278.9,1940.6 279.9,1940.8 280.9,1941.3 281.9,1941.8 282.9,1942.2 283.9,1942.3 284.9,1942.0 285.9,1941.7 286.9,1941.3 287.9,1940.8 288.9,1940.4 289.9,1940.0 290.9,1939.8 291.9,1939.6 292.9,1939.6 293.9,1939.9 294.9,1940.8 295.9,1941.7 296.9,1942.1 297.9,1941.9 298.9,1941.4 299.9,1941.2 300.9,1941.5 301.9,1941.8 302.9,1941.6 303.9,1940.7 304.9,1939.6 305.9,1938.6 306.9,1938.0 307.9,1937.6 308.9,1937.5 309.9,1937.5 310.9,1937.8 311.9,1938.1 312.9,1938.2 313.9,1938.4 314.9,1938.8 315.9,1939.2 316.9,1939.5 317.9,1939.4 318.9,1938.6 319.9,1937.8 320.9,1937.3 321.9,1937.3 322.9,1937.9 323.9,1938.5 324.9,1938.9 325.9,1938.7 326.9,1938.3 327.9,1937.8 328.9,1937.7 329.9,1937.9 330.9,1938.3 331.9,1938.9 332.9,1939.5 333.9,1940.0 334.9,1940.6 335.9,1941.0 336.9,1941.2 337.9,1941.4 338.9,1941.7 339.9,1942.0 340.9,1942.1 341.9,1942.1 342.9,1941.9 343.9,1941.7 344.9,1941.8 345.9,1942.0 346.9,1942.2 347.9,1942.4 348.9,1942.4 349.9,1942.4 350.9,1942.3 351.9,1942.2 352.9,1942.2 353.9,1942.1 354.9,1941.7 355.9,1940.6 356.9,1939.4 357.9,1938.5 358.9,1938.5 359.9,1939.0 360.9,1939.6 361.9,1939.9 362.9,1939.6 363.9,1939.1 364.9,1938.6 365.9,1938.4 366.9,1938.7 367.9,1939.2 368.9,1939.7 369.9,1939.9 370.9,1939.8 371.9,1939.7 372.9,1939.7 373.9,1939.7 374.9,1939.4 375.9,1938.7 376.9,1937.7 377.9,1937.0 378.9,1936.8 379.9,1936.8 380.9,1936.4 381.9,1935.5 382.9,1934.5 383.9,1933.8 384.9,1933.8 385.9,1934.1 386.9,1934.6 387.9,1935.0 388.9,1935.3 389.9,1935.5 390.9,1935.4 391.9,1935.1 392.9,1934.7 393.9,1934.3 394.9,1934.1 395.9,1934.1 396.9,1934.4 397.9,1934.5 398.9,1934.4 399.9,1934.1 400.9,1934.0 401.9,1934.1 402.9,1934.1 403.9,1934.0 404.9,1933.6 405.9,1933.1 406.9,1932.8 407.9,1932.2 408.9,1931.4 409.9,1930.7 410.9,1929.3 411.9,1926.2 412.9,1922.5 413.9,1919.8 414.9,1918.7 415.9,1918.1 416.9,1918.1 417.9,1918.3 418.9,1918.0 419.9,1917.5 420.9,1917.3 421.9,1917.7 422.9,1918.3 423.9,1918.7 424.9,1918.6 425.9,1917.9 426.9,1916.5 427.9,1914.9 428.9,1913.2 429.9,1911.6 430.9,1910.2 431.9,1908.9 432.9,1907.3 433.9,1905.6 434.9,1903.8 435.9,1902.2 436.9,1900.7 437.9,1899.0 438.9,1897.0 439.9,1894.6 440.9,1892.1 441.9,1889.8 442.9,1887.6 443.9,1885.4 444.9,1882.9 445.9,1880.3 446.9,1877.5 447.9,1874.6 448.9,1871.6 449.9,1868.5 450.9,1865.1 451.9,1861.4 452.9,1857.4 453.9,1852.9 454.9,1848.2 455.9,1843.4 456.9,1838.4 457.9,1833.2 458.9,1827.5 459.9,1821.5 460.9,1815.2 461.9,1808.7 462.9,1801.7 463.9,1794.2 464.9,1786.1 465.9,1777.6 466.9,1768.9 467.9,1759.8 468.9,1749.8 469.9,1738.3 470.9,1724.4 471.9,1708.1 472.9,1691.2 473.9,1675.3 474.9,1659.6 475.9,1644.3 476.9,1629.0 477.9,1614.0 478.9,1604.8 479.9,1604.3 480.9,1615.9 481.9,1650.5 482.9,1679.7 483.9,1706.3 484.9,1729.8 485.9,1750.9 486.9,1769.4 487.9,1786.2 488.9,1800.7 489.9,1811.5 490.9,1820.3 491.9,1827.9 492.9,1834.2 493.9,1839.0 494.9,1842.9 495.9,1846.3 496.9,1849.2 497.9,1851.9 498.9,1854.5 499.9,1856.7 500.9,1858.7 501.9,1860.4 502.9,1862.1 503.9,1863.8 504.9,1865.3 505.9,1866.7 506.9,1868.0 507.9,1869.1 508.9,1870.2 509.9,1871.2 510.9,1872.1 511.9,1873.0 512.9,1873.8 513.9,1874.6 514.9,1875.4 515.9,1876.3 516.9,1877.3 517.9,1878.4 518.9,1879.5 519.9,1880.4 520.9,1881.1 521.9,1881.9 522.9,1882.8 523.9,1883.8 524.9,1884.7 525.9,1885.2 526.9,1885.4 527.9,1885.2 528.9,1885.0 529.9,1885.0 530.9,1885.6 531.9,1886.5 532.9,1887.2 533.9,1887.3 534.9,1886.9 535.9,1886.4 536.9,1886.4 537.9,1886.9 538.9,1887.5 539.9,1888.1 540.9,1888.7 541.9,1889.5 542.9,1890.8 543.9,1892.0 544.9,1893.0 545.9,1893.5 546.9,1893.8 547.9,1894.0 548.9,1894.5 549.9,1895.0 550.9,1895.3 551.9,1895.3 552.9,1895.1 553.9,1894.7 554.9,1894.4 555.9,1894.3 556.9,1894.3 557.9,1894.3 558.9,1894.5 559.9,1895.0 560.9,1895.5 561.9,1895.6 562.9,1895.3 563.9,1894.9 564.9,1894.5 565.9,1894.1 566.9,1893.8 567.9,1893.5 568.9,1893.6 569.9,1894.3 570.9,1895.2 571.9,1895.6 572.9,1895.6 573.9,1895.5 574.9,1895.7 575.9,1896.5 576.9,1897.5 577.9,1898.2 578.9,1898.0 579.9,1897.2 580.9,1896.4 581.9,1895.9 582.9,1895.9 583.9,1896.2 584.9,1896.3 585.9,1895.9 586.9,1895.3 587.9,1895.0 588.9,1895.3 589.9,1896.3 590.9,1897.2 591.9,1897.6 592.9,1897.6 593.9,1897.4 594.9,1897.5 595.9,1898.1 596.9,1898.9 597.9,1899.5 598.9,1899.7 599.9,1899.4 600.9,1898.8 601.9,1898.5 602.9,1898.9 603.9,1899.7 604.9,1900.1 605.9,1899.7 606.9,1898.6 607.9,1897.3 608.9,1896.7 609.9,1896.7 610.9,1897.4 611.9,1898.4 612.9,1899.5 613.9,1900.6 614.9,1901.6 615.9,1902.2 616.9,1902.2 617.9,1901.9 618.9,1901.6 619.9,1901.6 620.9,1902.3 621.9,1903.5 622.9,1904.4 623.9,1904.8 624.9,1904.2 625.9,1902.6 626.9,1900.6 627.9,1899.3 628.9,1898.9 629.9,1899.2 630.9,1899.9 631.9,1900.3 632.9,1900.2 633.9,1900.1 634.9,1900.1 635.9,1900.0 636.9,1899.8 637.9,1899.8 638.9,1900.0 639.9,1900.5 640.9,1901.1 641.9,1901.3 642.9,1900.7 643.9,1899.8 644.9,1899.6 645.9,1900.3 646.9,1901.5 647.9,1902.6 648.9,1903.3 649.9,1903.3 650.9,1902.9 651.9,1902.5 652.9,1902.3 653.9,1901.9 654.9,1901.2 655.9,1900.1 656.9,1898.2 657.9,1895.3 658.9,1891.3 659.9,1886.5 660.9,1882.2 661.9,1879.9 662.9,1880.7 663.9,1884.0 664.9,1888.6 665.9,1892.9 666.9,1896.2 667.9,1898.3 668.9,1899.2 669.9,1899.3 670.9,1899.3 671.9,1899.2 672.9,1898.8 673.9,1898.1 674.9,1897.2 675.9,1896.5 676.9,1896.3 677.9,1896.9 678.9,1897.7 679.9,1898.3 680.9,1898.7 681.9,1899.0 682.9,1899.0 683.9,1898.9 684.9,1899.1 685.9,1899.2 686.9,1899.0 687.9,1898.4 688.9,1897.4 689.9,1896.2 690.9,1894.8 691.9,1893.6 692.9,1892.6 693.9,1892.5 694.9,1893.6 695.9,1895.9 696.9,1898.5 697.9,1900.6 698.9,1901.7 699.9,1901.9 700.9,1902.0 701.9,1902.8 702.9,1903.8 703.9,1904.6 704.9,1904.7 705.9,1904.5 706.9,1904.3 707.9,1904.5 708.9,1904.6 709.9,1904.6 710.9,1905.0 711.9,1905.5 712.9,1906.3 713.9,1907.0 714.9,1907.4 715.9,1907.4 716.9,1907.1 717.9,1906.7 718.9,1906.5 719.9,1906.9 720.9,1907.4 721.9,1907.6 722.9,1907.7 723.9,1907.6 724.9,1907.5 725.9,1907.2 726.9,1906.9 727.9,1906.4 728.9,1906.0 729.9,1906.1 730.9,1906.7 731.9,1907.4 732.9,1907.9 733.9,1907.9 734.9,1907.4 735.9,1906.7 736.9,1906.2 737.9,1906.1 738.9,1906.3 739.9,1906.7 740.9,1906.7 741.9,1906.1 742.9,1905.0 743.9,1904.0 744.9,1903.7 745.9,1904.2 746.9,1904.8 747.9,1904.8 748.9,1904.4 749.9,1903.8 750.9,1903.5 751.9,1903.6 752.9,1903.7 753.9,1903.5 754.9,1903.1 755.9,1902.7 756.9,1902.7 757.9,1903.3 758.9,1904.0 759.9,1904.5 760.9,1904.8 761.9,1904.9 762.9,1904.8 763.9,1904.3 764.9,1903.5 765.9,1902.7 766.9,1901.8 767.9,1901.1 768.9,1900.4 769.9,1899.8 770.9,1899.3 771.9,1899.1 772.9,1899.4 773.9,1899.8 774.9,1900.0 775.9,1899.7 776.9,1898.8 777.9,1897.6 778.9,1896.7 779.9,1896.6 780.9,1897.2 781.9,1898.0 782.9,1898.8 783.9,1899.3 784.9,1899.8 785.9,1900.7 786.9,1901.6 787.9,1902.3 788.9,1902.3 789.9,1901.6 790.9,1900.7 791.9,1899.9 792.9,1899.3 793.9,1899.1 794.9,1899.3 795.9,1899.1 796.9,1898.6 797.9,1897.8 798.9,1897.1 799.9,1897.3 800.9,1898.6 801.9,1900.4 802.9,1902.0 803.9,1903.2 804.9,1903.8 805.9,1904.0 806.9,1903.6 807.9,1902.8 808.9,1902.1 809.9,1901.7 810.9,1901.8 811.9,1902.2 812.9,1902.7 813.9,1903.1 814.9,1903.3 815.9,1903.5 816.9,1903.8 817.9,1904.2 818.9,1904.1 819.9,1903.9 820.9,1903.6 821.9,1903.7 822.9,1904.2 823.9,1905.0 824.9,1905.7 825.9,1906.4 826.9,1906.9 827.9,1907.1 828.9,1907.1 829.9,1906.8 830.9,1906.7 831.9,1906.9 832.9,1907.1 833.9,1907.1 834.9,1906.9 835.9,1906.8 836.9,1906.8 837.9,1907.0 838.9,1907.4 839.9,1907.7 840.9,1907.7 841.9,1907.5 842.9,1906.9 843.9,1906.3 844.9,1906.0 845.9,1906.1 846.9,1906.5 847.9,1907.0 848.9,1907.5 849.9,1908.2 850.9,1909.1 851.9,1909.8 852.9,1910.0 853.9,1909.7 854.9,1909.0 855.9,1908.4 856.9,1908.1 857.9,1908.0 858.9,1908.2 859.9,1908.8 860.9,1909.5 861.9,1910.2 862.9,1910.5 863.9,1910.5 864.9,1910.1 865.9,1909.7 866.9,1909.5 867.9,1909.4 868.9,1909.6 869.9,1909.8 870.9,1910.1 871.9,1910.3 872.9,1910.6 873.9,1911.0 874.9,1911.5 875.9,1912.1 876.9,1912.6 877.9,1913.1 878.9,1913.3 879.9,1913.4 880.9,1913.6 881.9,1914.3 882.9,1915.4 883.9,1916.3 884.9,1916.5 885.9,1916.3 886.9,1915.9 887.9,1915.7 888.9,1915.7 889.9,1915.8 890.9,1915.8 891.9,1915.9 892.9,1916.5 893.9,1917.3 894.9,1918.2 895.9,1918.9 896.9,1919.4 897.9,1919.8 898.9,1919.8 899.9,1920.0 900.9,1920.6 901.9,1921.5 902.9,1922.6 903.9,1923.7 904.9,1924.7 905.9,1926.0 906.9,1928.1 907.9,1931.0 908.9,1935.1 909.9,1940.6 910.9,1948.0 911.9,1958.0 912.9,1970.2 913.9,1981.7 914.9,1986.7 915.9,1981.6 916.9,1970.1 917.9,1957.8 918.9,1947.7 919.9,1940.1 920.9,1934.7 921.9,1930.9 922.9,1928.2 923.9,1926.2 924.9,1924.6 925.9,1923.1 926.9,1921.6 927.9,1919.9 928.9,1918.2 929.9,1916.8 930.9,1915.9 931.9,1915.6 932.9,1915.6 933.9,1915.0 934.9,1913.9 935.9,1912.7 936.9,1911.9 937.9,1911.5 938.9,1911.5 939.9,1911.6 940.9,1911.4 941.9,1911.3 942.9,1911.1 943.9,1911.1 944.9,1911.2 945.9,1911.4 946.9,1911.6 947.9,1911.7 948.9,1912.0 949.9,1912.6 950.9,1913.5 951.9,1914.2 952.9,1914.9 953.9,1915.6 954.9,1916.0 955.9,1916.2 956.9,1916.0 957.9,1915.5 958.9,1915.1 959.9,1914.7 960.9,1914.4 961.9,1914.1 962.9,1913.8 963.9,1913.6 964.9,1913.0 965.9,1912.3 966.9,1911.7 967.9,1911.4 968.9,1911.7 969.9,1912.2 970.9,1912.2 971.9,1911.5 972.9,1910.4 973.9,1909.3 974.9,1908.9 975.9,1909.0 976.9,1909.2 977.9,1909.2 978.9,1909.0 979.9,1908.7 980.9,1908.8 981.9,1909.4 982.9,1909.8 983.9,1909.9 984.9,1909.5 985.9,1908.9 986.9,1908.7 987.9,1909.0 988.9,1909.2 989.9,1909.5 990.9,1909.9 991.9,1910.7 992.9,1911.9 993.9,1913.3 994.9,1914.5 995.9,1915.1 996.9,1915.3 997.9,1915.2 998.9,1915.3 999.9,1915.7 1000.9,1916.2 1001.9,1916.5 1002.9,1916.4 1003.9,1916.2 1004.9,1916.3 1005.9,1916.3 1006.9,1916.0 1007.9,1915.6 1008.9,1915.2 1009.9,1915.2 1010.9,1915.8 1011.9,1916.6 1012.9,1916.9 1013.9,1916.5 1014.9,1915.8 1015.9,1915.0 1016.9,1914.8 1017.9,1915.6 1018.9,1916.7 1019.9,1917.5 1020.9,1917.7 1021.9,1917.2 1022.9,1916.6 1023.9,1916.3 1024.9,1916.2 1025.9,1916.0 1026.9,1915.3 1027.9,1914.3 1028.9,1913.1 1029.9,1912.3 1030.9,1911.9 1031.9,1911.9 1032.9,1912.2 1033.9,1912.5 1034.9,1912.4 1035.9,1912.2 1036.9,1911.7 1037.9,1911.1 1038.9,1910.7 1039.9,1910.4 1040.9,1910.3 1041.9,1910.3 1042.9,1910.1 1043.9,1909.8 1044.9,1909.7 1045.9,1909.7 1046.9,1909.6 1047.9,1909.7 1048.9,1909.8 1049.9,1909.9 1050.9,1909.9 1051.9,1909.6 1052.9,1909.2 1053.9,1908.9 1054.9,1908.6 1055.9,1908.4 1056.9,1908.5 1057.9,1909.0 1058.9,1909.7 1059.9,1910.3 1060.9,1910.8 1061.9,1911.1 1062.9,1911.5 1063.9,1911.7 1064.9,1911.7 1065.9,1911.9 1066.9,1912.4 1067.9,1913.1 1068.9,1913.5 1069.9,1913.4 1070.9,1913.2 1071.9,1912.9 1072.9,1912.9 1073.9,1912.9 1074.9,1912.8 1075.9,1912.8 1076.9,1912.9 1077.9,1913.1 1078.9,1913.2 1079.9,1912.9 1080.9,1912.6 1081.9,1912.4 1082.9,1912.1 1083.9,1911.6 1084.9,1911.1 1085.9,1910.6 1086.9,1910.5 1087.9,1910.6 1088.9,1910.6 1089.9,1910.3 1090.9,1909.6 1091.9,1909.2 1092.9,1909.3 1093.9,1910.0 1094.9,1911.0 1095.9,1912.0 1096.9,1912.6 1097.9,1912.8 1098.9,1912.7 1099.9,1912.3 1100.9,1912.1 1101.9,1911.9 1102.9,1912.0 1103.9,1912.1 1104.9,1912.0 1105.9,1912.0 1106.9,1912.2 1107.9,1912.8 1108.9,1913.3 1109.9,1913.4 1110.9,1913.2 1111.9,1912.8 1112.9,1912.4 1113.9,1911.9 1114.9,1911.2 1115.9,1910.3 1116.9,1909.6 1117.9,1908.9 1118.9,1908.3 1119.9,1907.4 1120.9,1906.4 1121.9,1905.5 1122.9,1904.6 1123.9,1903.9 1124.9,1903.5 1125.9,1903.5 1126.9,1903.8 1127.9,1904.4 1128.9,1905.2 1129.9,1906.5 1130.9,1908.2" fill="none" stroke="#9400d3" stroke-width="5.0" stroke-linejoin="round" stroke-linecap="round"/>
<line x1="219.50" y1="1506.50" x2="219.50" y2="2011.70" stroke="#1c1c1c" stroke-width="2.6"/>
<line x1="218.20" y1="2010.40" x2="1174.50" y2="2010.40" stroke="#1c1c1c" stroke-width="2.6"/>
<line x1="262.90" y1="2010.40" x2="262.90" y2="2015.80" stroke="#222" stroke-width="1.8"/>
<line x1="479.40" y1="2010.40" x2="479.40" y2="2015.80" stroke="#222" stroke-width="1.8"/>
<line x1="914.90" y1="2010.40" x2="914.90" y2="2015.80" stroke="#222" stroke-width="1.8"/>
<line x1="1131.30" y1="2010.40" x2="1131.30" y2="2015.80" stroke="#222" stroke-width="1.8"/>
<line x1="213.10" y1="1886.30" x2="219.50" y2="1886.30" stroke="#222" stroke-width="1.8"/>
<line x1="213.10" y1="1689.30" x2="219.50" y2="1689.30" stroke="#222" stroke-width="1.8"/>
<text x="208.6" y="1696.2" font-family="'DejaVu Sans','Liberation Sans',sans-serif" font-size="18.4" font-weight="normal" text-anchor="end" fill="#222" textLength="32.0" lengthAdjust="spacingAndGlyphs" stroke="#222" stroke-width="0.3">10</text>
<text x="208.6" y="1893.2" font-family="'DejaVu Sans','Liberation Sans',sans-serif" font-size="18.4" font-weight="normal" text-anchor="end" fill="#222" textLength="15.5" lengthAdjust="spacingAndGlyphs" stroke="#222" stroke-width="0.3">5</text>
<text x="264.1" y="2034.2" font-family="'DejaVu Sans','Liberation Sans',sans-serif" font-size="19.4" font-weight="normal" text-anchor="middle" fill="#222" textLength="63.5" lengthAdjust="spacingAndGlyphs" stroke="#222" stroke-width="0.3">-3 kb</text>
<text x="480.2" y="2034.4" font-family="'DejaVu Sans','Liberation Sans',sans-serif" font-size="19.6" font-weight="normal" text-anchor="middle" fill="#222" textLength="46.0" lengthAdjust="spacingAndGlyphs" stroke="#222" stroke-width="0.3">TSS</text>
<text x="914.7" y="2034.4" font-family="'DejaVu Sans','Liberation Sans',sans-serif" font-size="19.6" font-weight="normal" text-anchor="middle" fill="#222" textLength="47.0" lengthAdjust="spacingAndGlyphs" stroke="#222" stroke-width="0.3">TES</text>
<text x="1132.0" y="2034.4" font-family="'DejaVu Sans','Liberation Sans',sans-serif" font-size="19.6" font-weight="normal" text-anchor="middle" fill="#222" textLength="55.0" lengthAdjust="spacingAndGlyphs" stroke="#222" stroke-width="0.3">3 kb</text>
<text x="0" y="0" transform="translate(163.2,1758.0) rotate(-90)" font-family="'Liberation Sans','DejaVu Sans',sans-serif" font-size="28.0" font-weight="bold" text-anchor="middle" fill="#000" textLength="268.5" lengthAdjust="spacingAndGlyphs" stroke="#000" stroke-width="0.55">Normalied read count</text>
<rect x="1212.80" y="1726.60" width="7.20" height="5.20" fill="#00008b" stroke="none" stroke-width="1.0" rx="0.8"/>
<text x="1232.4" y="1735.8" font-family="'DejaVu Sans','Liberation Sans',sans-serif" font-size="14.8" font-weight="normal" text-anchor="start" fill="#333" textLength="70.0" lengthAdjust="spacingAndGlyphs">T2943-1</text>
<rect x="1212.80" y="1746.10" width="7.20" height="5.20" fill="#8b0000" stroke="none" stroke-width="1.0" rx="0.8"/>
<text x="1232.4" y="1755.3" font-family="'DejaVu Sans','Liberation Sans',sans-serif" font-size="14.8" font-weight="normal" text-anchor="start" fill="#333" textLength="70.0" lengthAdjust="spacingAndGlyphs">T2943-2</text>
<rect x="1212.80" y="1765.60" width="7.20" height="5.20" fill="#d2691e" stroke="none" stroke-width="1.0" rx="0.8"/>
<text x="1230.8" y="1774.8" font-family="'DejaVu Sans','Liberation Sans',sans-serif" font-size="14.8" font-weight="normal" text-anchor="start" fill="#333" textLength="73.5" lengthAdjust="spacingAndGlyphs">Model-1</text>
<rect x="1212.80" y="1785.20" width="7.20" height="5.20" fill="#9400d3" stroke="none" stroke-width="1.0" rx="0.8"/>
<text x="1230.8" y="1794.4" font-family="'DejaVu Sans','Liberation Sans',sans-serif" font-size="14.8" font-weight="normal" text-anchor="start" fill="#333" textLength="73.5" lengthAdjust="spacingAndGlyphs">Model-2</text>
<text x="7.0" y="1474.5" font-family="'Liberation Sans','DejaVu Sans',sans-serif" font-size="40" font-weight="bold" text-anchor="start" fill="#000" textLength="19.0" lengthAdjust="spacingAndGlyphs">c</text>
</svg>
</body></html>
